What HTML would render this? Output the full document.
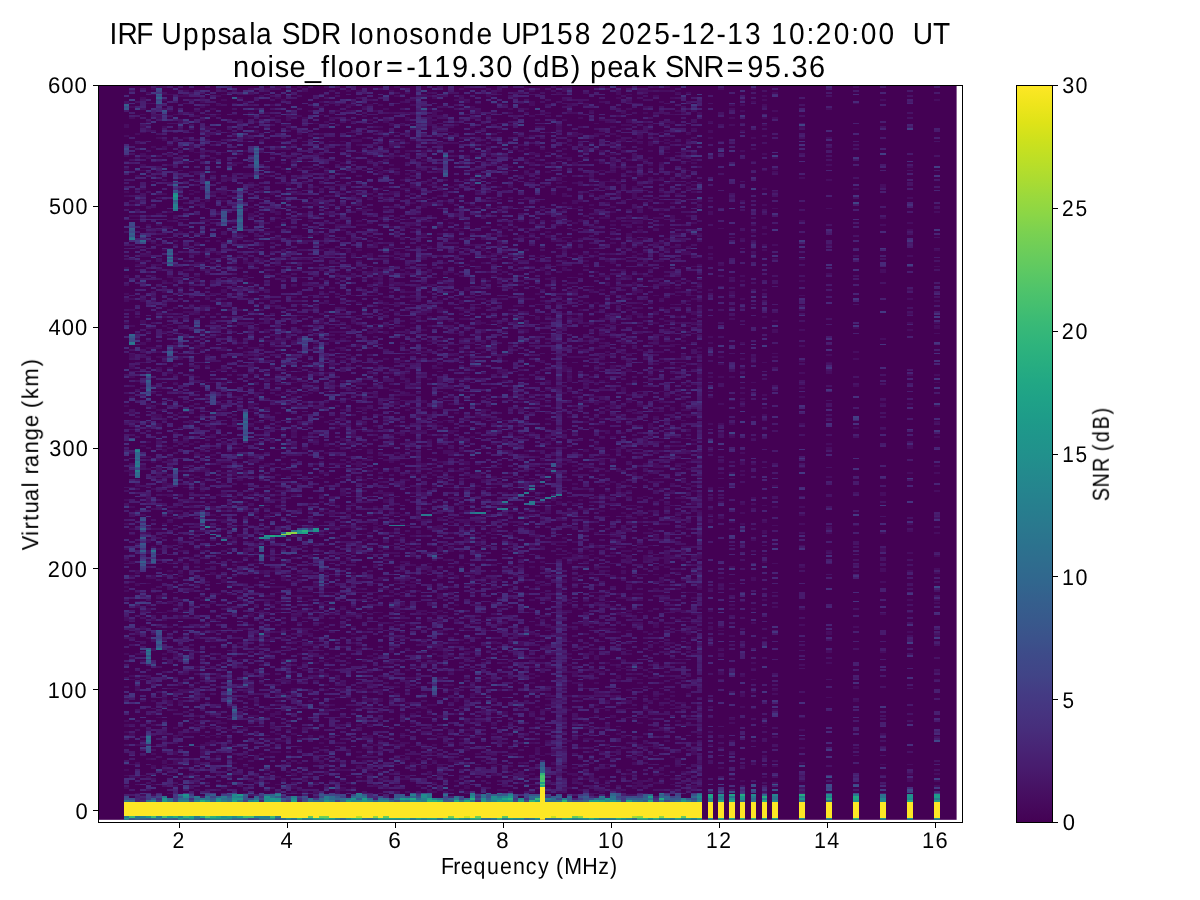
<!DOCTYPE html>
<html><head><meta charset="utf-8"><style>
html,body{margin:0;padding:0;background:#fff;width:1200px;height:900px;overflow:hidden}
svg{display:block}
text{font-family:"Liberation Sans",sans-serif;fill:#000}
</style></head><body>
<svg width="1200" height="900" viewBox="0 0 1200 900" text-rendering="geometricPrecision">
<defs>
<clipPath id="dc"><rect x="98.25" y="85.5" width="858.35" height="734.30"/></clipPath>
<linearGradient id="vg" x1="0" y1="1" x2="0" y2="0">
<stop offset="0.000" stop-color="#440154"/><stop offset="0.025" stop-color="#460a5d"/><stop offset="0.050" stop-color="#471365"/><stop offset="0.075" stop-color="#481c6e"/><stop offset="0.100" stop-color="#482475"/><stop offset="0.125" stop-color="#472d7b"/><stop offset="0.150" stop-color="#463480"/><stop offset="0.175" stop-color="#443b84"/><stop offset="0.200" stop-color="#414487"/><stop offset="0.225" stop-color="#3e4a89"/><stop offset="0.250" stop-color="#3b528b"/><stop offset="0.275" stop-color="#38598c"/><stop offset="0.300" stop-color="#355f8d"/><stop offset="0.325" stop-color="#31668e"/><stop offset="0.350" stop-color="#2f6c8e"/><stop offset="0.375" stop-color="#2c728e"/><stop offset="0.400" stop-color="#2a788e"/><stop offset="0.425" stop-color="#277e8e"/><stop offset="0.450" stop-color="#25848e"/><stop offset="0.475" stop-color="#238a8d"/><stop offset="0.500" stop-color="#21918c"/><stop offset="0.525" stop-color="#1f968b"/><stop offset="0.550" stop-color="#1e9c89"/><stop offset="0.575" stop-color="#1fa287"/><stop offset="0.600" stop-color="#22a884"/><stop offset="0.625" stop-color="#28ae80"/><stop offset="0.650" stop-color="#2fb47c"/><stop offset="0.675" stop-color="#38b977"/><stop offset="0.700" stop-color="#44bf70"/><stop offset="0.725" stop-color="#50c46a"/><stop offset="0.750" stop-color="#5ec962"/><stop offset="0.775" stop-color="#6ccd5a"/><stop offset="0.800" stop-color="#7ad151"/><stop offset="0.825" stop-color="#8bd646"/><stop offset="0.850" stop-color="#9bd93c"/><stop offset="0.875" stop-color="#addc30"/><stop offset="0.900" stop-color="#bddf26"/><stop offset="0.925" stop-color="#cde11d"/><stop offset="0.950" stop-color="#dfe318"/><stop offset="0.975" stop-color="#efe51c"/><stop offset="1.000" stop-color="#fde725"/>
</linearGradient>
</defs>
<rect x="98.25" y="85.5" width="858.35" height="734.30" fill="#440154"/>
<g clip-path="url(#dc)"><g transform="translate(124.0,84.534) scale(5.403,1.811)" fill="none" stroke-width="1" shape-rendering="crispEdges">
<path stroke="#470d60" d="M0.5 0v1m0 21v2m0 4v1m0 10v1m0 2v1m0 3v1m0 12v1m0 1v1m0 39v1m0 3v1m0 9v1m0 2v2m0 11v1m0 45v1m0 35v1m0 15v1m0 12v1m0 13v1m0 5v1m0 14v1m0 1v1m0 14v2m0 18v1m0 9v1m0 14v1m0 11v1m0 1v2m0 2v1m0 17v1m0 2v1m0 2v1m0 6v1M1.5 12v1m0 5v1m0 53v1m0 1v1m0 43v1m0 5v1m0 8v1m0 15v2m0 5v1m0 4v1m0 10v1m0 8v1m0 31v2m0 7v1m0 10v1m0 11v1m0 2v1m0 10v1m0 3v1m0 7v1m0 44v1m0 9v1m0 1v1m0 29v2M2.5 27v1m0 12v1m0 9v1m0 7v1m0 5v2m0 6v1m0 1v1m0 8v1m0 6v1m0 6v1m0 1v1m0 7v1m0 20v1m0 8v1m0 47v1m0 34v2m0 13v1m0 32v2m0 5v2m0 3v1m0 4v1m0 2v1m0 14v1m0 10v1m0 12v1m0 4v2m0 30v1m0 9v1m0 7v1m0 8v1M3.5 0v1m0 6v1m0 8v1m0 6v1m0 2v1m0 4v1m0 6v1m0 5v1m0 2v1m0 9v1m0 8v1m0 12v1m0 14v1m0 2v1m0 1v2m0 15v1m0 2v1m0 10v2m0 10v2m0 21v1m0 33v1m0 10v2m0 25v1m0 61v1m0 14v1m0 3v1m0 21v1m0 21v1m0 29v1M4.5 0v1m0 3v1m0 5v1m0 9v1m0 1v1m0 1v1m0 14v2m0 36v1m0 1v1m0 1v1m0 4v1m0 6v2m0 46v1m0 3v1m0 30v2m0 8v1m0 2v1m0 7v1m0 7v1m0 6v1m0 8v1m0 7v2m0 13v1m0 2v1m0 4v1m0 9v1m0 9v1m0 2v1m0 11v1m0 1v2m0 14v1m0 21v1m0 44v1m0 9v1M5.5 2v1m0 2v1m0 28v1m0 15v1m0 30v1m0 2v1m0 2v1m0 17v1m0 28v1m0 10v1m0 24v1m0 7v1m0 1v1m0 1v1m0 25v1m0 14v1m0 10v1m0 10v1m0 9v1m0 15v2m0 5v1m0 1v1m0 14v1m0 34v1m0 9v1m0 6v1m0 5v1m0 15v1m0 6v1m0 9v1m0 5v1M6.5 1v1m0 15v2m0 10v1m0 12v1m0 5v1m0 22v1m0 5v1m0 10v1m0 10v1m0 2v1m0 22v1m0 1v1m0 1v1m0 15v1m0 1v1m0 2v1m0 5v1m0 10v1m0 1v1m0 6v1m0 2v1m0 2v2m0 3v2m0 7v1m0 3v1m0 6v1m0 5v1m0 31v1m0 10v1m0 7v1m0 2v1m0 14v1m0 16v1m0 46v1m0 2v1M7.5 1v1m0 3v1m0 2v1m0 14v1m0 6v1m0 3v1m0 25v1m0 2v1m0 18v1m0 8v1m0 16v1m0 5v1m0 11v1m0 1v1m0 4v1m0 2v1m0 13v1m0 34v1m0 15v2m0 17v2m0 4v1m0 15v1m0 6v1m0 21v1m0 19v1m0 3v1m0 18v1m0 23v2m0 11v1m0 10v1m0 3v1m0 6v2m0 1v1m0 1v1M8.5 5v1m0 8v1m0 18v1m0 4v1m0 5v1m0 25v1m0 4v1m0 2v1m0 21v1m0 4v2m0 2v1m0 6v1m0 17v1m0 3v1m0 17v1m0 1v2m0 9v1m0 3v1m0 26v1m0 4v1m0 2v1m0 11v1m0 5v2m0 8v1m0 1v1m0 2v1m0 12v1m0 13v1m0 1v1m0 15v1m0 3v1m0 8v1m0 4v1m0 6v1m0 28v2m0 33v1m0 2v1m0 12v1M9.5 16v1m0 24v1m0 10v1m0 19v1m0 20v1m0 1v2m0 10v2m0 2v1m0 16v1m0 13v1m0 11v1m0 5v1m0 3v1m0 4v1m0 22v1m0 40v1m0 1v1m0 3v1m0 23v1m0 8v1m0 11v1m0 2v1m0 13v1m0 12v2m0 17v1m0 1v1m0 9v1m0 9v1m0 4v1m0 7v2m0 3v3m0 11v1M10.5 6v1m0 13v1m0 18v1m0 1v1m0 8v1m0 9v1m0 6v1m0 13v1m0 25v1m0 7v1m0 22v1m0 12v1m0 29v1m0 7v1m0 7v1m0 29v1m0 2v1m0 4v1m0 1v1m0 15v1m0 3v1m0 3v1m0 1v1m0 5v1m0 1v1m0 16v2m0 1v1m0 1v2m0 4v1m0 5v1m0 10v1m0 14v1m0 3v1m0 4v2m0 16v2m0 10v1m0 2v1m0 9v1M11.5 3v1m0 1v2m0 22v1m0 12v2m0 19v1m0 15v1m0 9v1m0 12v1m0 6v1m0 15v1m0 71v1m0 12v1m0 11v1m0 42v1m0 10v1m0 13v1m0 34v1m0 3v1m0 4v1m0 30v1m0 15v1M12.5 15v1m0 18v1m0 1v1m0 11v1m0 11v1m0 32v1m0 7v1m0 10v1m0 8v1m0 3v1m0 16v1m0 3v1m0 13v1m0 8v1m0 16v2m0 10v1m0 16v1m0 2v2m0 9v1m0 2v1m0 2v1m0 25v1m0 17v1m0 31v1m0 5v1m0 16v1m0 4v1m0 12v1m0 1v1m0 2v1m0 22v1M13.5 14v1m0 2v1m0 19v1m0 14v1m0 6v1m0 27v1m0 5v1m0 4v1m0 6v1m0 20v1m0 17v2m0 15v1m0 21v1m0 13v1m0 5v1m0 12v1m0 5v1m0 4v1m0 7v1m0 7v1m0 2v1m0 9v1m0 2v1m0 4v1m0 11v1m0 6v1m0 20v2m0 15v1m0 18v1m0 7v1m0 2v1m0 1v1m0 3v1m0 15v2m0 4v1m0 2v1m0 2v1m0 3v1M14.5 7v1m0 1v1m0 2v1m0 6v1m0 18v1m0 26v1m0 26v1m0 5v1m0 23v1m0 13v2m0 8v1m0 16v1m0 38v1m0 1v1m0 8v1m0 3v1m0 1v1m0 4v1m0 8v1m0 10v1m0 6v1m0 5v1m0 21v1m0 4v1m0 13v1m0 3v1m0 13v1m0 10v1m0 9v1m0 15v1m0 10v1m0 2v1m0 1v2M15.5 0v1m0 22v2m0 1v2m0 24v1m0 10v2m0 9v2m0 1v1m0 19v1m0 6v1m0 12v1m0 4v1m0 3v1m0 10v1m0 11v1m0 5v1m0 16v1m0 4v1m0 34v1m0 15v1m0 2v1m0 42v1m0 45v1m0 9v1m0 16v1m0 12v1m0 2v2M16.5 13v1m0 3v1m0 19v1m0 2v1m0 1v1m0 9v1m0 7v1m0 31v1m0 9v1m0 12v1m0 7v1m0 6v1m0 8v1m0 24v1m0 17v1m0 5v2m0 3v1m0 7v1m0 2v1m0 1v1m0 26v1m0 3v1m0 5v1m0 25v2m0 15v1m0 14v1m0 4v1m0 21v1m0 19v1m0 2v1m0 3v1m0 3v1m0 2v2m0 9v1M17.5 6v1m0 4v1m0 4v1m0 9v1m0 5v1m0 25v2m0 10v1m0 8v1m0 6v1m0 6v1m0 25v1m0 18v1m0 7v1m0 10v1m0 10v1m0 3v1m0 3v1m0 31v2m0 16v1m0 11v1m0 1v1m0 2v1m0 26v1m0 10v1m0 12v1m0 30v3m0 18v1m0 4v2m0 7v1m0 9v2m0 1v1m0 6v1M18.5 5v1m0 2v1m0 28v1m0 13v1m0 7v2m0 1v1m0 1v1m0 25v1m0 3v1m0 18v2m0 1v1m0 15v1m0 12v1m0 11v1m0 6v1m0 9v1m0 4v1m0 18v1m0 9v1m0 5v1m0 1v1m0 3v1m0 1v1m0 2v1m0 14v1m0 25v1m0 4v1m0 1v2m0 5v1m0 4v1m0 16v1m0 4v1m0 8v1m0 10v1m0 10v1m0 13v1m0 6v1m0 28v1M19.5 26v1m0 20v1m0 3v2m0 23v1m0 8v1m0 4v1m0 6v1m0 30v1m0 24v1m0 34v1m0 19v1m0 5v1m0 7v1m0 11v1m0 6v1m0 1v1m0 12v1m0 19v1m0 4v1m0 3v1m0 2v1m0 11v1m0 42v1m0 4v1m0 7v1m0 4v1m0 3v1m0 19v1m0 1v1M20.5 10v1m0 5v1m0 11v1m0 14v1m0 17v1m0 14v1m0 10v1m0 27v1m0 24v1m0 2v1m0 13v1m0 6v1m0 9v1m0 11v1m0 25v4m0 12v1m0 6v1m0 8v1m0 5v2m0 1v1m0 11v1m0 1v1m0 21v1m0 25v1m0 6v1m0 5v1m0 5v1m0 3v1m0 1v1m0 12v1m0 10v1m0 9v1M21.5 7v1m0 11v1m0 23v1m0 38v1m0 2v1m0 8v1m0 6v1m0 22v1m0 17v1m0 29v1m0 3v1m0 21v1m0 1v1m0 4v1m0 3v1m0 1v1m0 6v1m0 24v1m0 19v1m0 4v1m0 1v1m0 11v1m0 1v1m0 15v1m0 7v1m0 8v1m0 2v1m0 51v1M22.5 9v1m0 18v2m0 1v1m0 4v1m0 12v1m0 8v1m0 10v1m0 25v1m0 1v2m0 6v1m0 1v1m0 7v1m0 16v2m0 10v1m0 2v1m0 1v2m0 48v1m0 4v1m0 8v1m0 6v1m0 9v1m0 4v1m0 21v1m0 17v1m0 1v1m0 1v1m0 6v1m0 13v1m0 25v1m0 8v1m0 19v1m0 2v1m0 6v1m0 10v1M23.5 2v1m0 2v1m0 9v1m0 1v1m0 5v1m0 2v1m0 22v1m0 4v1m0 3v1m0 5v1m0 2v1m0 3v2m0 36v1m0 8v1m0 6v1m0 9v1m0 1v1m0 7v1m0 2v1m0 10v1m0 2v1m0 4v1m0 8v2m0 2v1m0 7v1m0 16v1m0 2v1m0 2v1m0 12v1m0 9v1m0 8v1m0 8v1m0 2v1m0 4v1m0 3v1m0 27v2m0 7v1m0 37v1m0 8v1m0 35v1M24.5 20v1m0 4v2m0 30v1m0 10v1m0 7v1m0 14v1m0 6v1m0 14v1m0 20v2m0 9v1m0 2v1m0 1v1m0 1v2m0 18v1m0 6v1m0 2v1m0 3v1m0 8v1m0 10v1m0 9v1m0 11v1m0 7v1m0 21v1m0 3v1m0 1v1m0 15v1m0 22v1m0 1v1m0 5v1m0 29v1m0 3v1m0 2v1m0 33v1m0 1v1M25.5 6v1m0 10v1m0 12v1m0 20v1m0 4v1m0 1v1m0 22v1m0 5v1m0 8v2m0 20v1m0 12v1m0 12v1m0 4v1m0 18v1m0 38v1m0 4v1m0 20v1m0 34v2m0 20v1m0 5v1m0 11v1m0 18v1m0 2v1m0 22v1m0 15v1M26.5 2v1m0 12v1m0 30v1m0 3v1m0 30v1m0 22v1m0 13v1m0 2v1m0 6v1m0 6v1m0 5v1m0 20v1m0 15v1m0 5v1m0 9v1m0 14v1m0 15v2m0 10v1m0 1v1m0 5v1m0 8v1m0 5v1m0 9v1m0 3v1m0 7v1m0 2v1m0 6v1m0 6v1m0 3v1m0 2v2m0 1v1m0 4v1m0 28v1m0 1v1m0 3v1m0 11v1M27.5 11v1m0 6v1m0 22v1m0 18v1m0 7v1m0 6v1m0 5v1m0 8v1m0 9v1m0 5v1m0 15v1m0 18v1m0 2v1m0 10v2m0 5v1m0 33v1m0 14v1m0 11v1m0 3v1m0 19v1m0 12v1m0 7v1m0 4v1m0 3v1m0 4v1m0 1v1m0 2v1m0 17v1m0 28v1m0 12v2m0 5v1m0 6v1m0 4v1m0 1v1M28.5 1v1m0 5v1m0 2v1m0 6v1m0 13v1m0 3v1m0 27v1m0 6v2m0 1v1m0 4v1m0 5v2m0 13v1m0 4v1m0 29v1m0 3v2m0 1v2m0 17v1m0 4v1m0 5v1m0 4v1m0 4v1m0 6v1m0 12v1m0 13v1m0 10v1m0 2v1m0 31v1m0 15v1m0 2v1m0 5v1m0 2v1m0 12v1m0 9v1m0 16v1m0 1v1m0 4v1m0 9v2m0 10v1m0 3v1m0 5v1m0 13v1m0 3v1M29.5 8v1m0 13v1m0 8v1m0 3v1m0 7v1m0 2v1m0 7v1m0 37v1m0 2v1m0 9v1m0 1v1m0 43v1m0 18v1m0 20v1m0 17v1m0 12v1m0 8v1m0 1v1m0 1v1m0 9v1m0 10v1m0 6v1m0 8v2m0 3v1m0 18v1m0 3v1m0 4v1m0 11v2m0 9v1m0 33v1m0 20v2M30.5 15v1m0 2v2m0 2v1m0 17v1m0 7v1m0 6v1m0 11v1m0 10v1m0 1v1m0 4v1m0 10v1m0 8v2m0 33v1m0 17v1m0 14v1m0 1v1m0 9v1m0 15v1m0 38v1m0 60v1m0 9v1m0 7v1m0 1v1m0 8v1m0 4v1m0 34v1m0 1v1m0 2v1m0 3v1M31.5 2v1m0 14v1m0 6v1m0 8v1m0 3v1m0 13v1m0 8v1m0 12v1m0 5v1m0 20v1m0 10v1m0 5v1m0 10v1m0 12v1m0 10v1m0 8v1m0 2v1m0 2v1m0 4v1m0 4v1m0 11v2m0 1v2m0 5v1m0 15v1m0 4v1m0 5v1m0 21v1m0 21v1m0 1v1m0 9v1m0 10v1m0 13v1m0 25v2m0 23v1m0 21v1m0 6v2m0 1v1M32.5 1v1m0 15v1m0 9v1m0 18v1m0 3v1m0 8v1m0 8v1m0 3v1m0 10v3m0 20v1m0 14v1m0 15v1m0 1v1m0 16v1m0 20v1m0 9v1m0 2v1m0 43v1m0 5v1m0 2v1m0 10v1m0 4v1m0 9v1m0 1v1m0 2v1m0 7v1m0 1v1m0 5v1m0 2v1m0 16v1m0 3v1m0 6v1m0 27v1m0 11v1m0 12v1m0 16v1M33.5 3v1m0 14v1m0 23v1m0 2v1m0 3v1m0 4v1m0 10v1m0 5v2m0 23v1m0 1v1m0 10v1m0 17v1m0 8v1m0 12v1m0 11v1m0 3v1m0 5v1m0 10v1m0 5v1m0 5v1m0 5v2m0 16v1m0 30v1m0 29v1m0 2v1m0 8v1m0 2v1m0 5v1m0 1v2m0 7v2m0 6v1m0 3v1m0 3v1m0 1v1m0 14v1m0 38v1m0 6v1M34.5 14v1m0 12v1m0 29v1m0 17v1m0 22v1m0 55v1m0 4v1m0 7v1m0 2v1m0 16v1m0 5v1m0 41v1m0 17v1m0 5v2m0 4v1m0 3v1m0 9v1m0 2v1m0 1v1m0 8v1m0 6v1m0 2v1m0 5v1m0 3v1m0 2v1m0 18v1m0 4v1m0 9v1m0 9v1m0 18v1m0 2v1M35.5 21v1m0 16v1m0 7v1m0 9v1m0 8v2m0 15v1m0 27v1m0 11v1m0 6v1m0 8v1m0 5v1m0 1v1m0 9v1m0 3v1m0 5v1m0 2v1m0 26v1m0 1v1m0 3v1m0 41v1m0 19v1m0 10v2m0 13v1m0 16v1m0 1v1m0 1v1m0 7v1m0 4v1m0 2v1m0 28v1m0 28v1m0 5v1M36.5 9v1m0 2v1m0 3v1m0 10v1m0 12v1m0 9v1m0 7v1m0 29v1m0 2v1m0 3v1m0 21v1m0 12v2m0 46v1m0 4v1m0 30v1m0 2v1m0 8v1m0 20v1m0 1v1m0 9v1m0 32v1m0 4v1m0 2v1m0 14v1m0 9v1m0 18v1m0 14v1m0 3v1m0 7v1m0 2v1M37.5 1v1m0 18v1m0 25v1m0 1v2m0 1v1m0 14v2m0 2v2m0 4v1m0 6v2m0 5v1m0 9v1m0 14v1m0 4v1m0 11v1m0 17v1m0 8v1m0 26v1m0 11v2m0 3v1m0 7v1m0 2v1m0 21v1m0 9v1m0 7v1m0 14v1m0 2v1m0 3v2m0 2v1m0 6v1m0 13v1m0 15v1m0 1v1m0 5v1m0 5v1m0 2v1m0 8v1m0 2v1m0 14v1m0 6v1m0 11v1M38.5 18v1m0 12v1m0 29v1m0 28v1m0 3v1m0 17v1m0 14v1m0 6v1m0 1v1m0 1v1m0 1v2m0 6v1m0 2v1m0 3v1m0 9v1m0 2v1m0 5v1m0 15v1m0 15v1m0 20v1m0 3v1m0 4v2m0 6v2m0 31v1m0 10v1m0 3v1m0 23v1m0 6v1m0 18v1m0 16v1m0 24v1m0 1v1M39.5 14v1m0 27v1m0 26v1m0 5v1m0 1v1m0 14v1m0 3v1m0 7v1m0 28v1m0 2v1m0 8v1m0 4v1m0 15v1m0 20v1m0 1v1m0 9v1m0 9v1m0 34v1m0 35v1m0 10v1m0 35v1m0 5v1m0 10v2m0 7v1m0 9v1m0 9v1m0 4v1m0 11v1M40.5 31v1m0 3v1m0 7v1m0 33v1m0 2v1m0 4v1m0 8v1m0 1v1m0 22v1m0 3v1m0 12v1m0 1v1m0 1v1m0 5v1m0 16v1m0 15v1m0 2v2m0 4v1m0 6v2m0 4v1m0 7v1m0 1v1m0 13v2m0 17v1m0 9v1m0 5v1m0 24v1m0 2v1m0 4v1m0 4v1m0 23v1m0 7v1m0 2v2m0 14v1m0 15v1m0 12v1m0 5v1m0 1v1m0 1v2M41.5 3v1m0 7v1m0 2v1m0 40v1m0 35v2m0 8v1m0 1v1m0 1v1m0 27v2m0 9v1m0 10v1m0 17v1m0 13v1m0 10v1m0 6v1m0 11v1m0 15v1m0 1v1m0 7v2m0 4v1m0 12v1m0 30v1m0 25v1m0 18v1m0 29v1m0 9v1m0 2v1m0 11v1M42.5 11v1m0 18v2m0 15v1m0 10v2m0 1v1m0 4v1m0 26v1m0 11v1m0 10v1m0 12v1m0 1v1m0 36v1m0 2v1m0 18v1m0 2v1m0 8v1m0 4v1m0 1v1m0 3v1m0 10v1m0 2v1m0 3v1m0 4v1m0 8v1m0 1v1m0 8v3m0 10v1m0 9v1m0 8v1m0 4v1m0 5v1m0 3v1m0 1v1m0 2v1m0 30v1m0 5v1m0 40v1m0 1v1M43.5 3v1m0 26v2m0 1v1m0 3v1m0 21v1m0 2v1m0 6v1m0 5v1m0 1v1m0 13v1m0 5v1m0 4v1m0 17v1m0 6v1m0 15v2m0 19v2m0 12v1m0 9v1m0 19v3m0 6v1m0 26v1m0 8v1m0 24v1m0 13v1m0 8v1m0 7v1m0 1v1m0 20v1m0 1v1m0 18v1m0 14v1m0 2v1m0 4v1M44.5 10v1m0 1v1m0 4v1m0 3v1m0 4v1m0 2v1m0 8v1m0 30v1m0 7v1m0 1v1m0 15v1m0 4v1m0 27v1m0 49v2m0 7v1m0 9v1m0 9v1m0 10v1m0 1v1m0 27v1m0 2v1m0 20v1m0 37v1m0 9v1m0 2v1m0 6v1m0 2v2m0 4v1m0 26v1m0 6v1m0 3v1m0 3v1M45.5 11v1m0 7v1m0 21v1m0 20v1m0 16v1m0 13v3m0 7v1m0 2v1m0 14v1m0 14v2m0 63v2m0 2v1m0 24v1m0 6v1m0 9v1m0 2v1m0 4v1m0 3v1m0 29v1m0 5v1m0 19v1m0 1v1m0 6v1m0 5v1m0 2v1m0 1v1m0 4v1m0 2v1m0 1v1m0 7v1m0 5v2m0 6v1m0 1v1m0 8v1m0 1v1M46.5 14v1m0 18v1m0 11v1m0 12v2m0 1v1m0 19v1m0 5v2m0 17v2m0 1v1m0 6v1m0 17v3m0 6v1m0 8v1m0 1v1m0 1v1m0 3v1m0 6v1m0 3v1m0 16v1m0 2v1m0 26v1m0 14v1m0 7v2m0 1v2m0 19v1m0 7v1m0 26v1m0 11v1m0 3v1m0 17v1m0 29v1m0 8v1m0 13v1M47.5 11v1m0 11v1m0 1v1m0 17v1m0 1v2m0 1v2m0 7v1m0 3v1m0 11v2m0 26v1m0 2v1m0 1v1m0 1v1m0 1v2m0 7v1m0 38v1m0 6v1m0 16v1m0 21v1m0 11v1m0 2v1m0 5v1m0 17v1m0 29v1m0 8v2m0 7v1m0 5v1m0 1v1m0 21v1m0 12v2m0 3v2m0 5v1m0 15v1m0 1v1m0 2v1m0 11v1m0 4v1M48.5 13v1m0 6v1m0 5v1m0 8v1m0 6v1m0 5v1m0 7v1m0 5v1m0 6v1m0 2v1m0 16v1m0 11v1m0 9v1m0 5v1m0 2v2m0 1v1m0 1v1m0 7v1m0 2v2m0 13v1m0 15v1m0 18v1m0 20v1m0 9v1m0 3v1m0 3v1m0 1v1m0 1v2m0 27v1m0 13v1m0 5v1m0 40v1m0 7v1m0 55v1M49.5 3v1m0 11v1m0 6v1m0 4v1m0 6v1m0 5v1m0 3v1m0 14v2m0 6v1m0 10v1m0 10v1m0 1v1m0 2v1m0 8v2m0 3v2m0 1v1m0 18v1m0 25v1m0 1v2m0 8v1m0 16v1m0 7v1m0 2v1m0 2v1m0 8v1m0 3v1m0 12v1m0 9v1m0 1v1m0 9v1m0 6v1m0 3v1m0 3v1m0 16v1m0 2v1m0 14v1m0 12v1m0 1v2m0 24v2m0 35v1M50.5 1v1m0 4v1m0 32v1m0 6v1m0 2v1m0 23v1m0 10v1m0 7v1m0 3v1m0 13v1m0 10v1m0 3v1m0 1v1m0 24v1m0 15v1m0 4v1m0 1v2m0 26v1m0 3v1m0 28v1m0 9v1m0 2v1m0 1v1m0 6v1m0 14v1m0 16v1m0 7v1m0 6v1m0 12v1m0 13v1m0 3v1m0 25v1m0 1v1m0 5v1m0 1v1m0 6v1M51.5 5v1m0 3v1m0 12v1m0 7v1m0 21v1m0 4v1m0 26v1m0 8v2m0 7v1m0 2v1m0 3v2m0 2v1m0 2v1m0 16v1m0 10v1m0 5v1m0 1v1m0 7v2m0 2v1m0 4v1m0 1v1m0 21v1m0 21v1m0 5v2m0 14v1m0 4v1m0 20v1m0 4v1m0 5v1m0 7v1m0 3v2m0 3v1m0 1v1m0 2v1m0 2v1m0 5v1m0 11v1m0 25v1m0 3v1m0 10v1m0 1v1m0 2v1m0 1v1m0 6v1m0 10v1M52.5 4v1m0 10v1m0 2v2m0 12v1m0 3v1m0 2v1m0 9v1m0 1v1m0 7v1m0 14v1m0 3v1m0 24v2m0 9v1m0 2v1m0 18v2m0 16v1m0 2v1m0 1v1m0 2v1m0 1v2m0 4v2m0 2v1m0 2v1m0 1v1m0 8v1m0 8v1m0 2v1m0 3v1m0 13v1m0 18v1m0 17v1m0 7v1m0 9v1m0 2v1m0 2v1m0 8v1m0 34v1m0 3v1m0 3v1m0 3v1m0 5v1m0 21v1m0 7v1m0 4v1m0 4v1m0 1v1M53.5 8v1m0 2v1m0 4v1m0 13v1m0 17v1m0 6v2m0 8v1m0 11v1m0 33v1m0 2v1m0 2v1m0 1v1m0 1v1m0 7v1m0 1v1m0 2v1m0 13v1m0 17v1m0 4v1m0 19v2m0 4v1m0 15v1m0 1v1m0 9v1m0 23v1m0 2v1m0 12v1m0 8v1m0 1v2m0 20v1m0 13v1m0 8v1m0 5v1m0 5v1m0 13v1m0 1v1m0 2v1m0 12v1m0 8v1m0 2v1M54.5 32v1m0 9v1m0 3v1m0 6v1m0 3v1m0 11v1m0 1v1m0 7v1m0 3v1m0 21v1m0 5v1m0 14v1m0 2v1m0 17v1m0 3v1m0 1v1m0 12v1m0 11v1m0 3v1m0 8v1m0 16v1m0 5v1m0 12v1m0 4v1m0 4v1m0 2v1m0 5v2m0 7v1m0 18v1m0 4v1m0 10v1m0 4v1m0 11v1m0 9v1m0 3v1m0 4v1m0 5v1m0 13v1m0 25v1m0 14v1M55.5 6v1m0 5v1m0 23v2m0 3v1m0 1v1m0 3v1m0 6v1m0 7v1m0 2v3m0 7v1m0 6v2m0 4v1m0 7v1m0 4v1m0 7v1m0 13v1m0 1v2m0 8v1m0 11v1m0 26v2m0 2v1m0 3v1m0 1v1m0 3v1m0 2v1m0 17v1m0 5v1m0 7v1m0 16v1m0 2v1m0 25v1m0 20v1m0 1v1m0 15v2m0 5v2m0 19v1m0 1v1m0 4v2m0 19v1m0 6v1M56.5 0v1m0 3v1m0 1v1m0 6v1m0 3v1m0 1v4m0 30v1m0 1v1m0 2v1m0 6v2m0 22v1m0 13v1m0 6v1m0 14v1m0 2v1m0 4v1m0 7v1m0 5v1m0 14v1m0 24v1m0 5v1m0 2v1m0 38v1m0 2v1m0 6v1m0 8v1m0 9v1m0 2v2m0 26v2m0 14v1m0 7v1m0 22v1m0 2v1m0 1v1m0 6v1m0 11v1m0 2v1m0 5v1m0 4v1m0 9v1M57.5 7v1m0 6v4m0 10v1m0 2v1m0 4v1m0 18v1m0 45v1m0 16v1m0 2v1m0 34v1m0 23v1m0 6v1m0 18v1m0 6v1m0 1v1m0 5v1m0 7v1m0 14v1m0 39v1m0 7v1m0 8v1m0 10v1m0 6v1m0 22v1m0 11v1m0 9v1m0 3v1m0 4v1m0 9v1m0 1v1m0 4v1M58.5 6v1m0 7v1m0 2v1m0 5v1m0 8v2m0 13v2m0 7v1m0 1v1m0 2v1m0 3v1m0 12v1m0 3v1m0 17v1m0 7v1m0 10v1m0 3v2m0 5v1m0 1v1m0 11v1m0 9v1m0 1v1m0 21v1m0 7v1m0 1v1m0 1v1m0 7v1m0 9v1m0 30v1m0 3v3m0 21v1m0 2v1m0 1v1m0 8v2m0 7v1m0 4v1m0 6v1m0 5v1m0 1v3m0 2v1m0 11v1m0 10v1m0 9v2m0 8v1m0 1v1m0 10v1m0 4v1m0 4v1M59.5 12v1m0 10v1m0 35v1m0 4v1m0 22v1m0 10v1m0 5v1m0 19v1m0 1v1m0 13v1m0 3v1m0 25v1m0 14v1m0 4v1m0 3v1m0 1v1m0 5v2m0 18v1m0 30v1m0 8v1m0 8v1m0 6v1m0 22v1m0 1v1m0 9v2m0 23v1m0 24v1m0 19v1M60.5 23v1m0 2v1m0 5v1m0 23v1m0 8v1m0 7v1m0 2v1m0 8v1m0 17v1m0 5v2m0 19v1m0 3v1m0 13v1m0 2v1m0 1v1m0 18v1m0 3v1m0 9v1m0 4v2m0 9v2m0 12v1m0 19v1m0 4v1m0 14v2m0 50v1m0 2v1m0 3v1m0 8v1m0 6v1m0 2v1m0 37v2m0 15v1M61.5 8v1m0 13v1m0 9v1m0 6v1m0 15v1m0 6v1m0 5v1m0 11v1m0 10v1m0 12v1m0 32v1m0 11v1m0 7v1m0 4v1m0 18v1m0 9v1m0 3v1m0 10v1m0 6v1m0 9v1m0 4v1m0 3v1m0 5v1m0 9v1m0 4v1m0 17v1m0 11v1m0 3v1m0 8v1m0 11v1m0 14v1m0 10v1m0 4v2m0 6v1m0 25v1m0 10v1M62.5 2v1m0 3v1m0 1v1m0 10v1m0 59v1m0 1v1m0 23v1m0 13v2m0 3v1m0 1v1m0 2v1m0 10v1m0 5v1m0 5v1m0 9v1m0 13v1m0 24v2m0 5v1m0 4v1m0 4v1m0 9v1m0 2v1m0 4v1m0 1v1m0 2v1m0 15v1m0 8v1m0 33v1m0 5v1m0 5v1m0 30v1m0 17v1m0 2v1m0 8v1m0 7v2m0 6v1M63.5 9v1m0 3v1m0 26v1m0 3v1m0 3v1m0 19v1m0 8v1m0 6v2m0 13v1m0 12v2m0 10v1m0 4v1m0 3v1m0 13v1m0 1v1m0 9v1m0 1v1m0 1v1m0 20v1m0 12v1m0 10v2m0 2v1m0 2v1m0 1v1m0 5v1m0 8v1m0 2v1m0 4v2m0 8v1m0 13v1m0 11v1m0 17v1m0 13v1m0 4v1m0 8v1m0 16v1m0 12v1m0 3v1m0 1v1m0 7v2m0 7v1m0 5v1m0 5v2m0 1v1M64.5 12v2m0 9v1m0 7v1m0 5v1m0 3v1m0 11v2m0 11v1m0 21v1m0 8v1m0 14v1m0 4v1m0 4v1m0 19v1m0 8v1m0 1v1m0 40v1m0 8v1m0 11v1m0 6v1m0 20v2m0 19v1m0 2v1m0 3v2m0 3v1m0 2v1m0 5v1m0 15v1m0 8v1m0 2v1m0 22v2m0 12v1m0 5v1m0 21v1M65.5 10v1m0 3v2m0 2v1m0 12v1m0 5v1m0 1v1m0 19v1m0 7v1m0 33v1m0 16v1m0 4v1m0 6v3m0 5v1m0 43v2m0 5v1m0 24v2m0 1v1m0 3v1m0 31v1m0 3v1m0 47v1m0 30v1m0 3v1m0 10v1m0 8v1m0 8v1m0 21v1M66.5 27v1m0 5v1m0 3v1m0 4v1m0 3v1m0 38v1m0 5v1m0 6v1m0 32v1m0 4v1m0 5v1m0 2v1m0 1v1m0 5v1m0 1v1m0 25v1m0 1v2m0 31v1m0 1v1m0 3v1m0 4v1m0 1v1m0 10v1m0 2v1m0 7v1m0 12v1m0 7v1m0 1v1m0 15v1m0 5v1m0 29v1m0 1v1m0 16v1m0 1v1m0 3v1M67.5 2v1m0 2v2m0 10v1m0 10v1m0 5v1m0 1v3m0 4v1m0 12v1m0 1v1m0 19v1m0 15v1m0 27v1m0 9v1m0 38v1m0 7v1m0 43v1m0 31v1m0 16v1m0 21v1m0 14v1m0 2v1m0 14v1m0 4v1m0 15v1M68.5 4v1m0 5v1m0 4v1m0 3v1m0 42v1m0 1v1m0 17v1m0 10v1m0 3v1m0 7v1m0 24v1m0 15v1m0 20v1m0 12v1m0 3v2m0 12v1m0 2v1m0 14v1m0 28v2m0 26v1m0 1v1m0 1v2m0 16v1m0 11v2m0 31v1m0 5v1m0 6v1m0 4v1m0 11v1m0 5v1m0 3v2M69.5 3v1m0 20v1m0 9v1m0 8v1m0 12v1m0 10v1m0 2v1m0 9v1m0 6v2m0 7v1m0 5v1m0 1v1m0 1v1m0 1v1m0 9v1m0 14v1m0 16v1m0 6v1m0 1v1m0 29v2m0 38v1m0 3v1m0 39v1m0 9v1m0 14v1m0 35v1m0 54v1M70.5 32v1m0 36v1m0 8v2m0 3v1m0 8v1m0 59v1m0 5v1m0 4v1m0 33v1m0 27v1m0 1v1m0 23v1m0 15v1m0 28v1m0 22v1m0 1v1m0 4v1m0 5v1m0 13v2m0 10v2m0 21v1m0 7v1M71.5 13v1m0 1v1m0 6v1m0 17v1m0 4v1m0 1v1m0 5v1m0 2v1m0 5v1m0 5v1m0 7v1m0 17v1m0 1v1m0 14v1m0 12v1m0 9v1m0 9v1m0 13v1m0 7v1m0 1v1m0 3v2m0 28v1m0 30v1m0 3v1m0 3v1m0 5v2m0 3v1m0 12v1m0 4v1m0 7v1m0 4v1m0 22v1m0 1v1m0 4v1m0 3v1m0 4v1m0 26v1m0 19v2m0 5v1m0 6v1M72.5 7v1m0 19v1m0 7v1m0 59v1m0 1v1m0 1v1m0 22v1m0 3v1m0 3v1m0 12v1m0 42v1m0 1v1m0 2v1m0 2v1m0 38v1m0 23v1m0 13v1m0 22v1m0 14v1m0 5v1m0 13v1m0 51v1M73.5 10v1m0 22v1m0 2v1m0 13v1m0 17v1m0 6v1m0 7v2m0 17v1m0 7v1m0 5v2m0 4v1m0 14v1m0 13v1m0 20v1m0 2v1m0 2v1m0 11v1m0 7v1m0 22v1m0 20v1m0 1v1m0 20v2m0 7v1m0 25v2m0 6v2m0 64v1M74.5 0v1m0 1v1m0 10v1m0 21v1m0 5v2m0 4v1m0 1v1m0 13v1m0 15v1m0 4v1m0 33v1m0 6v1m0 9v2m0 25v1m0 10v1m0 28v1m0 1v1m0 30v1m0 1v1m0 7v1m0 25v1m0 9v1m0 22v1m0 2v1m0 7v1m0 43v1m0 22v1M75.5 3v1m0 5v3m0 5v1m0 10v1m0 9v1m0 1v1m0 2v1m0 2v1m0 15v1m0 11v2m0 6v1m0 1v1m0 15v1m0 17v1m0 21v1m0 30v1m0 3v1m0 16v1m0 1v1m0 25v1m0 1v1m0 6v1m0 4v1m0 14v1m0 4v2m0 10v1m0 17v1m0 6v1m0 11v1m0 2v1m0 14v1m0 3v1m0 1v1m0 2v1m0 15v1m0 16v1m0 7v1m0 6v1m0 1v1M76.5 23v1m0 9v1m0 4v1m0 2v1m0 22v1m0 3v1m0 11v1m0 4v1m0 9v1m0 1v1m0 17v1m0 12v2m0 43v1m0 5v1m0 22v1m0 2v1m0 4v1m0 10v1m0 4v1m0 8v1m0 12v1m0 1v1m0 20v1m0 2v1m0 2v1m0 20v1m0 5v1m0 11v1m0 9v1m0 8v1m0 7v1m0 10v1m0 11v3m0 13v1M77.5 15v1m0 7v1m0 11v1m0 8v1m0 32v1m0 16v1m0 6v2m0 16v1m0 1v1m0 9v1m0 20v1m0 24v1m0 18v1m0 10v1m0 9v1m0 10v1m0 3v1m0 7v1m0 14v1m0 7v1m0 3v1m0 8v1m0 3v1m0 25v1m0 3v1m0 11v1m0 6v1m0 15v1m0 7v1m0 2v1m0 8v1m0 4v1M78.5 15v1m0 1v1m0 8v1m0 10v1m0 5v1m0 4v1m0 6v1m0 15v1m0 9v1m0 1v2m0 11v1m0 6v1m0 3v1m0 3v1m0 8v1m0 5v1m0 1v1m0 2v1m0 5v1m0 19v1m0 5v1m0 1v1m0 2v1m0 6v1m0 5v1m0 2v1m0 5v1m0 2v1m0 1v1m0 1v1m0 2v1m0 12v1m0 16v1m0 4v2m0 35v1m0 3v1m0 5v1m0 1v1m0 8v1m0 5v1m0 9v1m0 11v1m0 14v2m0 1v1m0 2v1m0 2v1m0 16v1m0 6v1m0 11v1m0 4v1m0 1v1m0 1v1M79.5 0v1m0 43v1m0 14v2m0 14v1m0 10v1m0 20v1m0 5v1m0 16v1m0 36v1m0 10v1m0 6v1m0 14v1m0 21v1m0 1v1m0 4v1m0 2v1m0 15v1m0 3v1m0 47v1m0 2v1m0 10v1m0 6v1m0 10v1m0 23v1m0 11v1m0 5v2m0 1v1M80.5 4v1m0 18v2m0 1v1m0 13v1m0 10v2m0 1v1m0 13v1m0 3v3m0 2v1m0 7v1m0 13v1m0 17v1m0 2v1m0 14v1m0 6v1m0 23v1m0 12v1m0 8v1m0 9v1m0 29v1m0 1v2m0 8v1m0 11v1m0 1v1m0 15v1m0 7v1m0 111v1M81.5 1v1m0 1v1m0 4v1m0 10v1m0 15v1m0 2v1m0 1v1m0 9v1m0 2v1m0 6v2m0 3v1m0 3v1m0 2v2m0 12v1m0 1v1m0 2v1m0 5v1m0 3v2m0 16v1m0 3v1m0 2v1m0 6v1m0 14v1m0 6v4m0 11v1m0 20v1m0 3v1m0 4v1m0 5v1m0 2v1m0 4v1m0 3v1m0 18v1m0 12v1m0 3v1m0 6v1m0 8v1m0 2v1m0 3v1m0 2v1m0 6v1m0 2v1m0 1v1m0 11v1m0 6v1m0 7v1m0 12v1m0 1v1m0 8v1m0 5v1m0 1v1m0 1v1m0 8v1m0 3v1M82.5 1v1m0 8v2m0 3v1m0 12v1m0 4v1m0 6v1m0 26v1m0 22v1m0 30v1m0 6v1m0 21v1m0 5v1m0 2v2m0 1v2m0 4v1m0 14v1m0 24v1m0 21v1m0 4v1m0 22v1m0 2v1m0 1v2m0 19v1m0 1v1m0 3v1m0 8v1m0 7v1m0 6v1m0 1v1m0 3v1m0 3v1m0 4v1m0 7v1m0 7v1m0 16v1m0 17v1m0 7v1M83.5 0v1m0 14v1m0 11v2m0 14v1m0 10v1m0 9v2m0 2v1m0 7v1m0 3v1m0 5v1m0 6v1m0 12v1m0 6v2m0 1v1m0 13v1m0 19v1m0 21v1m0 28v1m0 8v1m0 9v1m0 10v1m0 3v1m0 5v1m0 10v1m0 3v1m0 2v2m0 1v1m0 10v1m0 1v1m0 24v1m0 23v2m0 4v1m0 7v1m0 10v1m0 2v1m0 3v1m0 1v1m0 18v1m0 2v2m0 1v2M84.5 9v1m0 6v1m0 1v1m0 8v1m0 6v1m0 2v1m0 15v1m0 6v1m0 3v1m0 2v1m0 6v2m0 9v1m0 18v1m0 19v1m0 3v2m0 16v1m0 3v1m0 19v1m0 4v1m0 29v1m0 5v1m0 17v1m0 4v1m0 16v1m0 6v1m0 16v1m0 13v1m0 7v1m0 12v1m0 19v1m0 1v1m0 5v1m0 5v1m0 4v1m0 16v1m0 19v1m0 2v1M85.5 10v2m0 25v1m0 12v1m0 42v1m0 3v1m0 1v1m0 20v1m0 10v1m0 9v1m0 1v1m0 6v1m0 11v1m0 1v1m0 1v1m0 8v1m0 10v1m0 14v2m0 6v1m0 13v1m0 10v1m0 5v1m0 15v1m0 3v2m0 1v1m0 6v1m0 14v1m0 6v1m0 58v1m0 3v1m0 5v1m0 14v1m0 6v1M86.5 14v1m0 17v1m0 18v1m0 8v1m0 5v1m0 1v1m0 9v1m0 16v1m0 17v2m0 12v1m0 4v1m0 7v1m0 17v1m0 4v1m0 8v1m0 12v1m0 3v1m0 20v1m0 2v1m0 10v1m0 32v1m0 1v1m0 9v1m0 41v1m0 1v2m0 10v1m0 2v1m0 26v1m0 2v1m0 2v1m0 6v1m0 1v1M87.5 21v1m0 5v1m0 7v1m0 5v1m0 10v1m0 18v1m0 7v1m0 12v1m0 1v1m0 8v1m0 2v1m0 13v1m0 4v1m0 8v1m0 10v1m0 9v1m0 1v1m0 6v1m0 7v1m0 2v2m0 21v1m0 7v1m0 4v1m0 16v1m0 18v1m0 7v1m0 5v1m0 5v1m0 8v1m0 6v1m0 11v1m0 15v1m0 3v3m0 5v2m0 5v1m0 3v1m0 1v1m0 5v1m0 5v1m0 34v2M88.5 1v1m0 7v1m0 9v1m0 7v1m0 8v1m0 6v1m0 3v1m0 5v1m0 19v1m0 5v1m0 25v1m0 7v1m0 7v1m0 7v1m0 4v1m0 1v1m0 1v1m0 1v1m0 1v1m0 2v1m0 3v1m0 1v1m0 1v1m0 2v1m0 6v1m0 3v1m0 7v1m0 8v1m0 2v1m0 7v1m0 8v1m0 2v2m0 12v1m0 7v1m0 1v1m0 3v1m0 2v1m0 30v1m0 16v1m0 1v1m0 11v1m0 3v1m0 19v1m0 11v1m0 31v1m0 17v1m0 3v1M89.5 20v1m0 18v1m0 13v1m0 11v1m0 2v1m0 2v1m0 1v1m0 19v1m0 3v1m0 7v1m0 3v2m0 6v1m0 1v1m0 6v1m0 11v1m0 4v1m0 3v1m0 1v1m0 3v1m0 7v1m0 2v1m0 9v1m0 2v1m0 1v1m0 11v2m0 11v1m0 8v1m0 6v1m0 3v1m0 2v2m0 9v1m0 17v1m0 11v1m0 2v1m0 7v1m0 1v1m0 3v1m0 14v1m0 18v1m0 16v1m0 3v1m0 4v1m0 7v2m0 11v1m0 8v1m0 1v1m0 6v1M90.5 23v1m0 3v1m0 5v1m0 4v1m0 3v1m0 3v1m0 1v1m0 3v1m0 14v1m0 2v1m0 4v1m0 1v1m0 9v1m0 10v1m0 13v1m0 2v1m0 11v1m0 3v1m0 5v1m0 1v1m0 15v2m0 10v1m0 9v1m0 16v1m0 6v1m0 4v1m0 1v1m0 2v1m0 7v1m0 14v1m0 8v1m0 3v1m0 1v1m0 3v1m0 1v1m0 2v1m0 1v1m0 10v1m0 16v1m0 11v1m0 16v1m0 2v1m0 16v2m0 9v2m0 39v1M91.5 3v3m0 1v1m0 20v1m0 1v1m0 1v1m0 12v1m0 7v2m0 3v1m0 1v2m0 12v1m0 9v1m0 15v1m0 1v1m0 5v1m0 20v1m0 2v1m0 49v1m0 2v1m0 14v1m0 2v1m0 9v1m0 7v1m0 1v2m0 26v1m0 20v1m0 8v1m0 1v1m0 7v2m0 3v1m0 5v1m0 7v1m0 10v1m0 1v1m0 2v2m0 1v1m0 12v1m0 13v1m0 1v1m0 8v1m0 21v2M92.5 15v1m0 6v1m0 1v1m0 5v2m0 2v1m0 2v1m0 8v1m0 41v2m0 12v1m0 2v1m0 5v1m0 4v2m0 23v2m0 4v1m0 7v1m0 11v3m0 7v1m0 5v1m0 8v1m0 12v1m0 13v1m0 5v1m0 10v1m0 1v1m0 6v2m0 4v1m0 3v1m0 1v1m0 2v1m0 7v2m0 13v1m0 4v1m0 3v2m0 23v1m0 4v1m0 17v1m0 18v2m0 4v1m0 16v1M93.5 5v1m0 3v1m0 3v1m0 5v2m0 1v1m0 18v1m0 3v1m0 1v1m0 2v1m0 21v2m0 1v1m0 1v1m0 4v2m0 21v2m0 4v1m0 10v1m0 1v1m0 2v2m0 11v1m0 7v1m0 4v1m0 3v2m0 12v1m0 2v2m0 3v1m0 18v1m0 2v1m0 22v1m0 2v1m0 4v1m0 4v1m0 1v1m0 2v1m0 3v1m0 10v1m0 3v2m0 1v1m0 11v2m0 5v1m0 6v1m0 1v1m0 8v1m0 12v1m0 19v1m0 5v2m0 2v1m0 21v1m0 4v1m0 6v1m0 1v1M94.5 21v1m0 8v2m0 13v1m0 2v1m0 3v1m0 3v1m0 3v3m0 5v1m0 6v1m0 9v2m0 5v1m0 1v1m0 14v2m0 3v2m0 10v1m0 13v1m0 22v1m0 17v1m0 8v1m0 4v1m0 16v1m0 1v2m0 16v1m0 1v1m0 4v1m0 2v2m0 12v1m0 18v1m0 5v1m0 12v1m0 2v1m0 24v1m0 2v1m0 1v2m0 15v1m0 5v1m0 16v1m0 3v1m0 2v2m0 4v1m0 4v1m0 1v2M95.5 3v1m0 1v1m0 4v1m0 17v2m0 2v1m0 2v1m0 5v1m0 8v1m0 4v1m0 6v1m0 5v1m0 6v2m0 1v1m0 1v2m0 4v1m0 1v1m0 4v1m0 1v1m0 2v1m0 1v1m0 3v1m0 8v2m0 5v1m0 2v1m0 2v2m0 5v1m0 3v1m0 8v1m0 30v1m0 10v1m0 39v1m0 8v1m0 3v1m0 11v1m0 1v1m0 14v1m0 10v1m0 2v1m0 4v1m0 7v1m0 23v1m0 6v1m0 1v1m0 21v1m0 7v1m0 3v2m0 3v1m0 14v4M96.5 0v1m0 2v1m0 8v1m0 2v1m0 25v1m0 7v1m0 22v1m0 11v2m0 6v1m0 5v1m0 1v1m0 4v1m0 22v1m0 21v1m0 44v1m0 1v1m0 5v1m0 5v1m0 5v1m0 11v1m0 19v1m0 2v1m0 9v3m0 12v1m0 26v1m0 34v1m0 4v1m0 2v1m0 2v1m0 14v1m0 2v1m0 5v1m0 18v1M97.5 3v1m0 18v1m0 1v1m0 1v1m0 1v1m0 2v3m0 2v1m0 3v1m0 3v1m0 2v1m0 3v1m0 11v2m0 2v2m0 21v1m0 4v1m0 4v1m0 4v1m0 5v1m0 45v1m0 2v1m0 2v1m0 23v3m0 4v1m0 19v1m0 20v1m0 2v1m0 6v1m0 1v1m0 6v1m0 2v1m0 3v1m0 28v1m0 21v1m0 11v1m0 2v1m0 12v1m0 4v1m0 4v1m0 5v1m0 8v1m0 18v1M98.5 1v1m0 4v1m0 9v1m0 12v2m0 21v1m0 9v1m0 10v1m0 5v1m0 7v1m0 19v1m0 8v1m0 8v1m0 5v1m0 9v1m0 1v1m0 3v1m0 6v1m0 2v1m0 22v1m0 2v1m0 6v1m0 11v1m0 6v3m0 5v1m0 1v1m0 12v1m0 16v2m0 15v1m0 3v1m0 7v1m0 19v2m0 2v1m0 5v1m0 10v1m0 6v2m0 9v1m0 1v1m0 26v1m0 11v1m0 1v2m0 3v1M99.5 0v1m0 2v1m0 5v1m0 16v1m0 4v1m0 11v1m0 7v1m0 7v1m0 5v1m0 3v1m0 1v1m0 1v1m0 3v1m0 9v1m0 9v1m0 2v1m0 9v1m0 7v1m0 4v1m0 14v1m0 8v1m0 5v1m0 15v1m0 4v2m0 3v1m0 17v1m0 12v2m0 5v1m0 5v1m0 5v1m0 12v1m0 18v1m0 3v1m0 7v2m0 35v1m0 10v1m0 8v1m0 5v1m0 5v1m0 1v1m0 11v1m0 21v1m0 1v1m0 2v1M100.5 1v1m0 1v1m0 12v1m0 5v1m0 7v1m0 1v1m0 2v1m0 1v1m0 2v1m0 13v1m0 5v1m0 7v1m0 16v1m0 4v2m0 13v1m0 4v1m0 1v1m0 17v1m0 4v1m0 16v1m0 19v1m0 16v1m0 10v1m0 3v1m0 6v1m0 5v1m0 13v1m0 1v2m0 7v1m0 16v6m0 1v1m0 3v2m0 4v1m0 2v1m0 2v1m0 1v1m0 24v1m0 3v1m0 12v1m0 12v1m0 17v1m0 4v1m0 4v1M101.5 7v1m0 8v1m0 3v2m0 4v1m0 4v1m0 16v1m0 3v1m0 12v1m0 6v2m0 8v1m0 6v1m0 31v1m0 8v1m0 10v1m0 1v2m0 2v1m0 11v1m0 18v2m0 11v1m0 2v1m0 4v1m0 7v1m0 9v1m0 2v1m0 3v1m0 14v1m0 20v1m0 12v1m0 16v1m0 17v1m0 7v1m0 5v1m0 5v1m0 6v1m0 1v1m0 4v1m0 28v1m0 11v1m0 2v1m0 2v1M102.5 4v1m0 9v1m0 11v1m0 33v1m0 7v1m0 5v1m0 7v1m0 6v1m0 18v1m0 3v1m0 1v1m0 1v1m0 11v1m0 2v1m0 2v2m0 7v1m0 12v1m0 14v1m0 18v1m0 8v1m0 6v1m0 2v1m0 18v1m0 7v1m0 2v1m0 21v1m0 5v1m0 1v1m0 5v1m0 2v1m0 11v1m0 36v1m0 15v2m0 6v1m0 9v1m0 6v1m0 3v1m0 3v1m0 5v1m0 7v1M103.5 15v1m0 17v1m0 3v1m0 2v1m0 5v1m0 2v2m0 29v1m0 11v2m0 6v1m0 26v1m0 7v1m0 2v2m0 1v1m0 7v1m0 15v1m0 4v1m0 2v1m0 3v1m0 1v1m0 5v1m0 9v1m0 13v1m0 1v1m0 6v1m0 9v1m0 1v1m0 5v1m0 5v1m0 12v1m0 1v1m0 4v1m0 10v1m0 3v1m0 5v1m0 6v1m0 3v1m0 7v1m0 14v1m0 23v1m0 11v1m0 25v1m0 2v1m0 2v1M104.5 0v1m0 3v1m0 22v1m0 2v1m0 2v1m0 8v1m0 4v1m0 3v1m0 2v1m0 1v2m0 14v1m0 8v1m0 7v1m0 2v2m0 14v1m0 6v1m0 3v1m0 13v1m0 9v1m0 20v1m0 3v1m0 10v1m0 2v2m0 7v1m0 11v1m0 4v1m0 3v1m0 7v1m0 24v1m0 9v1m0 24v1m0 15v1m0 4v1m0 1v1m0 4v1m0 24v1m0 2v1m0 7v1m0 3v1m0 31v1m0 8v1M105.5 14v1m0 9v1m0 13v1m0 2v1m0 1v1m0 11v1m0 3v1m0 16v1m0 23v1m0 10v1m0 4v1m0 1v1m0 6v2m0 2v1m0 1v1m0 18v1m0 45v1m0 1v1m0 8v1m0 13v1m0 2v1m0 5v2m0 2v1m0 26v1m0 7v1m0 3v1m0 1v1m0 4v1m0 2v1m0 8v1m0 4v1m0 2v1m0 4v1m0 8v1m0 48v1m0 1v1m0 2v2m0 14v1m0 2v2M106.5 15v2m0 37v1m0 9v1m0 2v1m0 14v1m0 12v1m0 3v1m0 1v1m0 7v1m0 2v1m0 6v1m0 3v1m0 10v1m0 10v1m0 1v1m0 6v2m0 4v2m0 1v1m0 16v1m0 3v1m0 11v1m0 6v2m0 2v1m0 1v1m0 2v1m0 3v1m0 1v1m0 1v1m0 4v1m0 9v1m0 7v1m0 6v1m0 3v1m0 5v2m0 6v1m0 7v1m0 1v1m0 10v1m0 2v1m0 4v1m0 2v1m0 41v1m0 3v1m0 5v1m0 4v2m0 6v1m0 9v1M108.5 20v1m0 4v2m0 2v1m0 40v2m0 17v2m0 2v1m0 2v1m0 16v1m0 25v1m0 2v1m0 18v1m0 10v1m0 14v1m0 7v1m0 6v1m0 19v1m0 6v1m0 4v1m0 2v1m0 2v2m0 36v1m0 11v1m0 3v1m0 4v2m0 6v1m0 31v1m0 3v1m0 20v1M110.5 2v1m0 28v1m0 47v1m0 19v1m0 50v1m0 3v1m0 6v1m0 14v1m0 10v1m0 4v1m0 15v1m0 5v1m0 7v1m0 7v1m0 7v2m0 32v1m0 2v1m0 1v1m0 21v1m0 1v1m0 9v1m0 2v2m0 8v2m0 34v1m0 5v1m0 10v1M112.5 0v1m0 10v1m0 1v1m0 4v1m0 3v1m0 84v1m0 6v2m0 13v1m0 31v1m0 12v1m0 12v1m0 6v1m0 19v1m0 2v1m0 23v1m0 3v1m0 20v1m0 20v1m0 1v1m0 14v1m0 45v1m0 1v1m0 9v1m0 18v1M114.5 8v1m0 2v1m0 2v1m0 10v1m0 10v1m0 27v1m0 20v1m0 19v1m0 2v1m0 2v1m0 6v1m0 4v1m0 18v1m0 8v1m0 4v1m0 1v1m0 11v1m0 2v1m0 1v1m0 1v1m0 25v1m0 4v2m0 3v1m0 1v1m0 15v1m0 4v1m0 5v1m0 42v1m0 40v1m0 9v2m0 5v1m0 32v1m0 7v1M116.5 2v1m0 6v1m0 19v1m0 5v1m0 6v1m0 34v1m0 3v1m0 8v1m0 2v1m0 56v1m0 2v1m0 10v1m0 18v1m0 11v1m0 13v1m0 18v1m0 2v1m0 19v1m0 20v2m0 15v1m0 7v1m0 21v1m0 2v1m0 5v1m0 6v1m0 8v1m0 29v1M118.5 6v1m0 1v1m0 2v1m0 6v1m0 3v1m0 15v1m0 8v1m0 9v1m0 8v1m0 11v2m0 2v1m0 5v1m0 2v1m0 21v1m0 2v1m0 11v1m0 24v1m0 17v1m0 6v1m0 3v1m0 49v1m0 8v1m0 4v2m0 11v1m0 3v1m0 20v1m0 67v1m0 1v1m0 15v2m0 4v1m0 5v1M120.5 4v1m0 9v1m0 3v1m0 21v1m0 5v1m0 1v1m0 10v1m0 8v1m0 19v1m0 7v1m0 33v1m0 4v2m0 11v1m0 1v1m0 70v1m0 11v1m0 9v1m0 20v1m0 23v1m0 45v1m0 1v1m0 8v1m0 14v1m0 15v1M125.5 23v1m0 27v1m0 23v1m0 20v1m0 11v1m0 7v1m0 7v1m0 10v1m0 8v1m0 7v1m0 6v1m0 7v1m0 4v1m0 14v1m0 23v1m0 21v1m0 3v1m0 4v1m0 11v1m0 11v1m0 22v1m0 8v1m0 21v1m0 28v1m0 6v1m0 9v1m0 7v1m0 9v1M130.5 13v1m0 15v1m0 14v1m0 7v1m0 15v1m0 19v1m0 15v1m0 44v1m0 3v1m0 4v2m0 38v1m0 1v2m0 14v1m0 27v1m0 2v1m0 9v1m0 44v2m0 8v2m0 5v1m0 18v1M135.5 1v1m0 8v1m0 46v1m0 76v1m0 12v1m0 3v1m0 14v1m0 22v1m0 53v1m0 24v1m0 30v1m0 32v2m0 6v1m0 25v1M140.5 8v1m0 46v2m0 16v1m0 3v1m0 24v2m0 36v1m0 33v1m0 1v1m0 13v1m0 34v2m0 20v1m0 8v2m0 9v2m0 5v1m0 17v1m0 20v1m0 44v1m0 16v1m0 10v1M145.5 45v1m0 16v1m0 13v1m0 3v1m0 13v1m0 18v1m0 4v1m0 7v1m0 4v1m0 3v1m0 24v1m0 15v1m0 22v2m0 13v1m0 27v1m0 3v1m0 11v1m0 9v1m0 15v1m0 6v1m0 10v1m0 1v1m0 70v1m0 4v1m0 2v2M150.5 8v1m0 61v1m0 20v1m0 8v1m0 18v1m0 11v1m0 1v2m0 2v1m0 22v1m0 3v1m0 12v1m0 8v1m0 7v1m0 15v1m0 3v1m0 9v1m0 22v1m0 12v1m0 6v1m0 1v1m0 14v1m0 1v1m0 17v1m0 19v1m0 55v1m0 3v1m0 2v1"/>
<path stroke="#471365" d="M0.5 9v2m0 70v1m0 14v1m0 9v1m0 3v1m0 13v1m0 35v1m0 9v1m0 16v1m0 13v1m0 20v1m0 1v1m0 6v2m0 31v1m0 10v1m0 8v1m0 20v1m0 21v1m0 4v1m0 26v1m0 4v1M1.5 0v1m0 2v1m0 34v1m0 2v1m0 19v1m0 2v1m0 1v1m0 21v1m0 57v1m0 1v1m0 2v1m0 3v1m0 2v1m0 7v1m0 12v2m0 5v1m0 1v1m0 1v1m0 2v1m0 9v1m0 5v1m0 27v2m0 25v1m0 9v1m0 20v1m0 4v1m0 4v1m0 3v1m0 43v1m0 21v1m0 6v1M2.5 9v1m0 22v1m0 36v1m0 32v1m0 22v1m0 14v1m0 12v1m0 9v1m0 4v1m0 5v1m0 8v1m0 2v1m0 2v1m0 4v1m0 23v1m0 4v1m0 29v1m0 47v2m0 31v1m0 10v1m0 5v1m0 4v1m0 29v1M3.5 2v1m0 5v1m0 4v1m0 8v1m0 16v1m0 20v2m0 1v1m0 9v1m0 19v1m0 17v1m0 6v1m0 27v2m0 1v2m0 2v1m0 13v1m0 37v1m0 6v1m0 8v1m0 25v1m0 32v1m0 9v1m0 3v1m0 5v1m0 6v2m0 45v1m0 9v1m0 5v1m0 10v1M4.5 25v1m0 10v1m0 22v1m0 7v2m0 3v1m0 61v1m0 1v1m0 13v1m0 1v1m0 6v1m0 40v1m0 6v1m0 19v2m0 22v1m0 5v2m0 25v1m0 38v1m0 2v1m0 29v1m0 28v1m0 3v1M5.5 10v1m0 5v2m0 7v1m0 27v1m0 13v1m0 11v1m0 19v1m0 14v1m0 1v2m0 1v1m0 1v1m0 9v1m0 34v1m0 10v1m0 5v1m0 56v1m0 52v1m0 9v1m0 2v2m0 3v2m0 31v1m0 14v1m0 7v1m0 4v1m0 4v1m0 5v1M6.5 27v1m0 11v1m0 5v1m0 14v1m0 1v1m0 17v1m0 1v1m0 13v2m0 9v1m0 3v1m0 45v2m0 31v1m0 6v2m0 7v1m0 4v2m0 2v2m0 1v1m0 5v1m0 1v1m0 2v1m0 3v2m0 15v1m0 8v1m0 13v1m0 3v1m0 5v1m0 2v1m0 4v1m0 29v1m0 13v1m0 6v1m0 28v1M7.5 4v1m0 8v1m0 12v1m0 8v1m0 16v1m0 25v1m0 5v1m0 24v1m0 2v1m0 7v1m0 1v1m0 29v1m0 31v1m0 14v1m0 8v1m0 5v1m0 1v1m0 2v1m0 11v1m0 6v1m0 43v1m0 15v1m0 2v1m0 4v1m0 9v1m0 7v1m0 3v1m0 14v1m0 13v2m0 6v1m0 2v1m0 18v1M8.5 17v1m0 3v1m0 17v1m0 14v1m0 24v1m0 22v1m0 16v1m0 4v1m0 1v1m0 5v1m0 74v1m0 2v1m0 5v1m0 16v1m0 6v1m0 14v1m0 8v1m0 12v2m0 6v1m0 27v1m0 3v3m0 13v1m0 11v1m0 35v1M9.5 5v1m0 15v1m0 4v1m0 3v2m0 41v1m0 1v1m0 10v1m0 1v1m0 17v1m0 16v1m0 5v1m0 6v1m0 8v1m0 9v1m0 9v1m0 16v1m0 14v1m0 1v1m0 3v1m0 41v1m0 5v1m0 33v1m0 25v1m0 5v1m0 9v1m0 19v1m0 11v1m0 3v1m0 21v1M10.5 15v2m0 2v1m0 4v1m0 11v1m0 10v1m0 9v1m0 16v1m0 25v1m0 11v1m0 13v1m0 1v1m0 4v2m0 10v1m0 4v1m0 19v1m0 27v1m0 14v1m0 6v1m0 5v1m0 4v1m0 20v1m0 2v1m0 12v1m0 15v1m0 24v1m0 15v1m0 4v1m0 3v1m0 3v1m0 3v1m0 4v1m0 9v1m0 14v1m0 2v1M11.5 10v1m0 42v1m0 11v1m0 2v1m0 23v1m0 4v1m0 30v1m0 5v1m0 40v1m0 10v1m0 7v1m0 1v1m0 2v1m0 16v1m0 12v1m0 18v1m0 8v1m0 6v1m0 14v1m0 14v1m0 9v1m0 19v1m0 10v1m0 10v1m0 30v1M12.5 4v1m0 3v1m0 13v1m0 1v1m0 1v1m0 6v1m0 1v1m0 22v1m0 43v1m0 5v1m0 1v1m0 6v1m0 5v1m0 2v1m0 8v1m0 19v1m0 21v1m0 2v1m0 4v1m0 39v1m0 4v1m0 2v1m0 10v1m0 33v1m0 9v1m0 5v1m0 3v1m0 10v1m0 3v1m0 9v1m0 4v1m0 3v1m0 17v1m0 36v2M13.5 30v1m0 10v1m0 6v2m0 5v1m0 7v1m0 2v1m0 40v2m0 16v1m0 3v1m0 4v1m0 4v1m0 15v2m0 6v1m0 5v1m0 6v1m0 27v1m0 8v1m0 16v1m0 11v1m0 1v1m0 3v1m0 13v2m0 2v1m0 32v1m0 13v1m0 9v1m0 1v1m0 4v1m0 6v1m0 27v1m0 17v1M14.5 25v1m0 10v2m0 4v1m0 5v1m0 8v1m0 5v1m0 2v1m0 8v1m0 8v1m0 17v1m0 6v1m0 13v2m0 18v2m0 21v1m0 12v1m0 2v1m0 17v1m0 9v1m0 1v1m0 8v2m0 3v1m0 19v1m0 7v1m0 6v1m0 6v1m0 13v1m0 35v1m0 3v1m0 3v1m0 2v1m0 6v1m0 1v1m0 6v1m0 9v1m0 12v1m0 5v1m0 11v1M15.5 1v1m0 9v1m0 4v1m0 11v1m0 1v1m0 5v1m0 49v1m0 4v1m0 2v2m0 6v1m0 13v1m0 1v1m0 33v1m0 11v1m0 31v1m0 1v1m0 1v1m0 12v1m0 3v1m0 37v1m0 11v1m0 19v2m0 8v1m0 1v1m0 1v1m0 4v1m0 34v1m0 25v1m0 17v1m0 3v1M16.5 24v1m0 2v1m0 5v1m0 2v1m0 11v1m0 1v1m0 8v1m0 16v1m0 2v1m0 16v1m0 1v1m0 9v2m0 1v1m0 7v1m0 15v1m0 16v1m0 9v1m0 6v1m0 16v1m0 3v1m0 3v1m0 35v1m0 3v1m0 16v1m0 12v1m0 1v2m0 23v1m0 3v1m0 6v1m0 4v1m0 2v1m0 10v1m0 5v1m0 8v1m0 35v1M17.5 2v1m0 7v1m0 14v1m0 5v1m0 6v1m0 23v1m0 21v1m0 7v1m0 22v1m0 10v1m0 7v2m0 16v1m0 32v1m0 14v1m0 33v1m0 26v1m0 43v1m0 1v1m0 6v1m0 2v1m0 4v1m0 9v1m0 9v1m0 5v1m0 6v1m0 12v1m0 17v1m0 2v1M18.5 3v1m0 7v1m0 18v1m0 21v2m0 4v1m0 8v1m0 13v2m0 4v1m0 21v1m0 1v1m0 6v1m0 1v2m0 15v1m0 8v1m0 9v1m0 8v1m0 5v1m0 4v1m0 16v1m0 3v1m0 12v1m0 15v1m0 8v1m0 5v1m0 3v1m0 8v1m0 2v1m0 1v1m0 29v1m0 25v1m0 21v1m0 27v1M19.5 24v1m0 6v1m0 12v1m0 16v1m0 4v1m0 28v1m0 28v1m0 10v1m0 24v1m0 2v1m0 19v1m0 32v1m0 13v1m0 7v1m0 11v1m0 1v1m0 9v1m0 29v1m0 19v1m0 15v1m0 21v1m0 12v1m0 8v1m0 4v1m0 4v1M20.5 3v1m0 9v1m0 30v1m0 4v1m0 18v1m0 5v1m0 10v2m0 8v1m0 4v1m0 3v1m0 2v1m0 2v1m0 1v1m0 23v1m0 35v1m0 9v1m0 1v1m0 2v2m0 7v1m0 3v1m0 19v1m0 6v1m0 43v1m0 3v1m0 26v1m0 2v1m0 5v1m0 1v1m0 43v1m0 11v1m0 9v2M21.5 5v1m0 14v2m0 16v1m0 44v1m0 28v1m0 18v2m0 27v1m0 17v1m0 27v1m0 10v1m0 7v1m0 5v1m0 17v1m0 25v1m0 29v1m0 15v1m0 9v1m0 12v1m0 2v1m0 8v1m0 13v1m0 9v1m0 6v1M22.5 50v2m0 16v1m0 9v1m0 4v1m0 9v1m0 37v1m0 9v1m0 24v1m0 44v1m0 3v1m0 22v2m0 2v1m0 6v1m0 6v1m0 4v1m0 23v1m0 8v1m0 15v1m0 11v1m0 11v1m0 2v2m0 6v1m0 13v1m0 9v1m0 1v1m0 17v1m0 1v1M23.5 4v1m0 6v1m0 17v1m0 20v1m0 5v1m0 29v1m0 11v2m0 12v1m0 18v1m0 17v1m0 4v2m0 22v1m0 5v1m0 2v1m0 8v1m0 10v1m0 18v1m0 4v2m0 24v1m0 11v1m0 28v1m0 14v1m0 3v1m0 11v1m0 1v2m0 17v1m0 3v1m0 18v1m0 3v1m0 3v1m0 5v1M24.5 13v1m0 41v1m0 14v1m0 11v2m0 1v1m0 6v1m0 2v2m0 14v1m0 52v2m0 4v2m0 4v1m0 19v1m0 10v2m0 16v1m0 13v1m0 6v1m0 4v1m0 1v1m0 1v1m0 16v1m0 3v1m0 10v1m0 18v1m0 3v1m0 13v1m0 11v1m0 2v2m0 10v1m0 6v1m0 3v1m0 7v3M25.5 0v1m0 30v1m0 4v2m0 21v1m0 28v1m0 35v1m0 45v1m0 15v1m0 17v1m0 5v1m0 7v1m0 3v1m0 29v1m0 10v1m0 13v1m0 13v1m0 28v1m0 15v1M26.5 3v1m0 13v1m0 5v1m0 38v1m0 13v1m0 23v1m0 8v1m0 3v2m0 14v3m0 4v1m0 15v1m0 6v1m0 3v1m0 9v1m0 5v1m0 2v1m0 8v1m0 3v1m0 7v1m0 6v1m0 10v2m0 7v1m0 1v1m0 1v1m0 33v2m0 14v1m0 1v1m0 29v1m0 8v1m0 33v1m0 5v1m0 5v1m0 6v1m0 3v1m0 2v1M27.5 2v1m0 3v1m0 1v1m0 4v1m0 8v1m0 2v1m0 43v2m0 14v1m0 1v1m0 4v1m0 9v1m0 16v2m0 5v1m0 11v1m0 10v1m0 18v1m0 1v1m0 4v1m0 8v1m0 5v1m0 6v1m0 19v1m0 11v1m0 6v1m0 14v1m0 2v1m0 1v1m0 9v1m0 35v1m0 3v1m0 6v1m0 39v1m0 1v1m0 1v1m0 21v1m0 8v1m0 2v1M28.5 2v1m0 16v2m0 24v1m0 8v1m0 3v1m0 36v1m0 1v1m0 9v1m0 14v2m0 8v1m0 16v1m0 18v1m0 5v1m0 11v1m0 3v1m0 28v1m0 1v1m0 2v1m0 7v2m0 13v1m0 19v1m0 17v1m0 5v1m0 6v1m0 26v1m0 14v1m0 1v1m0 12v1m0 34v1M29.5 1v1m0 27v1m0 8v1m0 11v1m0 11v1m0 11v1m0 1v1m0 14v1m0 43v1m0 4v2m0 23v1m0 39v1m0 18v1m0 4v1m0 34v1m0 19v1m0 16v1m0 25v1m0 1v1m0 6v1m0 5v1m0 2v1m0 29v1M30.5 2v1m0 14v1m0 5v1m0 1v1m0 8v2m0 18v1m0 4v1m0 4v1m0 72v2m0 11v1m0 46v1m0 2v1m0 3v1m0 7v1m0 3v1m0 6v1m0 4v1m0 21v1m0 18v1m0 8v1m0 5v1m0 19v1m0 5v1m0 14v1m0 3v1m0 9v1m0 16v1m0 3v1m0 7v1m0 5v1M31.5 39v1m0 1v1m0 1v1m0 1v1m0 37v1m0 20v1m0 5v1m0 8v1m0 9v1m0 6v1m0 5v1m0 3v1m0 3v1m0 11v1m0 7v1m0 20v1m0 2v1m0 3v1m0 5v1m0 8v1m0 41v1m0 5v1m0 2v1m0 1v1m0 7v1m0 17v1m0 10v1m0 4v1m0 11v1m0 3v1m0 3v1m0 8v1m0 5v1m0 11v1m0 17v1m0 7v1m0 3v1M32.5 6v1m0 22v1m0 30v1m0 30v1m0 4v1m0 2v1m0 19v1m0 7v1m0 7v1m0 7v1m0 14v1m0 4v1m0 20v1m0 1v1m0 17v1m0 8v1m0 6v1m0 14v1m0 13v1m0 28v2m0 11v2m0 4v1m0 5v1m0 3v1m0 22v1m0 34v1m0 1v1m0 21v1M33.5 2v1m0 22v1m0 5v1m0 52v1m0 1v2m0 3v1m0 18v1m0 11v1m0 10v1m0 19v1m0 13v1m0 7v1m0 1v1m0 17v1m0 20v1m0 23v1m0 3v1m0 10v1m0 12v2m0 15v1m0 4v1m0 10v1m0 6v2m0 33v1m0 11v2m0 23v1m0 3v1M34.5 1v1m0 26v1m0 11v1m0 4v1m0 1v1m0 1v1m0 12v1m0 2v1m0 2v1m0 14v1m0 2v1m0 9v1m0 13v1m0 5v1m0 7v1m0 10v2m0 39v1m0 20v1m0 23v1m0 9v1m0 7v2m0 3v1m0 23v1m0 18v1m0 16v1m0 9v1m0 11v1m0 7v1m0 24v1M35.5 12v1m0 51v1m0 7v1m0 6v1m0 1v1m0 19v1m0 3v1m0 5v1m0 11v1m0 9v1m0 8v1m0 16v1m0 8v1m0 6v1m0 1v2m0 13v1m0 4v1m0 11v1m0 6v1m0 23v1m0 6v1m0 5v1m0 2v1m0 20v1m0 20v1m0 2v1m0 3v1m0 8v2m0 10v1m0 2v1m0 36v1m0 3v1m0 2v1m0 16v1m0 2v1M36.5 31v1m0 6v1m0 15v1m0 2v1m0 4v2m0 22v1m0 9v1m0 5v1m0 4v1m0 2v1m0 3v1m0 5v1m0 5v1m0 9v1m0 40v1m0 14v1m0 12v1m0 2v1m0 18v1m0 2v1m0 4v1m0 18v1m0 2v1m0 23v1m0 4v2m0 5v2m0 17v1m0 5v1m0 5v1m0 2v1m0 5v1m0 8v1m0 3v1m0 20v1m0 5v1M37.5 5v1m0 1v1m0 3v1m0 11v1m0 9v1m0 1v1m0 16v1m0 8v1m0 3v1m0 16v1m0 4v1m0 6v1m0 24v1m0 22v2m0 25v1m0 5v1m0 2v1m0 42v1m0 12v1m0 6v1m0 6v1m0 13v1m0 4v1m0 31v1m0 14v1m0 30v1m0 19v1m0 10v1m0 2v1m0 7v1M38.5 3v1m0 5v2m0 4v1m0 3v1m0 21v1m0 14v1m0 14v1m0 13v1m0 5v1m0 5v2m0 2v1m0 44v1m0 6v2m0 9v1m0 20v1m0 15v1m0 20v1m0 5v1m0 12v1m0 38v1m0 4v1m0 8v1m0 7v1m0 25v1m0 10v1M39.5 1v1m0 4v1m0 3v2m0 6v1m0 3v1m0 21v1m0 2v1m0 7v1m0 22v2m0 9v1m0 8v1m0 6v1m0 1v1m0 7v1m0 1v1m0 5v1m0 2v1m0 1v1m0 1v1m0 10v1m0 32v1m0 2v1m0 26v1m0 12v1m0 9v1m0 4v2m0 2v1m0 13v1m0 7v2m0 2v1m0 8v1m0 4v1m0 38v1m0 1v2m0 7v1m0 1v1m0 2v1m0 6v1m0 15v1m0 22v1m0 11v1m0 1v1M40.5 10v1m0 9v1m0 12v1m0 11v1m0 3v1m0 5v1m0 2v1m0 1v1m0 5v1m0 7v1m0 9v1m0 21v1m0 19v1m0 4v1m0 13v1m0 6v1m0 4v2m0 8v1m0 7v1m0 8v2m0 14v1m0 6v1m0 8v1m0 6v2m0 27v1m0 5v1m0 4v1m0 6v1m0 18v1m0 4v1m0 15v1m0 18v1m0 1v1m0 5v1m0 10v1m0 4v1m0 7v1m0 1v1m0 10v1M41.5 12v1m0 6v1m0 6v1m0 8v1m0 2v1m0 2v1m0 32v1m0 2v1m0 4v1m0 31v1m0 24v1m0 1v1m0 7v1m0 1v1m0 12v1m0 3v1m0 19v1m0 4v1m0 3v1m0 10v1m0 7v1m0 20v1m0 1v1m0 12v1m0 12v1m0 11v1m0 12v1m0 1v1m0 23v1m0 25v1m0 9v1m0 14v1m0 17v1M42.5 9v1m0 4v1m0 5v1m0 4v2m0 1v1m0 11v1m0 1v1m0 3v1m0 23v1m0 14v2m0 7v1m0 9v1m0 1v1m0 12v1m0 8v1m0 1v1m0 19v1m0 23v1m0 7v1m0 9v1m0 1v1m0 2v2m0 47v1m0 1v1m0 3v1m0 10v1m0 1v1m0 5v1m0 4v1m0 35v1m0 10v1m0 18v1M43.5 7v1m0 18v1m0 23v1m0 14v2m0 18v1m0 14v1m0 11v1m0 19v1m0 36v1m0 15v1m0 30v1m0 11v1m0 25v3m0 23v1m0 3v1m0 9v1m0 17v1m0 31v1m0 10v2m0 20v1M44.5 13v1m0 1v1m0 21v1m0 9v1m0 19v1m0 2v1m0 33v1m0 2v1m0 6v1m0 10v1m0 6v2m0 28v1m0 2v1m0 7v1m0 7v1m0 4v1m0 4v1m0 32v1m0 5v1m0 7v1m0 4v1m0 1v1m0 12v1m0 19v1m0 1v1m0 21v1m0 15v1m0 18v1m0 2v1m0 2v1m0 16v1m0 10v1m0 12v1m0 5v1M45.5 8v1m0 34v1m0 16v1m0 2v1m0 5v1m0 2v1m0 3v1m0 6v1m0 2v1m0 2v1m0 14v1m0 5v1m0 5v1m0 17v1m0 10v1m0 3v1m0 9v1m0 7v1m0 2v1m0 6v2m0 11v1m0 12v1m0 3v1m0 5v1m0 20v1m0 6v1m0 26v1m0 1v1m0 9v1m0 4v1m0 6v1m0 7v1m0 30v1m0 7v1m0 23v1m0 2v1m0 4v1m0 9v1m0 5v1M46.5 23v1m0 3v1m0 7v1m0 3v1m0 7v1m0 41v1m0 11v3m0 8v1m0 1v1m0 7v1m0 9v1m0 6v1m0 22v1m0 3v1m0 3v1m0 1v1m0 6v1m0 13v1m0 2v1m0 15v1m0 12v1m0 25v1m0 14v1m0 8v1m0 4v1m0 6v1m0 3v1m0 22v1m0 2v1m0 9v1m0 1v1m0 2v1m0 7v1m0 8v1m0 18v1m0 2v1m0 14v1M47.5 2v1m0 23v1m0 5v1m0 4v1m0 13v1m0 44v1m0 6v1m0 1v1m0 1v1m0 16v1m0 7v1m0 1v1m0 20v1m0 19v2m0 17v2m0 7v1m0 10v1m0 9v1m0 9v1m0 4v1m0 5v1m0 11v1m0 14v1m0 21v1m0 5v1m0 9v1m0 4v1m0 10v1m0 9v1m0 12v2m0 1v1m0 7v1m0 4v1m0 4v1m0 4v1m0 11v1m0 3v1M48.5 15v1m0 3v1m0 8v1m0 12v1m0 18v1m0 3v1m0 22v1m0 8v1m0 31v1m0 3v1m0 13v1m0 15v2m0 9v1m0 10v1m0 13v1m0 20v1m0 6v1m0 24v2m0 1v1m0 1v1m0 5v1m0 30v1m0 3v1m0 6v1m0 25v1m0 12v1m0 44v1M49.5 0v1m0 20v1m0 11v1m0 5v1m0 6v1m0 40v1m0 19v1m0 6v1m0 47v2m0 1v1m0 6v1m0 3v1m0 18v1m0 11v1m0 7v1m0 12v1m0 3v1m0 47v1m0 21v1m0 1v1m0 13v2m0 12v1m0 2v1m0 9v1m0 4v1m0 8v1m0 20v1M50.5 4v1m0 10v1m0 10v1m0 5v2m0 2v2m0 10v1m0 10v1m0 3v1m0 3v1m0 7v1m0 6v1m0 10v1m0 6v1m0 8v1m0 10v1m0 1v1m0 10v1m0 2v1m0 16v1m0 4v1m0 12v1m0 16v1m0 3v1m0 2v1m0 16v2m0 5v1m0 11v1m0 9v1m0 14v1m0 3v1m0 5v1m0 8v1m0 5v1m0 6v2m0 20v1m0 13v1m0 5v1m0 44v1m0 11v1m0 2v2M51.5 13v1m0 1v1m0 5v1m0 9v1m0 2v1m0 20v1m0 16v1m0 5v2m0 5v1m0 18v1m0 9v1m0 6v1m0 8v1m0 5v1m0 5v1m0 11v1m0 7v1m0 7v1m0 3v1m0 9v1m0 7v1m0 11v2m0 3v1m0 8v1m0 1v1m0 29v1m0 14v1m0 7v1m0 20v1m0 7v1m0 26v1m0 20v1m0 3v1m0 9v1m0 5v1m0 2v1m0 7v1M52.5 8v2m0 17v1m0 10v1m0 4v1m0 13v1m0 5v1m0 2v1m0 9v2m0 13v1m0 7v1m0 1v1m0 22v1m0 10v1m0 7v1m0 2v1m0 1v1m0 7v1m0 6v1m0 2v1m0 8v1m0 22v1m0 15v1m0 14v1m0 13v1m0 2v1m0 18v1m0 6v1m0 21v1m0 2v1m0 7v1m0 5v1m0 17v2m0 1v1m0 16v1m0 17v1m0 1v1m0 2v1m0 9v1m0 7v1M53.5 15v1m0 5v1m0 2v1m0 11v1m0 13v1m0 9v1m0 15v1m0 2v1m0 1v1m0 16v1m0 5v1m0 11v1m0 30v1m0 6v1m0 19v1m0 3v1m0 8v1m0 14v1m0 18v1m0 34v1m0 2v2m0 83v1m0 23v2m0 5v1m0 8v1M54.5 6v1m0 24v1m0 16v1m0 7v1m0 5v1m0 10v1m0 2v1m0 12v1m0 11v1m0 8v1m0 8v1m0 4v1m0 3v1m0 12v1m0 16v1m0 1v1m0 1v2m0 1v1m0 4v1m0 12v1m0 3v1m0 4v1m0 3v1m0 6v2m0 1v1m0 2v1m0 1v2m0 8v4m0 3v1m0 6v1m0 30v1m0 3v1m0 14v1m0 5v2m0 16v1m0 33v1m0 25v1m0 20v1M55.5 5v1m0 25v1m0 14v1m0 47v2m0 8v1m0 25v1m0 14v1m0 3v1m0 10v1m0 31v1m0 6v1m0 10v1m0 1v1m0 12v2m0 7v1m0 14v1m0 16v2m0 38v1m0 12v1m0 20v1m0 8v1m0 5v1m0 1v1m0 8v1m0 9v2M56.5 18v1m0 13v1m0 2v1m0 9v1m0 6v1m0 19v1m0 2v1m0 8v1m0 9v1m0 7v1m0 11v1m0 9v1m0 18v1m0 38v2m0 13v2m0 15v1m0 2v1m0 22v1m0 25v1m0 19v2m0 3v1m0 17v1m0 6v1m0 32v1m0 5v1m0 1v1m0 10v1m0 10v1m0 9v1M57.5 4v1m0 14v1m0 2v1m0 1v1m0 20v1m0 2v1m0 13v1m0 27v1m0 15v1m0 3v1m0 12v1m0 17v1m0 9v1m0 3v1m0 25v1m0 8v1m0 18v1m0 1v1m0 11v1m0 21v1m0 16v1m0 32v1m0 13v2m0 3v1m0 3v1m0 40v1m0 14v1M58.5 1v1m0 10v1m0 5v1m0 2v1m0 3v1m0 9v1m0 41v1m0 12v1m0 3v1m0 30v1m0 20v1m0 6v1m0 4v1m0 3v3m0 1v1m0 2v1m0 3v1m0 2v2m0 15v1m0 6v1m0 10v1m0 1v1m0 4v1m0 13v1m0 3v1m0 3v1m0 14v3m0 17v1m0 1v1m0 5v1m0 9v1m0 3v1m0 3v1m0 7v1m0 12v1m0 5v1m0 41v1m0 4v1m0 4v1m0 7v2M59.5 6v1m0 11v1m0 6v1m0 6v1m0 19v1m0 7v1m0 13v1m0 5v1m0 22v1m0 5v1m0 23v1m0 33v1m0 40v2m0 4v1m0 1v1m0 14v1m0 16v1m0 9v1m0 34v1m0 21v2m0 3v1m0 10v1m0 1v1m0 21v1m0 4v1m0 14v1m0 14v1M60.5 0v1m0 3v1m0 32v1m0 1v1m0 44v1m0 2v1m0 26v1m0 6v1m0 11v1m0 3v1m0 5v1m0 2v1m0 2v1m0 16v2m0 31v2m0 3v1m0 7v1m0 7v1m0 1v1m0 5v1m0 10v1m0 7v1m0 7v1m0 6v1m0 3v1m0 2v1m0 7v1m0 2v1m0 24v1m0 16v1m0 2v1m0 11v2m0 2v1m0 2v1m0 11v2m0 5v1M61.5 4v1m0 6v1m0 1v1m0 6v1m0 6v1m0 43v2m0 6v1m0 7v1m0 1v1m0 4v1m0 1v1m0 21v1m0 12v1m0 3v1m0 7v1m0 4v1m0 19v1m0 27v1m0 6v1m0 36v1m0 23v1m0 7v1m0 22v1m0 39v1m0 23v1m0 11v1m0 2v1M62.5 7v1m0 21v1m0 32v1m0 30v1m0 22v1m0 20v2m0 3v1m0 2v1m0 9v1m0 13v1m0 15v1m0 9v2m0 36v2m0 5v1m0 3v1m0 2v1m0 11v1m0 36v1m0 18v1m0 3v1m0 3v1m0 10v1m0 9v1m0 1v1m0 7v1m0 8v1m0 6v1m0 7v1m0 7v1M63.5 1v1m0 6v1m0 7v1m0 12v1m0 9v1m0 2v1m0 9v1m0 12v1m0 22v1m0 2v1m0 43v1m0 6v1m0 13v1m0 16v1m0 8v1m0 5v1m0 6v1m0 15v1m0 30v1m0 3v1m0 4v1m0 17v1m0 31v1m0 9v1m0 2v1m0 1v1m0 1v1m0 8v1m0 4v1m0 8v1m0 1v1m0 7v1m0 7v1m0 25v1m0 5v1M64.5 18v1m0 17v1m0 14v1m0 3v1m0 12v1m0 13v1m0 23v1m0 17v1m0 15v1m0 14v1m0 1v1m0 58v1m0 6v1m0 1v1m0 6v1m0 7v1m0 8v1m0 1v1m0 3v1m0 13v1m0 3v1m0 7v1m0 5v1m0 6v1m0 2v1m0 18v1m0 6v1m0 6v1m0 1v1m0 22v1M65.5 13v1m0 11v1m0 3v1m0 16v1m0 2v1m0 10v1m0 10v1m0 16v1m0 1v1m0 20v2m0 24v1m0 7v1m0 16v1m0 29v1m0 16v1m0 6v1m0 10v1m0 6v1m0 3v1m0 1v2m0 5v1m0 4v1m0 1v1m0 3v1m0 11v1m0 16v1m0 5v1m0 21v1m0 6v1m0 15v1m0 13v1m0 22v1M66.5 21v1m0 2v1m0 5v1m0 32v1m0 8v2m0 4v1m0 11v1m0 16v1m0 1v2m0 7v1m0 16v1m0 5v1m0 2v1m0 14v1m0 19v2m0 7v1m0 11v1m0 18v1m0 17v1m0 6v1m0 4v1m0 5v1m0 2v1m0 3v1m0 37v1m0 8v1m0 9v1m0 18v1m0 7v1m0 7v1m0 18v1m0 7v1m0 2v1M67.5 19v1m0 12v1m0 7v1m0 18v1m0 4v1m0 2v2m0 2v1m0 20v1m0 2v1m0 7v1m0 4v1m0 3v1m0 6v1m0 7v1m0 45v1m0 2v2m0 5v1m0 9v1m0 43v1m0 9v1m0 53v1m0 5v1m0 10v1m0 3v1m0 7v1m0 37v2m0 15v1m0 2v1M68.5 3v1m0 18v1m0 4v1m0 1v1m0 9v1m0 2v1m0 1v1m0 6v1m0 1v1m0 14v1m0 30v1m0 2v1m0 21v1m0 3v1m0 15v1m0 15v1m0 13v1m0 12v1m0 23v1m0 5v1m0 2v1m0 1v1m0 3v1m0 21v1m0 1v1m0 14v1m0 2v1m0 3v1m0 13v1m0 5v1m0 12v1m0 22v2m0 9v1m0 12v1m0 8v1m0 7v1m0 3v2M69.5 1v2m0 2v1m0 4v1m0 10v1m0 4v1m0 4v1m0 5v1m0 1v1m0 23v1m0 10v1m0 2v1m0 4v1m0 6v1m0 3v1m0 15v1m0 21v1m0 10v1m0 6v1m0 8v1m0 2v1m0 2v1m0 7v1m0 8v1m0 2v1m0 7v1m0 16v1m0 1v1m0 7v2m0 19v1m0 48v1m0 11v1m0 3v1m0 2v1m0 1v1m0 8v1m0 4v1m0 3v1m0 32v3m0 4v1m0 6v1m0 5v1m0 2v1M70.5 11v1m0 27v1m0 5v1m0 3v1m0 8v1m0 16v1m0 18v1m0 8v1m0 3v1m0 4v1m0 5v1m0 11v1m0 5v1m0 11v2m0 7v1m0 1v1m0 14v1m0 10v1m0 1v1m0 8v1m0 5v1m0 13v1m0 3v1m0 1v1m0 13v2m0 5v1m0 25v1m0 23v1m0 3v1m0 56v1m0 8v1m0 14v1m0 7v2M71.5 6v1m0 13v1m0 8v1m0 25v1m0 11v1m0 41v1m0 2v1m0 4v1m0 8v1m0 18v1m0 1v1m0 30v1m0 1v1m0 11v1m0 10v1m0 10v1m0 1v1m0 6v1m0 7v1m0 3v1m0 2v1m0 14v1m0 1v1m0 1v1m0 9v1m0 8v1m0 11v1m0 29v1m0 7v2m0 6v1m0 17v1m0 1v1m0 4v1m0 6v1m0 12v1M72.5 4v1m0 12v2m0 59v1m0 34v1m0 14v1m0 2v1m0 14v1m0 52v1m0 17v1m0 7v1m0 1v1m0 13v1m0 4v1m0 3v1m0 49v1m0 2v3m0 6v1m0 28v1m0 9v1m0 11v1m0 5v1m0 8v1m0 1v1M73.5 4v1m0 8v1m0 12v1m0 1v1m0 42v1m0 22v1m0 2v1m0 10v1m0 16v1m0 3v1m0 5v1m0 6v1m0 14v1m0 2v1m0 1v1m0 16v2m0 6v1m0 4v1m0 1v1m0 9v1m0 1v1m0 9v1m0 1v1m0 1v1m0 20v1m0 18v1m0 1v1m0 22v1m0 18v1m0 2v1m0 22v1m0 2v1m0 9v1m0 1v1m0 13v1m0 3v1m0 3v1m0 11v4m0 2v1M74.5 8v1m0 6v1m0 13v1m0 1v1m0 16v1m0 13v1m0 28v1m0 5v1m0 2v1m0 30v1m0 16v1m0 20v1m0 16v1m0 6v1m0 15v1m0 3v1m0 1v1m0 22v1m0 31v1m0 2v1m0 49v1m0 16v2m0 10v1m0 5v1m0 15v1m0 15v1M75.5 5v1m0 26v1m0 4v1m0 6v1m0 4v1m0 2v1m0 1v1m0 8v1m0 15v1m0 8v1m0 14v1m0 40v1m0 4v1m0 10v1m0 13v1m0 6v1m0 23v1m0 4v1m0 1v1m0 4v1m0 6v1m0 7v1m0 4v1m0 8v2m0 15v1m0 14v1m0 10v1m0 6v1m0 5v1m0 6v1m0 3v1m0 2v1m0 1v1m0 15v2m0 11v2m0 21v1m0 6v1m0 8v1m0 3v1M76.5 2v1m0 13v1m0 2v1m0 31v1m0 25v1m0 34v1m0 8v1m0 18v1m0 1v1m0 1v1m0 4v1m0 9v1m0 4v1m0 10v1m0 14v1m0 22v1m0 4v2m0 29v1m0 4v1m0 20v1m0 7v1m0 10v1m0 8v1m0 5v1m0 9v1m0 29v2m0 1v1m0 8v1m0 1v1m0 5v1m0 2v1m0 3v1m0 9v1m0 1v1M77.5 4v1m0 4v1m0 19v1m0 26v1m0 12v1m0 5v1m0 13v1m0 1v1m0 21v1m0 23v1m0 10v1m0 4v1m0 3v1m0 3v1m0 9v1m0 1v1m0 21v1m0 6v2m0 5v1m0 5v1m0 9v1m0 10v1m0 1v1m0 17v1m0 9v1m0 7v1m0 18v1m0 1v2m0 18v2m0 2v1m0 3v2m0 21v2m0 1v1m0 4v1M78.5 2v1m0 5v1m0 2v1m0 87v1m0 4v1m0 28v1m0 6v1m0 1v1m0 21v1m0 22v1m0 6v1m0 3v1m0 19v1m0 14v2m0 9v1m0 5v1m0 18v1m0 9v1m0 1v1m0 16v1m0 2v1m0 8v2m0 2v1m0 5v1m0 11v1m0 1v1m0 21v1m0 6v1m0 21v1M79.5 1v1m0 1v1m0 64v1m0 10v1m0 4v1m0 21v1m0 22v1m0 26v1m0 15v1m0 23v1m0 6v2m0 7v1m0 1v1m0 31v1m0 6v1m0 3v1m0 12v2m0 2v1m0 6v1m0 13v1m0 3v1m0 13v1m0 2v1m0 20v1m0 1v2m0 1v1m0 21v1m0 2v1m0 1v1m0 15v1M80.5 5v1m0 3v1m0 12v1m0 23v1m0 9v1m0 13v1m0 15v1m0 3v1m0 4v1m0 7v1m0 11v1m0 5v1m0 15v1m0 11v1m0 2v1m0 10v1m0 3v1m0 13v1m0 11v1m0 7v1m0 3v1m0 3v1m0 1v1m0 27v1m0 16v1m0 2v1m0 2v1m0 16v1m0 4v1m0 4v1m0 13v2m0 22v1m0 11v1m0 18v1m0 8v1m0 12v2M81.5 2v1m0 2v1m0 1v1m0 2v1m0 1v1m0 19v1m0 11v1m0 11v1m0 18v1m0 8v1m0 5v1m0 1v1m0 6v1m0 10v1m0 4v1m0 18v2m0 17v1m0 12v1m0 13v1m0 12v2m0 12v1m0 14v1m0 17v1m0 2v1m0 8v1m0 4v1m0 1v1m0 14v1m0 20v1m0 3v1m0 5v1m0 8v1m0 2v1m0 4v1m0 1v1m0 5v1m0 6v1m0 2v1m0 3v1m0 2v1m0 2v1m0 6v1m0 9v1m0 6v1m0 2v1m0 1v1m0 8v1m0 1v1M82.5 7v1m0 4v1m0 1v1m0 15v2m0 9v1m0 16v1m0 2v1m0 13v1m0 8v1m0 14v1m0 2v1m0 3v1m0 2v1m0 4v1m0 1v1m0 12v1m0 15v1m0 11v1m0 3v1m0 7v1m0 5v1m0 31v1m0 10v1m0 17v1m0 1v1m0 5v1m0 46v1M83.5 8v1m0 1v2m0 14v1m0 17v1m0 5v1m0 58v1m0 8v1m0 7v1m0 2v1m0 15v1m0 7v1m0 23v1m0 1v1m0 5v1m0 6v1m0 10v1m0 9v1m0 1v1m0 6v2m0 3v1m0 16v2m0 15v1m0 5v1m0 2v1m0 1v1m0 4v1m0 10v1m0 8v1m0 1v1m0 4v1m0 7v1m0 13v1m0 20v2m0 11v2m0 7v1m0 15v1M84.5 8v1m0 14v1m0 8v1m0 14v1m0 6v2m0 32v2m0 4v1m0 24v1m0 7v1m0 2v2m0 12v1m0 3v1m0 10v1m0 13v1m0 5v1m0 10v1m0 5v1m0 18v1m0 7v1m0 14v1m0 22v1m0 9v1m0 65v1m0 2v1m0 18v1m0 12v1m0 2v1m0 6v1m0 2v1M85.5 4v1m0 3v1m0 25v3m0 3v1m0 18v1m0 12v1m0 7v1m0 3v1m0 17v1m0 30v1m0 4v1m0 7v1m0 16v1m0 1v1m0 1v1m0 42v2m0 3v1m0 22v1m0 3v1m0 1v2m0 20v1m0 17v1m0 2v1m0 3v1m0 3v4m0 4v1m0 4v1m0 5v2m0 11v1m0 5v1m0 3v1m0 41v1m0 1v1M86.5 15v1m0 13v1m0 19v2m0 4v1m0 15v1m0 11v1m0 3v1m0 2v1m0 20v1m0 11v1m0 7v1m0 4v1m0 2v1m0 2v1m0 8v1m0 9v1m0 43v1m0 11v1m0 12v1m0 14v1m0 7v1m0 16v1m0 9v1m0 16v1m0 1v1m0 19v1m0 2v2m0 13v1m0 1v1m0 26v1m0 5v1m0 1v1m0 6v3m0 3v2m0 2v2M87.5 24v1m0 3v1m0 19v1m0 9v1m0 11v1m0 5v1m0 1v1m0 6v1m0 28v1m0 26v1m0 10v1m0 12v1m0 17v1m0 16v1m0 11v1m0 14v1m0 6v1m0 6v1m0 12v1m0 11v1m0 5v1m0 7v1m0 5v2m0 39v1m0 7v1m0 1v1m0 1v1m0 4v1m0 33v1m0 10v1m0 1v1M88.5 0v1m0 24v1m0 16v1m0 11v3m0 4v2m0 6v1m0 19v1m0 10v1m0 23v1m0 7v1m0 4v1m0 6v1m0 5v1m0 17v1m0 3v2m0 6v2m0 9v1m0 2v1m0 6v1m0 10v1m0 2v1m0 10v1m0 24v1m0 3v1m0 3v1m0 6v1m0 1v1m0 5v1m0 5v1m0 1v2m0 13v2m0 4v1m0 3v1m0 29v1m0 6v1m0 10v1m0 16v1m0 3v2m0 4v1m0 6v1M89.5 2v1m0 6v2m0 8v1m0 28v1m0 7v2m0 3v1m0 1v1m0 32v1m0 9v1m0 15v1m0 5v2m0 2v2m0 8v1m0 1v1m0 23v1m0 37v1m0 24v1m0 13v1m0 2v1m0 5v1m0 11v1m0 20v2m0 25v1m0 26v1m0 13v1m0 3v1m0 4v1m0 22v1m0 5v1M90.5 19v2m0 20v1m0 1v1m0 1v1m0 1v1m0 5v1m0 27v1m0 3v1m0 7v1m0 3v1m0 6v1m0 28v1m0 1v1m0 13v1m0 8v1m0 17v1m0 1v1m0 3v1m0 45v2m0 1v1m0 32v1m0 12v1m0 28v1m0 5v1m0 21v2m0 32v1m0 3v1m0 2v1M91.5 13v1m0 3v1m0 16v2m0 37v1m0 6v1m0 23v1m0 2v1m0 2v1m0 9v1m0 1v2m0 2v2m0 18v1m0 54v2m0 9v1m0 7v1m0 19v1m0 7v2m0 5v1m0 8v1m0 24v1m0 7v1m0 19v1m0 2v1m0 14v1m0 1v1m0 7v1m0 8v1m0 13v2m0 8v1m0 8v1M92.5 0v1m0 5v1m0 7v1m0 14v1m0 6v1m0 12v1m0 5v3m0 6v1m0 10v1m0 1v1m0 12v1m0 2v1m0 2v1m0 9v1m0 3v1m0 2v1m0 4v1m0 18v1m0 10v1m0 2v1m0 6v1m0 1v1m0 1v1m0 37v1m0 12v1m0 13v1m0 5v1m0 9v2m0 14v1m0 2v2m0 2v1m0 6v1m0 24v1m0 12v1m0 1v2m0 3v1m0 26v1m0 20v1m0 22v1M93.5 2v1m0 5v1m0 20v1m0 7v1m0 20v1m0 10v1m0 8v1m0 6v1m0 4v1m0 6v1m0 9v1m0 10v1m0 1v1m0 8v1m0 12v1m0 6v1m0 2v1m0 12v1m0 14v1m0 3v1m0 2v1m0 14v1m0 5v2m0 11v1m0 6v1m0 31v1m0 2v1m0 14v1m0 5v1m0 23v1m0 3v1m0 8v1m0 1v1m0 1v1m0 1v1m0 21v1m0 13v1m0 28v1M94.5 10v1m0 4v1m0 22v3m0 16v1m0 1v1m0 6v2m0 8v1m0 12v1m0 7v1m0 5v1m0 16v1m0 2v1m0 20v2m0 15v1m0 2v1m0 14v1m0 4v1m0 8v1m0 2v1m0 70v1m0 3v1m0 21v1m0 1v1m0 3v1m0 33v1m0 5v1m0 2v1m0 18v1m0 1v1m0 8v1m0 9v1m0 9v1M95.5 2v1m0 4v1m0 14v1m0 2v1m0 1v1m0 3v1m0 13v1m0 7v1m0 3v1m0 1v1m0 9v2m0 37v1m0 19v1m0 2v1m0 4v1m0 32v1m0 1v1m0 4v1m0 3v2m0 10v1m0 10v1m0 2v1m0 3v1m0 22v1m0 2v1m0 28v1m0 12v1m0 12v1m0 6v1m0 23v1m0 2v1m0 7v1m0 15v1M96.5 2v1m0 1v1m0 1v1m0 1v1m0 11v1m0 2v3m0 17v1m0 14v1m0 14v2m0 22v1m0 20v1m0 11v1m0 16v1m0 3v1m0 14v1m0 3v2m0 24v1m0 1v2m0 12v2m0 4v1m0 20v1m0 15v1m0 7v1m0 3v1m0 2v1m0 34v1m0 2v1m0 14v1m0 2v1m0 5v1m0 7v1m0 8v1m0 8v1m0 3v1m0 2v1m0 8v1m0 9v1m0 2v2M97.5 1v1m0 6v1m0 3v1m0 5v1m0 27v1m0 5v1m0 1v1m0 47v1m0 17v1m0 6v1m0 3v1m0 4v1m0 5v1m0 23v1m0 12v1m0 27v1m0 11v1m0 8v1m0 12v1m0 16v1m0 3v2m0 39v1m0 5v2m0 9v1m0 1v1m0 10v1m0 7v1m0 5v1m0 21v1m0 5v1m0 7v1m0 3v1M98.5 3v1m0 11v1m0 52v1m0 11v1m0 7v1m0 8v1m0 10v1m0 1v1m0 15v1m0 11v1m0 1v1m0 1v1m0 6v1m0 24v1m0 3v1m0 5v1m0 12v1m0 5v1m0 9v2m0 9v2m0 4v1m0 4v2m0 9v1m0 12v1m0 1v2m0 4v1m0 6v1m0 4v1m0 2v1m0 6v1m0 7v1m0 37v2m0 10v1m0 6v1m0 1v1m0 7v2m0 23v1M99.5 12v1m0 1v2m0 28v2m0 1v1m0 4v1m0 4v1m0 10v1m0 24v2m0 12v1m0 1v1m0 9v1m0 9v1m0 14v1m0 6v1m0 5v1m0 22v1m0 14v1m0 6v1m0 5v1m0 4v1m0 5v1m0 31v1m0 20v1m0 3v1m0 2v1m0 2v1m0 1v1m0 11v1m0 16v1m0 19v1m0 7v1m0 5v1m0 7v1m0 4v1m0 16v1m0 7v1m0 3v1M100.5 10v1m0 4v1m0 4v1m0 4v1m0 2v1m0 5v1m0 39v1m0 28v1m0 5v1m0 7v1m0 6v1m0 7v1m0 6v1m0 1v1m0 2v1m0 25v2m0 3v1m0 1v1m0 4v1m0 3v1m0 20v1m0 17v1m0 4v1m0 5v1m0 3v1m0 8v2m0 4v1m0 1v2m0 28v1m0 1v1m0 1v1m0 5v1m0 1v1m0 2v1m0 3v1m0 1v1m0 11v1m0 3v1m0 4v1m0 11v1m0 4v2m0 28v1m0 4v1M101.5 3v1m0 29v1m0 17v1m0 1v1m0 3v1m0 10v1m0 5v1m0 4v1m0 23v1m0 11v1m0 7v1m0 13v1m0 16v1m0 7v1m0 19v2m0 1v1m0 4v1m0 12v1m0 7v1m0 9v1m0 3v1m0 6v1m0 14v1m0 3v1m0 4v1m0 4v1m0 5v1m0 16v1m0 2v1m0 3v1m0 5v1m0 2v1m0 1v1m0 23v1m0 13v1m0 3v1m0 34v1M102.5 2v1m0 2v1m0 1v1m0 8v1m0 13v2m0 5v1m0 1v1m0 13v1m0 10v1m0 20v1m0 2v1m0 7v1m0 8v1m0 15v1m0 1v1m0 27v1m0 1v1m0 4v1m0 3v1m0 21v1m0 9v1m0 2v1m0 5v1m0 1v1m0 4v1m0 1v1m0 24v1m0 2v1m0 5v1m0 5v2m0 5v1m0 35v1m0 5v1m0 15v1m0 1v1m0 6v1m0 3v1m0 10v1m0 31v3M103.5 12v1m0 23v1m0 1v1m0 4v1m0 11v1m0 14v1m0 6v1m0 7v2m0 27v1m0 5v1m0 10v1m0 18v2m0 1v1m0 1v1m0 4v1m0 15v1m0 5v1m0 4v1m0 11v1m0 2v2m0 15v1m0 24v1m0 3v1m0 4v1m0 4v1m0 2v1m0 13v2m0 14v1m0 13v1m0 13v1m0 7v1m0 1v1m0 13v1m0 1v1m0 20v1M104.5 9v1m0 16v1m0 4v1m0 8v1m0 22v1m0 6v1m0 43v1m0 1v1m0 8v1m0 5v1m0 4v1m0 17v1m0 3v1m0 7v1m0 8v1m0 14v1m0 2v1m0 8v1m0 19v2m0 1v2m0 13v2m0 7v1m0 41v1m0 2v1m0 4v1m0 2v1m0 8v1m0 1v1m0 11v2m0 5v1m0 10v1m0 6v1m0 1v2m0 13v1m0 19v1M105.5 19v2m0 4v1m0 3v1m0 7v1m0 50v1m0 5v1m0 18v1m0 18v1m0 4v1m0 8v3m0 8v1m0 7v1m0 12v1m0 3v1m0 29v1m0 22v1m0 2v1m0 16v1m0 4v1m0 4v1m0 33v1m0 12v1m0 15v1m0 21v1m0 2v1m0 3v1m0 9v1m0 7v2m0 1v1m0 2v1M106.5 45v1m0 20v1m0 8v1m0 7v1m0 2v1m0 17v1m0 5v1m0 3v1m0 3v1m0 5v1m0 1v1m0 1v1m0 2v1m0 1v1m0 4v1m0 10v1m0 1v1m0 4v1m0 9v1m0 7v1m0 14v2m0 35v1m0 1v1m0 1v1m0 5v2m0 3v1m0 7v1m0 9v1m0 5v1m0 9v1m0 1v1m0 4v1m0 2v1m0 7v1m0 1v1m0 13v1m0 2v1m0 1v1m0 15v1m0 2v1m0 4v1m0 15v1m0 7v1m0 7v1m0 2v2m0 4v1m0 3v1m0 3v1M108.5 10v1m0 10v1m0 40v1m0 1v1m0 12v1m0 17v1m0 19v1m0 32v1m0 3v1m0 6v1m0 9v1m0 30v1m0 3v1m0 18v1m0 2v1m0 1v1m0 50v1m0 17v1m0 7v1m0 3v1m0 15v1m0 23v1m0 7v1m0 15v2M110.5 15v2m0 5v1m0 26v1m0 48v1m0 6v1m0 5v1m0 12v1m0 6v1m0 7v1m0 25v2m0 26v2m0 10v1m0 1v1m0 3v1m0 5v1m0 8v1m0 1v1m0 47v1m0 1v1m0 24v1m0 8v1m0 15v1m0 25v1m0 4v1m0 3v1m0 18v1M112.5 31v1m0 28v1m0 1v1m0 21v1m0 21v1m0 1v1m0 3v1m0 4v1m0 5v1m0 2v2m0 20v1m0 8v2m0 34v1m0 14v1m0 66v1m0 2v1m0 3v1m0 10v1m0 15v1m0 25v1m0 13v1m0 18v1m0 20v1M114.5 21v1m0 31v1m0 15v1m0 9v2m0 5v1m0 43v1m0 28v1m0 7v1m0 51v1m0 10v1m0 22v1m0 8v1m0 4v1m0 26v1m0 5v1m0 7v1m0 1v1m0 14v1m0 51v1m0 9v1M116.5 73v1m0 12v1m0 5v1m0 16v1m0 3v1m0 35v1m0 1v1m0 44v1m0 37v1m0 10v1m0 11v1m0 65v1m0 26v1m0 11v1m0 12v1M118.5 3v1m0 8v1m0 11v1m0 3v1m0 3v1m0 36v1m0 1v1m0 43v1m0 3v1m0 42v1m0 22v1m0 4v1m0 4v1m0 12v1m0 2v1m0 28v1m0 13v1m0 45v1m0 4v1m0 1v1m0 8v1m0 40v1m0 3v2m0 22v1m0 4v1M120.5 49v1m0 11v1m0 43v1m0 2v2m0 15v1m0 30v1m0 9v1m0 1v1m0 22v1m0 17v1m0 17v2m0 51v1m0 1v1m0 3v1m0 38v1m0 5v1m0 1v1m0 21v1m0 8v2m0 7v1m0 8v1m0 2v1M125.5 11v1m0 5v1m0 3v1m0 2v1m0 4v1m0 8v1m0 30v1m0 29v1m0 5v1m0 16v1m0 3v1m0 3v1m0 23v1m0 8v1m0 1v1m0 27v1m0 15v1m0 17v1m0 19v1m0 17v1m0 2v1m0 25v1m0 14v1m0 2v1m0 9v1m0 12v1m0 25v1m0 19v1m0 6v1m0 1v1M130.5 6v1m0 27v1m0 4v1m0 1v1m0 35v1m0 51v1m0 24v1m0 2v1m0 8v1m0 7v1m0 1v2m0 4v1m0 1v1m0 8v1m0 17v1m0 14v2m0 5v1m0 11v1m0 12v1m0 11v1m0 35v1m0 9v1m0 11v1m0 47v1M135.5 33v1m0 1v1m0 15v1m0 10v1m0 20v1m0 10v1m0 10v1m0 15v1m0 39v1m0 3v1m0 28v1m0 30v1m0 26v2m0 1v1m0 6v1m0 2v1m0 23v1m0 21v1m0 27v1m0 30v1M140.5 23v1m0 72v1m0 12v1m0 50v1m0 4v1m0 7v1m0 3v1m0 3v1m0 1v1m0 5v1m0 40v1m0 7v1m0 22v2m0 1v2m0 66v1m0 15v1m0 1v1m0 11v1m0 2v1m0 4v1m0 10v1M145.5 6v1m0 8v1m0 2v1m0 28v1m0 6v2m0 26v1m0 40v1m0 1v1m0 71v1m0 41v1m0 5v1m0 16v1m0 2v1m0 9v2m0 1v1m0 8v1m0 9v1m0 16v1m0 18v1m0 13v1m0 3v1m0 16v1M150.5 31v1m0 7v1m0 27v2m0 15v1m0 5v1m0 6v1m0 4v1m0 14v1m0 69v1m0 51v1m0 4v1m0 29v1m0 4v1m0 2v1m0 20v1m0 5v1m0 6v1m0 6v1m0 4v1m0 31v1m0 12v1m0 4v1"/>
<path stroke="#481a6c" d="M0.5 14v1m0 37v1m0 1v1m0 1v1m0 12v1m0 4v1m0 13v1m0 1v1m0 3v1m0 14v1m0 56v1m0 14v1m0 4v1m0 6v1m0 46v1m0 20v1m0 31v1m0 6v1m0 19v1m0 19v1m0 20v1m0 6v1m0 4v1m0 13v1M1.5 43v1m0 8v1m0 43v1m0 19v1m0 37v1m0 30v1m0 20v1m0 3v1m0 4v1m0 13v1m0 17v1m0 20v1m0 3v1m0 10v1m0 6v1m0 5v1m0 4v1m0 1v1m0 2v1m0 32v1m0 14v1m0 13v2m0 2v1m0 8v1m0 7v1m0 2v1M2.5 17v1m0 13v1m0 3v1m0 11v1m0 11v1m0 1v1m0 1v1m0 6v1m0 10v1m0 7v1m0 10v1m0 5v1m0 19v1m0 16v1m0 5v3m0 2v1m0 3v1m0 66v1m0 19v1m0 5v1m0 27v1m0 7v1m0 5v1m0 13v1m0 15v1m0 51v1M3.5 18v1m0 5v1m0 16v1m0 3v1m0 8v2m0 33v1m0 17v1m0 1v1m0 7v1m0 17v1m0 21v1m0 13v1m0 20v1m0 14v1m0 1v1m0 15v1m0 1v1m0 31v1m0 15v1m0 6v1m0 2v1m0 5v1m0 12v1m0 5v1m0 15v1m0 1v1m0 24v1m0 6v1m0 6v1m0 1v1m0 24v1M4.5 19v1m0 28v1m0 1v1m0 39v1m0 1v1m0 4v1m0 3v1m0 1v1m0 1v1m0 1v1m0 13v1m0 10v1m0 15v1m0 42v1m0 33v2m0 21v1m0 17v1m0 28v1m0 24v1m0 25v2m0 4v1m0 2v1m0 19v1m0 4v1M5.5 1v1m0 13v1m0 26v1m0 20v1m0 16v1m0 5v1m0 3v1m0 9v1m0 6v1m0 7v1m0 31v1m0 4v1m0 31v1m0 31v2m0 12v1m0 18v2m0 43v1m0 33v2m0 1v1m0 6v1m0 12v1m0 6v1m0 6v1m0 14v1m0 3v1M6.5 16v1m0 2v1m0 15v1m0 10v2m0 1v1m0 51v1m0 8v1m0 15v1m0 8v4m0 2v1m0 2v1m0 17v1m0 2v1m0 5v1m0 12v1m0 7v1m0 21v1m0 7v2m0 7v1m0 15v2m0 13v1m0 78v1m0 3v1m0 10v3m0 2v1m0 2v1M7.5 24v1m0 4v1m0 8v1m0 5v1m0 9v1m0 47v1m0 10v1m0 23v1m0 13v1m0 7v2m0 6v1m0 11v1m0 6v1m0 30v1m0 5v1m0 23v1m0 3v1m0 3v2m0 6v1m0 11v2m0 28v1m0 21v1m0 8v2m0 2v1m0 15v1m0 4v1m0 15v1M8.5 1v1m0 88v1m0 45v1m0 33v1m0 6v1m0 37v1m0 5v2m0 12v1m0 10v1m0 12v1m0 34v1m0 17v1m0 29v1m0 15v1m0 4v1m0 4v1m0 10v1m0 6v1M9.5 9v1m0 9v1m0 24v2m0 2v1m0 33v1m0 17v1m0 18v1m0 6v1m0 17v1m0 16v1m0 16v1m0 29v1m0 22v2m0 47v1m0 9v1m0 2v2m0 21v1m0 19v1m0 35v1m0 5v2M10.5 1v1m0 19v1m0 1v1m0 6v1m0 3v1m0 2v1m0 2v1m0 17v1m0 4v1m0 12v1m0 5v1m0 9v1m0 10v1m0 2v1m0 7v1m0 3v1m0 29v1m0 17v2m0 1v1m0 2v1m0 4v1m0 5v1m0 18v1m0 3v1m0 11v1m0 10v1m0 2v1m0 6v1m0 7v1m0 59v1m0 7v1m0 1v2m0 35v1M11.5 15v1m0 9v1m0 43v1m0 4v1m0 2v1m0 9v2m0 15v2m0 23v1m0 3v1m0 4v1m0 9v1m0 11v1m0 12v1m0 6v1m0 14v1m0 17v1m0 6v1m0 15v2m0 4v1m0 9v1m0 25v1m0 27v1m0 3v2m0 16v1m0 11v1m0 15v2m0 2v1m0 28v1M12.5 17v1m0 12v1m0 33v1m0 24v1m0 4v2m0 3v1m0 16v1m0 5v1m0 35v1m0 4v1m0 17v1m0 28v1m0 1v1m0 4v1m0 3v1m0 1v1m0 2v1m0 15v1m0 4v1m0 4v1m0 9v1m0 52v1m0 29v1m0 1v1m0 12v1m0 11v1m0 8v1m0 2v1M13.5 3v1m0 9v1m0 48v1m0 1v1m0 6v1m0 10v1m0 5v1m0 10v1m0 4v1m0 5v1m0 8v1m0 28v1m0 4v1m0 10v1m0 6v1m0 6v1m0 10v2m0 17v1m0 17v1m0 6v1m0 5v1m0 9v1m0 1v1m0 8v1m0 18v1m0 13v2m0 3v1m0 4v1m0 29v1m0 1v1m0 2v2m0 44v1m0 2v1M14.5 4v1m0 3v1m0 9v1m0 2v1m0 18v1m0 2v1m0 12v1m0 10v1m0 14v1m0 57v1m0 12v1m0 33v1m0 5v1m0 29v1m0 48v1m0 2v1m0 11v1m0 17v1m0 5v1m0 3v1m0 32v1m0 10v1m0 17v1M15.5 9v1m0 29v1m0 28v1m0 21v1m0 12v1m0 10v1m0 18v1m0 16v1m0 22v1m0 6v1m0 6v2m0 5v1m0 7v1m0 11v1m0 61v1m0 28v1m0 28v1m0 19v1m0 2v1m0 16v1m0 15v1M16.5 6v1m0 2v1m0 16v1m0 34v1m0 10v1m0 27v1m0 15v1m0 11v1m0 2v1m0 1v1m0 17v1m0 47v1m0 9v1m0 17v2m0 13v1m0 38v1m0 32v1m0 2v1m0 4v1m0 10v1m0 8v2m0 45v1M17.5 3v1m0 14v1m0 35v1m0 16v1m0 24v1m0 2v1m0 7v1m0 22v1m0 10v1m0 28v1m0 4v1m0 3v1m0 1v2m0 7v1m0 5v1m0 6v1m0 9v1m0 32v1m0 28v1m0 22v1m0 2v1m0 1v1m0 59v1m0 13v1m0 1v1m0 1v1m0 2v1M18.5 56v1m0 38v1m0 5v1m0 20v1m0 17v1m0 1v1m0 6v2m0 4v1m0 13v1m0 15v1m0 1v1m0 19v1m0 3v1m0 12v1m0 25v1m0 12v2m0 4v1m0 17v1m0 4v1m0 26v1m0 3v1m0 9v1m0 21v1m0 8v1m0 3v1m0 10v1M19.5 4v1m0 11v1m0 2v2m0 2v1m0 17v1m0 28v1m0 29v1m0 6v1m0 4v1m0 4v1m0 4v1m0 26v1m0 20v1m0 5v1m0 21v1m0 3v1m0 28v1m0 1v1m0 10v1m0 125v1m0 4v1m0 5v1M20.5 25v1m0 8v1m0 15v2m0 14v1m0 17v1m0 6v1m0 6v1m0 2v1m0 6v1m0 19v1m0 4v1m0 7v1m0 7v1m0 35v1m0 11v1m0 6v1m0 3v1m0 67v1m0 11v1m0 3v1m0 16v1m0 2v1m0 29v1m0 24v1m0 21v1M21.5 23v2m0 4v2m0 18v1m0 1v1m0 40v1m0 14v1m0 5v2m0 2v2m0 10v1m0 15v1m0 27v1m0 5v1m0 15v1m0 7v1m0 12v1m0 31v1m0 10v1m0 19v1m0 8v1m0 21v1m0 16v1m0 6v1m0 2v1m0 2v1m0 5v1m0 18v1m0 3v1m0 8v2m0 6v1M22.5 5v1m0 39v1m0 40v1m0 9v1m0 21v1m0 21v1m0 14v1m0 15v1m0 42v1m0 12v1m0 20v1m0 3v1m0 5v2m0 16v1m0 13v1m0 16v1m0 1v1m0 11v1m0 2v2m0 24v1m0 5v1m0 11v1m0 13v1m0 5v1M23.5 0v1m0 18v1m0 8v1m0 8v1m0 17v1m0 17v1m0 7v1m0 12v1m0 11v1m0 6v1m0 24v1m0 8v1m0 3v1m0 4v1m0 16v1m0 42v1m0 4v1m0 34v1m0 20v1m0 27v1m0 2v1m0 16v1m0 7v2m0 1v1m0 7v1m0 7v1m0 9v1m0 20v1m0 8v1M24.5 7v2m0 2v1m0 6v1m0 53v1m0 28v1m0 12v1m0 6v1m0 27v1m0 10v1m0 32v1m0 4v1m0 5v2m0 16v1m0 12v1m0 2v1m0 5v1m0 2v1m0 6v1m0 11v1m0 21v1m0 2v1m0 3v1m0 5v2m0 20v1m0 33v1m0 22v2m0 3v1M25.5 2v2m0 15v1m0 1v1m0 5v1m0 16v1m0 9v1m0 8v1m0 1v1m0 5v1m0 11v1m0 6v1m0 22v1m0 6v1m0 22v1m0 2v1m0 46v1m0 21v1m0 10v1m0 15v1m0 4v1m0 26v1m0 9v1m0 12v1m0 15v2m0 68v2M26.5 5v1m0 14v1m0 13v1m0 18v1m0 13v2m0 25v1m0 7v1m0 5v1m0 41v1m0 32v1m0 4v1m0 3v1m0 98v1m0 10v1m0 1v1m0 31v1m0 1v1m0 41v1m0 2v1m0 5v1M27.5 15v1m0 22v1m0 1v1m0 7v1m0 1v1m0 8v1m0 7v1m0 49v1m0 17v1m0 6v1m0 4v1m0 4v1m0 23v1m0 6v1m0 1v1m0 3v1m0 1v1m0 17v1m0 3v1m0 2v1m0 13v1m0 27v1m0 2v1m0 34v1m0 19v1m0 27v1m0 7v1M28.5 0v1m0 5v1m0 20v1m0 6v1m0 14v1m0 33v1m0 4v1m0 9v1m0 18v1m0 1v1m0 13v1m0 6v1m0 3v1m0 1v1m0 10v1m0 4v1m0 73v1m0 7v2m0 8v1m0 4v1m0 8v1m0 1v1m0 42v1m0 8v1m0 12v1m0 1v1m0 11v1m0 6v1m0 7v2M29.5 37v1m0 25v1m0 59v1m0 5v1m0 13v2m0 9v1m0 2v1m0 36v1m0 17v1m0 6v1m0 6v1m0 1v1m0 10v1m0 31v1m0 10v1m0 11v1m0 2v1m0 4v1m0 3v1m0 7v1m0 6v1m0 8v1m0 7v1m0 13v1M30.5 9v1m0 29v1m0 33v1m0 19v2m0 3v1m0 2v1m0 22v1m0 28v2m0 13v1m0 2v1m0 4v1m0 86v1m0 9v1m0 38v1m0 10v1m0 20v1m0 6v1m0 9v1m0 3v1m0 25v1M31.5 4v2m0 1v1m0 7v1m0 2v1m0 11v1m0 19v1m0 2v1m0 3v1m0 1v1m0 7v1m0 2v1m0 4v1m0 8v1m0 1v1m0 2v1m0 2v1m0 9v1m0 27v2m0 2v2m0 7v1m0 30v1m0 9v1m0 12v1m0 9v1m0 1v1m0 26v1m0 5v1m0 45v1m0 1v1m0 3v1m0 5v1m0 35v1m0 2v3m0 5v2M32.5 13v1m0 12v1m0 9v1m0 1v1m0 2v1m0 5v1m0 39v1m0 7v1m0 2v1m0 3v1m0 11v1m0 10v1m0 10v1m0 13v1m0 1v1m0 55v1m0 6v1m0 10v1m0 46v1m0 13v1m0 12v1m0 3v1m0 28v1m0 8v1m0 1v1m0 34v1m0 8v1M33.5 0v1m0 19v1m0 1v1m0 10v1m0 2v1m0 3v1m0 9v1m0 2v1m0 4v1m0 1v1m0 34v1m0 7v1m0 2v1m0 22v1m0 18v1m0 8v1m0 5v1m0 16v1m0 22v1m0 13v1m0 4v1m0 9v1m0 24v1m0 5v1m0 1v1m0 1v1m0 28v1m0 20v1m0 2v2m0 8v1m0 22v1m0 15v1m0 7v1m0 11v1M34.5 11v1m0 18v2m0 4v1m0 19v1m0 16v1m0 19v1m0 1v1m0 7v1m0 5v1m0 2v1m0 15v1m0 21v1m0 7v1m0 5v1m0 27v1m0 11v1m0 5v1m0 17v1m0 7v1m0 6v1m0 17v1m0 15v1m0 11v1m0 1v1m0 20v1m0 10v1m0 31v1m0 6v1m0 24v1m0 1v1m0 1v1M35.5 6v2m0 19v1m0 7v1m0 3v1m0 23v1m0 14v1m0 9v1m0 27v2m0 16v1m0 20v1m0 38v1m0 25v1m0 48v1m0 2v1m0 1v1m0 22v1m0 14v1m0 9v1m0 27v1m0 17v1m0 3v1m0 3v1m0 12v1M36.5 5v1m0 17v1m0 21v1m0 3v1m0 9v1m0 4v1m0 11v1m0 17v1m0 4v1m0 1v1m0 9v1m0 3v1m0 13v1m0 10v1m0 15v1m0 3v1m0 15v1m0 25v1m0 25v1m0 14v1m0 35v1m0 9v1m0 64v1m0 5v1M37.5 17v1m0 4v1m0 4v2m0 5v1m0 2v1m0 3v3m0 12v1m0 7v1m0 10v1m0 3v1m0 5v1m0 17v1m0 4v1m0 16v1m0 23v1m0 16v1m0 48v1m0 3v1m0 65v1m0 23v1m0 16v1m0 15v1m0 6v1m0 6v1m0 10v1m0 4v1m0 2v1M38.5 28v1m0 5v1m0 22v1m0 5v1m0 2v1m0 3v1m0 5v1m0 16v1m0 20v1m0 44v1m0 6v2m0 14v1m0 26v1m0 20v1m0 4v1m0 6v1m0 14v2m0 3v1m0 1v1m0 5v1m0 27v1m0 12v1m0 33v1m0 3v2m0 3v1m0 5v1M39.5 4v1m0 40v1m0 13v2m0 10v1m0 2v1m0 9v1m0 1v1m0 15v1m0 6v1m0 44v1m0 6v1m0 22v1m0 9v1m0 2v1m0 5v1m0 16v2m0 18v1m0 4v1m0 19v1m0 1v1m0 1v1m0 5v1m0 8v1m0 5v1m0 1v1m0 30v1m0 10v1m0 14v1m0 9v1m0 7v1m0 4v1M40.5 2v1m0 10v1m0 4v1m0 8v1m0 23v1m0 4v1m0 8v1m0 7v1m0 27v1m0 3v1m0 5v1m0 4v1m0 3v1m0 3v1m0 3v1m0 12v1m0 6v1m0 1v1m0 5v1m0 14v1m0 2v1m0 28v1m0 37v1m0 14v1m0 18v2m0 3v1m0 16v1m0 7v1m0 12v1m0 4v2m0 30v1m0 1v1M41.5 5v1m0 28v1m0 11v1m0 26v1m0 4v1m0 2v1m0 8v1m0 63v1m0 12v1m0 10v1m0 1v1m0 4v1m0 5v1m0 40v1m0 5v1m0 8v2m0 4v1m0 1v1m0 5v1m0 11v1m0 6v1m0 14v1m0 11v1m0 4v1m0 10v1m0 9v1m0 3v1m0 21v1m0 1v1m0 27v1M42.5 1v1m0 6v1m0 12v1m0 22v1m0 3v1m0 13v2m0 18v1m0 1v1m0 40v1m0 9v1m0 16v1m0 11v1m0 26v1m0 20v1m0 19v1m0 10v2m0 4v1m0 10v1m0 26v1m0 4v1m0 21v1m0 6v2m0 8v1m0 28v1M43.5 46v1m0 16v1m0 35v1m0 31v1m0 20v1m0 2v1m0 7v1m0 22v1m0 3v1m0 10v1m0 18v1m0 9v1m0 3v1m0 5v1m0 33v1m0 18v1m0 11v1m0 2v1m0 4v1m0 7v1m0 8v1m0 11v1m0 6v2m0 31v1m0 1v1M44.5 4v1m0 19v1m0 8v1m0 1v1m0 20v1m0 3v1m0 10v1m0 9v1m0 17v1m0 3v1m0 9v1m0 2v1m0 22v2m0 31v1m0 1v1m0 8v1m0 50v1m0 6v1m0 28v1m0 13v1m0 12v1m0 6v1m0 39v1m0 16v1m0 12v1m0 16v1M45.5 16v1m0 4v1m0 7v1m0 3v1m0 2v1m0 5v1m0 23v1m0 14v1m0 29v1m0 29v1m0 9v3m0 4v1m0 3v1m0 9v1m0 11v1m0 6v1m0 1v1m0 33v1m0 43v2m0 2v2m0 6v1m0 3v1m0 14v1m0 8v1m0 20v1m0 21v1m0 6v1m0 3v1m0 10v2m0 5v1M46.5 8v1m0 1v1m0 5v1m0 1v1m0 1v1m0 22v2m0 26v1m0 12v1m0 11v1m0 30v1m0 41v1m0 12v1m0 38v1m0 14v1m0 23v1m0 23v1m0 18v1m0 16v1m0 7v1m0 2v1m0 9v1m0 8v1m0 6v1m0 20v1M47.5 7v1m0 6v2m0 13v1m0 1v1m0 6v1m0 46v1m0 1v1m0 6v1m0 14v1m0 5v1m0 4v1m0 5v1m0 1v1m0 14v1m0 8v1m0 13v1m0 6v2m0 14v1m0 16v1m0 14v2m0 12v1m0 12v1m0 6v1m0 3v1m0 18v1m0 8v1m0 24v1m0 10v1m0 5v1m0 14v1m0 3v1m0 8v1m0 10v1m0 3v1m0 3v1m0 4v1m0 1v1M48.5 18v1m0 18v1m0 37v1m0 22v1m0 3v1m0 1v1m0 22v1m0 3v1m0 15v1m0 11v1m0 17v1m0 2v1m0 9v2m0 21v1m0 34v1m0 15v1m0 36v1m0 30v1m0 42v1m0 6v1M49.5 5v1m0 13v1m0 4v2m0 4v1m0 1v1m0 5v1m0 23v1m0 6v2m0 1v1m0 37v1m0 10v1m0 12v1m0 12v1m0 25v1m0 30v2m0 23v3m0 4v1m0 3v1m0 45v1m0 12v1m0 26v1m0 13v1m0 1v1m0 3v1m0 8v1m0 8v1m0 2v2m0 15v1M50.5 10v1m0 17v1m0 1v1m0 29v1m0 5v1m0 28v1m0 22v1m0 7v1m0 28v1m0 1v1m0 2v1m0 8v1m0 8v1m0 26v1m0 5v1m0 8v1m0 6v1m0 17v1m0 7v1m0 1v1m0 48v1m0 2v1m0 17v1m0 16v1m0 23v1m0 13v1m0 4v1M51.5 27v1m0 40v1m0 7v1m0 10v1m0 2v1m0 64v1m0 2v2m0 23v1m0 7v1m0 6v1m0 15v1m0 4v1m0 12v1m0 15v1m0 3v1m0 13v1m0 8v1m0 1v1m0 2v1m0 8v1m0 14v1m0 13v1m0 6v1m0 13v2m0 7v1m0 2v1m0 7v1m0 28v1M52.5 2v1m0 23v1m0 1v1m0 11v1m0 3v1m0 16v1m0 32v1m0 2v2m0 11v1m0 56v1m0 38v1m0 46v1m0 10v1m0 47v1m0 23v1m0 22v1M53.5 7v1m0 33v1m0 10v1m0 17v2m0 13v1m0 1v1m0 12v1m0 7v1m0 1v1m0 29v1m0 9v1m0 4v2m0 8v1m0 1v1m0 7v1m0 23v1m0 30v1m0 13v1m0 13v1m0 13v1m0 7v1m0 1v1m0 3v2m0 4v1m0 7v1m0 14v1m0 15v1m0 9v1m0 6v1m0 11v1m0 17v1M54.5 0v1m0 13v1m0 6v1m0 7v1m0 9v1m0 5v1m0 28v1m0 5v1m0 4v2m0 27v1m0 2v2m0 17v1m0 15v1m0 1v2m0 16v1m0 2v1m0 9v2m0 15v1m0 4v1m0 9v1m0 7v1m0 10v1m0 1v2m0 9v1m0 11v1m0 38v1m0 17v1m0 8v1m0 13v1m0 11v1m0 10v1M55.5 27v2m0 9v1m0 6v1m0 7v1m0 5v1m0 13v1m0 4v1m0 5v1m0 6v1m0 7v1m0 3v1m0 4v1m0 2v1m0 5v1m0 41v1m0 1v1m0 18v1m0 38v2m0 6v1m0 2v1m0 10v2m0 15v1m0 23v1m0 1v1m0 16v2m0 23v1m0 31v1m0 11v1m0 2v1m0 6v1m0 2v2m0 3v1M56.5 15v1m0 32v1m0 10v1m0 46v1m0 13v1m0 25v1m0 5v1m0 23v2m0 21v1m0 6v1m0 5v1m0 11v1m0 6v1m0 17v1m0 8v1m0 17v1m0 23v1m0 17v1m0 7v1m0 3v1m0 22v1m0 28v1M57.5 6v1m0 16v1m0 30v1m0 10v1m0 7v1m0 24v1m0 18v1m0 15v1m0 8v1m0 4v1m0 4v1m0 7v1m0 10v1m0 6v1m0 9v2m0 46v1m0 17v1m0 13v1m0 11v1m0 6v1m0 3v1m0 59v1m0 9v1m0 8v1M58.5 2v1m0 40v1m0 2v1m0 10v1m0 8v1m0 1v1m0 28v1m0 3v1m0 10v1m0 7v1m0 8v1m0 11v1m0 1v1m0 4v1m0 12v1m0 5v1m0 61v1m0 5v1m0 23v1m0 1v1m0 9v1m0 6v1m0 17v1m0 70v1m0 1v1m0 9v1m0 2v1m0 4v1M59.5 16v2m0 2v1m0 8v1m0 41v1m0 18v1m0 23v1m0 3v1m0 10v1m0 13v1m0 16v1m0 4v1m0 8v1m0 20v1m0 2v1m0 41v1m0 9v1m0 1v1m0 31v1m0 6v1m0 19v2m0 10v1m0 11v1m0 8v1m0 4v1m0 11v2m0 2v1m0 4v1m0 7v1M60.5 3v1m0 15v1m0 2v1m0 5v1m0 53v1m0 8v2m0 8v1m0 5v1m0 28v1m0 26v1m0 10v1m0 4v1m0 5v1m0 20v2m0 17v1m0 7v2m0 8v1m0 26v1m0 10v1m0 1v1m0 5v1m0 4v1m0 22v1m0 24v1m0 9v1m0 12v1m0 3v1m0 1v1M61.5 28v1m0 23v1m0 4v1m0 8v1m0 2v1m0 25v1m0 2v1m0 14v1m0 9v1m0 28v1m0 34v1m0 1v1m0 18v1m0 20v1m0 12v1m0 20v1m0 33v1m0 5v1m0 6v1m0 27v1m0 30v1m0 17v1M62.5 0v1m0 32v1m0 19v1m0 2v1m0 11v1m0 1v3m0 50v1m0 17v1m0 24v1m0 21v1m0 5v1m0 5v1m0 6v1m0 4v1m0 6v1m0 2v1m0 22v1m0 7v1m0 7v1m0 48v1m0 5v1m0 15v1m0 42v1m0 7v1M63.5 56v1m0 1v1m0 31v1m0 2v1m0 23v1m0 7v1m0 14v1m0 3v1m0 24v1m0 15v1m0 10v1m0 17v1m0 9v1m0 27v1m0 26v1m0 4v1m0 5v1m0 7v1m0 6v1m0 11v1m0 11v1m0 10v1m0 9v1m0 11v2m0 1v1m0 8v1M64.5 1v1m0 15v1m0 14v1m0 1v1m0 11v2m0 23v1m0 39v1m0 3v1m0 5v1m0 1v1m0 2v1m0 7v1m0 15v1m0 1v1m0 11v1m0 9v1m0 31v1m0 23v1m0 4v1m0 3v1m0 5v1m0 49v1m0 9v2m0 11v1m0 2v1m0 9v1m0 6v1m0 21v1M65.5 19v1m0 10v1m0 21v1m0 5v1m0 21v1m0 19v1m0 15v1m0 4v1m0 13v1m0 5v1m0 13v1m0 20v1m0 9v1m0 52v1m0 10v1m0 15v4m0 3v1m0 5v1m0 17v1m0 30v1m0 17v1m0 1v1m0 1v1m0 20v1m0 7v2m0 1v1M66.5 1v1m0 2v1m0 15v1m0 4v1m0 19v1m0 4v1m0 5v1m0 3v1m0 3v1m0 19v1m0 3v1m0 5v1m0 20v1m0 10v1m0 35v2m0 4v1m0 3v1m0 1v1m0 36v1m0 12v1m0 1v1m0 26v1m0 6v1m0 7v1m0 13v1m0 19v1m0 5v1m0 14v2m0 7v1m0 10v1m0 6v1m0 5v1m0 1v1m0 6v2m0 1v1m0 8v2m0 1v1m0 7v1M67.5 15v1m0 19v1m0 47v2m0 13v1m0 12v1m0 12v1m0 15v1m0 4v1m0 19v1m0 16v1m0 2v1m0 5v1m0 3v1m0 7v1m0 14v2m0 9v1m0 5v1m0 22v1m0 12v1m0 13v1m0 12v1m0 14v1m0 2v1m0 20v1m0 8v1m0 4v1m0 19v2m0 1v1m0 3v1M68.5 5v1m0 52v1m0 13v1m0 21v1m0 23v1m0 4v1m0 2v1m0 14v1m0 3v1m0 1v1m0 1v1m0 11v1m0 21v1m0 8v2m0 37v1m0 11v1m0 11v1m0 15v1m0 22v1m0 3v2m0 26v2m0 14v1m0 6v1m0 10v1m0 7v1M69.5 69v1m0 13v1m0 2v1m0 24v1m0 4v1m0 3v1m0 1v2m0 6v1m0 7v1m0 12v1m0 55v1m0 17v1m0 2v1m0 12v1m0 1v1m0 20v1m0 15v1m0 16v1m0 4v1m0 10v1m0 50v1m0 15v1m0 5v1M70.5 12v1m0 31v1m0 14v1m0 8v1m0 47v1m0 43v1m0 27v1m0 39v1m0 58v1m0 14v3m0 4v1m0 5v1m0 14v1m0 7v1m0 22v1m0 6v1m0 1v1m0 6v1m0 6v2M71.5 0v1m0 3v1m0 12v1m0 13v1m0 4v1m0 22v1m0 15v1m0 4v1m0 9v1m0 7v1m0 5v1m0 2v1m0 23v1m0 14v1m0 1v1m0 15v1m0 14v1m0 1v1m0 8v1m0 2v1m0 5v1m0 4v1m0 5v1m0 28v1m0 39v1m0 2v1m0 10v1m0 1v1m0 7v1m0 1v1m0 1v1m0 22v1m0 22v1m0 4v1m0 15v1m0 6v1m0 8v1M72.5 1v1m0 18v1m0 2v1m0 28v1m0 21v1m0 10v1m0 4v1m0 3v1m0 7v1m0 14v1m0 14v1m0 20v1m0 1v1m0 2v1m0 11v2m0 6v1m0 17v1m0 4v1m0 10v1m0 6v1m0 15v1m0 17v1m0 1v1m0 10v1m0 15v2m0 11v1m0 17v2m0 32v1M73.5 1v1m0 7v1m0 7v1m0 33v1m0 1v1m0 6v1m0 2v1m0 15v1m0 5v1m0 12v1m0 2v1m0 3v1m0 39v1m0 23v1m0 1v1m0 1v1m0 14v1m0 10v1m0 7v1m0 5v1m0 24v1m0 24v1m0 3v1m0 3v1m0 18v1m0 5v1m0 22v2m0 20v1m0 14v1m0 3v1M74.5 33v1m0 9v1m0 10v1m0 26v1m0 16v1m0 8v1m0 1v1m0 2v1m0 17v1m0 1v2m0 33v1m0 12v1m0 1v1m0 13v1m0 8v1m0 14v2m0 69v1m0 7v1m0 2v1m0 13v1m0 5v1m0 3v1m0 11v1m0 42v1m0 4v1M75.5 0v1m0 49v1m0 14v1m0 10v1m0 3v1m0 2v1m0 10v1m0 6v1m0 20v1m0 4v1m0 14v1m0 8v1m0 3v1m0 53v1m0 9v1m0 7v1m0 31v1m0 13v1m0 34v1m0 5v1m0 4v1m0 21v1m0 13v1m0 1v1m0 25v1M76.5 5v2m0 21v1m0 10v1m0 7v1m0 1v1m0 21v1m0 7v1m0 25v1m0 1v1m0 1v1m0 15v1m0 9v1m0 3v1m0 5v1m0 6v1m0 5v1m0 2v1m0 16v1m0 14v1m0 44v1m0 13v1m0 7v1m0 73v1m0 5v1m0 34v1M77.5 14v1m0 1v1m0 4v1m0 19v1m0 21v1m0 3v1m0 66v1m0 4v1m0 4v1m0 24v1m0 36v1m0 14v1m0 17v1m0 21v1m0 7v1m0 13v2m0 13v1m0 35v1M78.5 12v1m0 55v1m0 28v1m0 2v1m0 9v1m0 8v1m0 9v1m0 4v1m0 9v1m0 9v1m0 49v2m0 3v1m0 2v1m0 28v1m0 10v1m0 22v1m0 7v1m0 20v1m0 18v1m0 9v1m0 30v1m0 19v1M79.5 5v1m0 13v1m0 57v1m0 22v1m0 7v2m0 29v3m0 3v2m0 44v3m0 13v1m0 20v1m0 35v1m0 8v1m0 67v1m0 18v1M80.5 0v1m0 16v1m0 7v1m0 1v1m0 1v1m0 6v1m0 45v1m0 11v1m0 2v1m0 20v1m0 6v1m0 3v1m0 4v1m0 1v1m0 4v1m0 6v1m0 1v1m0 3v1m0 2v3m0 1v2m0 5v1m0 1v1m0 4v3m0 4v1m0 6v1m0 1v1m0 8v1m0 5v1m0 1v1m0 1v1m0 2v1m0 3v1m0 1v1m0 15v2m0 7v1m0 18v1m0 4v1m0 6v1m0 4v1m0 1v1m0 2v1m0 1v1m0 2v1m0 1v1m0 2v1m0 3v1m0 23v1m0 1v1m0 6v1m0 2v1m0 5v1m0 3v1m0 1v1m0 3v1m0 19v1m0 4v2m0 1v1M81.5 15v1m0 13v1m0 37v1m0 25v2m0 26v1m0 10v1m0 4v1m0 4v1m0 2v2m0 2v1m0 14v1m0 10v1m0 40v1m0 7v1m0 7v1m0 3v1m0 5v1m0 1v1m0 23v1m0 16v1m0 5v1m0 8v1m0 5v1m0 2v1m0 11v1m0 1v1m0 2v1m0 1v1m0 2v1m0 6v1m0 16v1m0 7v1m0 4v1m0 7v1m0 6v1m0 2v1m0 2v1M82.5 2v1m0 5v1m0 37v2m0 9v1m0 21v1m0 7v1m0 1v1m0 22v1m0 6v1m0 11v1m0 6v1m0 42v1m0 8v1m0 8v1m0 27v1M83.5 24v1m0 9v2m0 62v1m0 16v1m0 4v1m0 43v1m0 28v1m0 2v1m0 11v1m0 28v1m0 31v1m0 51v2m0 17v1m0 9v1m0 2v1m0 11v1m0 26v1M84.5 31v1m0 10v1m0 1v1m0 14v1m0 3v1m0 17v1m0 14v1m0 10v1m0 9v1m0 3v1m0 19v1m0 21v1m0 13v1m0 26v1m0 4v1m0 2v1m0 5v1m0 12v1m0 8v1m0 19v1m0 5v1m0 39v2m0 3v1m0 12v1M85.5 3v1m0 12v1m0 31v1m0 28v1m0 3v1m0 3v1m0 6v1m0 2v1m0 4v1m0 12v1m0 2v2m0 6v1m0 14v1m0 7v1m0 7v1m0 4v1m0 13v1m0 2v1m0 5v1m0 36v2m0 4v2m0 7v1m0 10v1m0 8v1m0 8v1m0 45v1m0 12v1m0 15v1m0 13v1m0 8v1m0 3v1m0 1v1m0 18v1m0 1v1M86.5 12v1m0 5v1m0 9v1m0 18v2m0 24v1m0 3v1m0 7v1m0 8v1m0 40v1m0 5v1m0 4v1m0 17v1m0 6v1m0 3v1m0 8v1m0 11v1m0 7v1m0 18v1m0 2v1m0 1v1m0 3v1m0 8v1m0 48v1m0 10v1m0 7v1m0 16v2m0 15v1m0 5v1m0 6v1m0 23v1M87.5 2v1m0 54v1m0 4v1m0 6v1m0 12v1m0 4v1m0 2v1m0 17v1m0 39v2m0 1v1m0 4v1m0 3v1m0 7v1m0 13v1m0 4v1m0 2v1m0 1v2m0 3v1m0 3v1m0 5v1m0 22v1m0 5v1m0 2v1m0 8v1m0 53v1m0 3v2m0 37v1m0 16v1m0 14v1m0 10v1m0 4v1M88.5 7v1m0 16v1m0 6v2m0 4v1m0 11v1m0 15v2m0 14v1m0 11v1m0 1v2m0 7v1m0 10v1m0 9v1m0 22v1m0 5v1m0 23v1m0 21v1m0 5v1m0 2v1m0 9v1m0 28v1m0 8v1m0 26v1m0 2v1m0 2v2m0 1v2m0 15v1m0 2v1m0 11v1m0 9v1m0 14v1m0 11v1m0 6v1m0 5v1m0 12v1M89.5 25v1m0 2v1m0 4v1m0 38v1m0 11v1m0 3v2m0 45v1m0 22v1m0 14v1m0 86v1m0 2v1m0 6v1m0 30v1m0 21v1m0 13v1m0 14v1m0 16v1m0 15v1M90.5 13v1m0 18v1m0 7v1m0 3v1m0 37v1m0 19v1m0 17v1m0 5v1m0 1v1m0 1v1m0 3v1m0 10v1m0 11v1m0 10v1m0 12v1m0 2v1m0 3v1m0 18v1m0 36v1m0 6v1m0 26v1m0 16v1m0 6v1m0 25v2m0 40v1M91.5 0v1m0 13v1m0 10v1m0 12v1m0 2v1m0 17v1m0 5v1m0 24v1m0 5v1m0 15v2m0 2v1m0 7v1m0 14v1m0 1v1m0 5v1m0 7v1m0 5v1m0 4v1m0 10v1m0 6v1m0 3v1m0 3v1m0 11v1m0 17v1m0 2v2m0 4v1m0 6v1m0 7v2m0 4v2m0 51v1m0 27v1m0 27v2M92.5 9v1m0 30v1m0 2v1m0 1v1m0 4v1m0 1v1m0 12v1m0 7v1m0 18v1m0 10v1m0 3v1m0 13v1m0 22v1m0 1v1m0 9v1m0 2v1m0 10v1m0 5v1m0 5v1m0 43v1m0 77v1m0 24v1m0 20v1m0 29v1M93.5 10v1m0 5v1m0 7v1m0 23v1m0 10v1m0 3v1m0 27v1m0 8v1m0 9v1m0 23v1m0 16v1m0 66v1m0 6v1m0 3v1m0 8v1m0 6v1m0 28v1m0 18v1m0 1v1m0 7v2m0 14v1m0 9v1m0 38v1m0 15v1M94.5 1v1m0 10v1m0 7v1m0 2v1m0 10v1m0 46v1m0 5v1m0 7v1m0 4v1m0 12v1m0 11v1m0 10v1m0 11v1m0 21v1m0 1v1m0 1v1m0 10v1m0 2v1m0 12v1m0 1v1m0 32v1m0 28v1m0 18v1m0 4v1m0 29v1m0 40v1m0 8v1M95.5 4v1m0 21v1m0 19v1m0 2v1m0 4v1m0 8v1m0 20v1m0 11v1m0 20v2m0 22v1m0 17v1m0 23v1m0 11v1m0 2v1m0 2v1m0 3v1m0 10v2m0 17v1m0 16v1m0 4v1m0 14v1m0 22v1m0 4v1m0 34v1m0 11v1m0 20v1m0 1v1m0 4v1M96.5 13v1m0 28v1m0 18v1m0 1v1m0 1v1m0 15v1m0 7v1m0 1v1m0 12v1m0 12v1m0 16v1m0 1v1m0 11v1m0 12v1m0 7v1m0 7v1m0 4v2m0 10v1m0 7v1m0 18v1m0 7v2m0 10v1m0 51v1m0 17v1m0 27v1m0 27v1m0 10v1M97.5 20v1m0 22v1m0 9v1m0 5v1m0 28v1m0 4v1m0 9v1m0 10v1m0 13v1m0 11v1m0 3v1m0 1v1m0 6v2m0 4v1m0 2v1m0 30v1m0 4v1m0 5v1m0 4v1m0 50v1m0 7v1m0 10v1m0 4v1m0 12v1m0 7v1m0 10v1m0 29v1m0 6v1m0 9v1m0 22v1M98.5 7v1m0 13v1m0 5v1m0 4v1m0 16v1m0 25v1m0 13v1m0 9v1m0 1v1m0 9v2m0 26v1m0 12v1m0 36v1m0 8v1m0 8v1m0 12v2m0 19v1m0 6v1m0 2v1m0 42v1m0 10v1m0 8v1m0 35v1m0 9v1m0 9v1m0 4v1M99.5 20v1m0 34v1m0 2v1m0 2v1m0 1v1m0 22v1m0 9v1m0 38v2m0 25v1m0 15v1m0 12v1m0 15v1m0 31v1m0 43v1m0 23v1m0 42v1m0 15v1M100.5 13v1m0 5v1m0 29v1m0 9v1m0 9v1m0 18v1m0 3v1m0 32v1m0 1v1m0 8v1m0 9v1m0 9v1m0 8v1m0 2v1m0 23v1m0 1v1m0 13v1m0 6v1m0 22v1m0 39v1m0 4v1m0 2v1m0 27v1m0 6v1m0 10v1m0 1v1m0 21v1m0 2v1m0 29v1M101.5 0v1m0 12v1m0 14v1m0 11v1m0 17v2m0 7v1m0 15v1m0 20v1m0 22v1m0 6v1m0 1v1m0 38v1m0 12v1m0 8v1m0 4v1m0 2v1m0 34v1m0 53v1m0 15v1m0 1v1m0 6v1m0 1v1m0 1v1m0 8v1m0 15v1m0 6v1M102.5 11v1m0 12v1m0 8v1m0 7v1m0 3v1m0 11v1m0 3v1m0 15v1m0 2v1m0 2v1m0 7v1m0 12v1m0 5v1m0 48v1m0 8v2m0 11v1m0 32v1m0 6v1m0 22v1m0 39v1m0 4v1m0 19v1m0 1v1m0 1v1m0 8v1m0 23v1m0 6v1m0 13v1m0 15v1m0 1v1m0 1v1M103.5 14v1m0 1v1m0 1v1m0 3v1m0 1v1m0 14v1m0 11v1m0 1v1m0 55v1m0 62v1m0 15v1m0 44v1m0 6v1m0 26v1m0 28v1m0 25v1m0 19v1m0 6v1m0 13v1m0 16v1m0 3v1M104.5 10v1m0 2v1m0 2v1m0 15v1m0 3v1m0 40v1m0 7v1m0 4v1m0 11v1m0 18v1m0 1v1m0 14v1m0 48v1m0 7v1m0 37v1m0 2v1m0 1v1m0 26v1m0 7v1m0 26v1m0 9v1m0 6v1m0 13v1m0 5v1m0 21v1m0 5v1m0 11v1m0 1v1m0 3v2M105.5 7v1m0 1v1m0 43v1m0 3v1m0 7v1m0 6v2m0 6v1m0 14v1m0 6v1m0 31v1m0 7v1m0 11v1m0 3v1m0 28v1m0 20v1m0 24v1m0 33v1m0 2v1m0 19v1m0 4v1m0 33v1m0 1v1m0 3v1m0 5v1m0 4v1m0 19v1m0 15v1m0 2v1m0 3v1M106.5 9v1m0 8v1m0 22v1m0 9v1m0 7v1m0 3v1m0 43v1m0 8v1m0 5v1m0 16v1m0 10v1m0 7v1m0 3v1m0 2v1m0 1v1m0 4v2m0 5v1m0 1v2m0 4v1m0 4v1m0 9v1m0 5v1m0 6v1m0 11v1m0 4v1m0 13v1m0 1v1m0 6v1m0 13v1m0 16v1m0 7v1m0 3v1m0 9v1m0 4v1m0 5v1m0 2v1m0 1v2m0 1v1m0 4v1m0 1v2m0 3v1m0 3v1m0 1v1m0 1v1m0 1v3m0 1v1m0 1v1m0 4v1m0 2v1m0 5v1m0 1v2m0 11v1M108.5 6v1m0 26v1m0 5v1m0 11v1m0 3v1m0 61v1m0 6v1m0 20v1m0 3v1m0 83v1m0 18v1m0 15v1m0 7v1m0 60v1m0 10v1m0 10v1m0 23v1M110.5 1v1m0 21v1m0 14v1m0 19v1m0 9v1m0 119v1m0 23v1m0 24v1m0 4v1m0 26v1m0 121v1M112.5 14v1m0 17v1m0 10v1m0 17v1m0 1v1m0 22v1m0 9v1m0 23v2m0 61v1m0 1v2m0 23v1m0 10v1m0 7v1m0 5v1m0 16v1m0 1v1m0 1v1m0 13v1m0 12v1m0 10v1m0 2v1m0 13v1m0 10v1m0 1v1m0 44v1m0 13v1M114.5 6v1m0 33v1m0 49v1m0 19v1m0 21v1m0 10v1m0 32v1m0 68v1m0 9v1m0 51v1m0 27v1m0 25v1m0 12v1M116.5 4v1m0 2v1m0 2v1m0 13v1m0 18v1m0 3v1m0 16v1m0 1v1m0 3v1m0 12v1m0 3v1m0 33v1m0 30v1m0 17v1m0 2v1m0 19v1m0 14v1m0 3v2m0 2v1m0 18v1m0 6v1m0 7v1m0 13v1m0 14v1m0 6v1m0 24v1m0 19v1m0 1v1m0 31v1m0 18v1M118.5 13v1m0 32v1m0 23v1m0 33v1m0 3v1m0 16v1m0 12v1m0 19v1m0 25v1m0 9v1m0 6v1m0 50v1m0 25v1m0 2v1m0 11v1m0 47v1m0 5v1m0 2v1m0 17v1m0 3v1m0 14v1M120.5 2v1m0 24v1m0 1v1m0 28v1m0 1v1m0 11v1m0 3v1m0 34v1m0 9v1m0 2v1m0 17v1m0 44v1m0 14v1m0 11v1m0 31v1m0 54v1m0 1v1m0 13v1M125.5 7v1m0 19v1m0 11v1m0 24v1m0 16v1m0 10v1m0 48v1m0 22v1m0 23v1m0 16v1m0 30v1m0 18v1m0 24v4m0 23v1m0 7v1m0 66v1M130.5 2v1m0 1v1m0 28v1m0 2v2m0 44v1m0 3v2m0 1v1m0 15v1m0 4v1m0 2v1m0 3v1m0 14v1m0 6v1m0 3v1m0 41v1m0 16v1m0 17v1m0 43v1m0 119v1M135.5 3v1m0 27v1m0 9v1m0 24v1m0 9v1m0 20v1m0 9v1m0 70v1m0 38v1m0 1v2m0 5v1m0 8v1m0 23v1m0 4v1m0 1v1m0 60v1m0 23v1m0 12v1m0 3v1m0 20v1M140.5 1v1m0 27v1m0 14v1m0 12v1m0 9v1m0 4v1m0 125v1m0 22v1m0 33v1m0 35v1m0 9v3m0 3v1m0 3v2m0 4v1m0 8v1m0 19v1m0 12v1m0 6v1m0 18v1m0 5v1M145.5 3v1m0 5v1m0 13v1m0 14v1m0 5v1m0 25v1m0 10v1m0 5v1m0 1v1m0 22v1m0 1v1m0 12v1m0 29v1m0 7v1m0 7v1m0 10v1m0 22v1m0 10v1m0 53v1m0 21v1m0 11v2m0 3v1m0 19v1m0 10v1m0 36v1M150.5 1v1m0 2v1m0 20v1m0 21v1m0 4v1m0 3v1m0 38v1m0 13v1m0 4v1m0 7v1m0 2v1m0 44v1m0 21v1m0 44v1m0 20v1m0 41v1m0 6v1m0 17v1m0 3v1m0 9v1m0 11v1"/>
<path stroke="#481f70" d="M0.5 45v1m0 3v1m0 15v1m0 51v1m0 8v1m0 1v1m0 1v1m0 16v1m0 42v2m0 2v3m0 3v1m0 1v1m0 4v1m0 2v1m0 24v1m0 24v1m0 13v1m0 16v2m0 17v1m0 7v1m0 28v1m0 19v1m0 24v1M1.5 15v1m0 1v1m0 11v1m0 4v1m0 13v1m0 41v1m0 69v1m0 2v1m0 18v1m0 4v1m0 14v1m0 15v1m0 11v1m0 5v1m0 3v1m0 11v1m0 35v1m0 68v1M2.5 12v1m0 30v1m0 34v1m0 15v1m0 10v1m0 3v1m0 12v1m0 13v1m0 1v1m0 17v1m0 3v1m0 8v1m0 1v1m0 3v1m0 5v1m0 9v1m0 38v1m0 10v1m0 2v1m0 12v1m0 42v1m0 21v1m0 6v1m0 16v1m0 31v1m0 5v1m0 8v1m0 1v1M3.5 9v3m0 13v1m0 6v1m0 31v1m0 10v1m0 15v1m0 70v1m0 1v1m0 24v1m0 98v1m0 14v1m0 9v1m0 30v1m0 38v1M4.5 5v1m0 25v1m0 46v1m0 1v1m0 39v1m0 6v1m0 12v1m0 10v1m0 1v1m0 2v1m0 23v1m0 1v1m0 32v2m0 3v1m0 1v1m0 8v1m0 3v1m0 9v1m0 17v1m0 7v1m0 28v1m0 28v1m0 13v1m0 20v1m0 18v1M5.5 14v1m0 30v1m0 3v1m0 16v1m0 8v1m0 6v1m0 11v1m0 25v1m0 40v1m0 7v1m0 11v1m0 6v2m0 4v1m0 16v1m0 30v1m0 46v1m0 28v1m0 2v1m0 5v1m0 18v1m0 9v1M6.5 41v1m0 9v1m0 2v1m0 19v1m0 4v1m0 14v1m0 18v1m0 17v1m0 34v1m0 34v1m0 51v1m0 25v1m0 18v1m0 28v2m0 9v1m0 4v1m0 9v1m0 25v1m0 6v1M7.5 0v1m0 10v1m0 4v1m0 10v1m0 22v1m0 6v1m0 12v1m0 1v1m0 1v1m0 4v1m0 7v1m0 10v1m0 17v1m0 2v1m0 1v1m0 32v1m0 7v1m0 1v1m0 10v1m0 56v1m0 4v1m0 16v1m0 2v1m0 28v1m0 6v2m0 4v1m0 9v1m0 1v1m0 5v1m0 15v1m0 7v1m0 13v1m0 8v1M8.5 12v1m0 12v1m0 5v1m0 30v1m0 5v1m0 15v1m0 18v2m0 13v1m0 9v1m0 1v1m0 9v1m0 42v1m0 25v1m0 14v1m0 46v2m0 3v1m0 26v1m0 20v1m0 44v1m0 2v1m0 4v1m0 5v1m0 3v1m0 1v1M9.5 6v1m0 22v1m0 5v1m0 4v1m0 1v1m0 40v1m0 15v1m0 15v1m0 15v1m0 15v1m0 3v1m0 10v1m0 7v1m0 13v1m0 21v1m0 36v1m0 10v1m0 1v1m0 9v1m0 7v1m0 8v1m0 14v1m0 8v1m0 5v1m0 9v1m0 4v1m0 2v1m0 5v1m0 23v1m0 28v1M10.5 3v1m0 7v1m0 1v1m0 35v1m0 1v1m0 20v1m0 4v1m0 6v1m0 23v1m0 22v1m0 5v1m0 21v1m0 78v1m0 5v1m0 41v2m0 18v1m0 1v1m0 2v1m0 24v1m0 16v1m0 13v1M11.5 8v1m0 11v1m0 5v1m0 12v1m0 9v1m0 4v1m0 16v1m0 10v1m0 32v1m0 7v1m0 15v1m0 10v1m0 15v1m0 1v1m0 3v1m0 57v1m0 2v1m0 13v1m0 10v1m0 2v1m0 5v1m0 17v1m0 37v1m0 24v1m0 20v1m0 3v1m0 8v1M12.5 1v1m0 3v2m0 2v2m0 54v1m0 15v1m0 24v1m0 27v1m0 12v1m0 3v1m0 2v1m0 16v1m0 7v1m0 22v1m0 47v1m0 2v1m0 14v3m0 43v1m0 1v1m0 31v1m0 29v1m0 11v1M13.5 6v1m0 12v2m0 24v1m0 7v1m0 16v1m0 19v1m0 33v1m0 16v1m0 49v1m0 2v2m0 36v1m0 39v1m0 4v1m0 56v1m0 1v1m0 18v1m0 22v1M14.5 11v1m0 3v1m0 6v2m0 2v1m0 4v1m0 1v1m0 46v1m0 47v1m0 72v1m0 5v1m0 12v1m0 9v1m0 43v1m0 21v1m0 35v1m0 16v1m0 1v1m0 14v1m0 16v1m0 6v1m0 2v1M15.5 8v1m0 75v1m0 7v1m0 19v1m0 10v1m0 15v1m0 16v1m0 26v1m0 7v1m0 26v1m0 3v2m0 22v1m0 10v1m0 3v1m0 2v1m0 5v1m0 12v1m0 38v1m0 3v1m0 2v1m0 2v1m0 5v1m0 33v1m0 2v1m0 2v1M16.5 16v1m0 34v1m0 3v1m0 18v1m0 15v2m0 46v1m0 6v1m0 12v1m0 59v1m0 44v1m0 52v1m0 8v1m0 5v1m0 15v1m0 31v1m0 2v1M17.5 37v1m0 3v2m0 33v2m0 30v1m0 9v1m0 14v1m0 2v1m0 3v1m0 21v1m0 8v1m0 14v1m0 12v1m0 7v1m0 7v1m0 5v1m0 26v1m0 23v1m0 14v1m0 8v1m0 23v1m0 26v1m0 8v1m0 1v1M18.5 26v1m0 30v1m0 33v1m0 14v1m0 23v1m0 3v1m0 43v1m0 2v2m0 12v1m0 9v1m0 15v1m0 11v1m0 45v1m0 30v1m0 19v1m0 15v1m0 44v1M19.5 30v1m0 3v1m0 5v1m0 63v1m0 4v1m0 1v1m0 4v1m0 4v1m0 9v1m0 43v1m0 5v1m0 24v2m0 13v1m0 2v1m0 10v1m0 3v1m0 6v1m0 2v1m0 54v2m0 10v1m0 8v1m0 11v1m0 40v1m0 10v1M20.5 15v1m0 11v1m0 8v2m0 2v1m0 18v1m0 9v1m0 12v1m0 13v1m0 9v1m0 17v1m0 28v1m0 4v1m0 36v1m0 21v1m0 6v1m0 27v1m0 10v1m0 15v1m0 1v1m0 11v1m0 24v1m0 1v2m0 9v2m0 2v1m0 1v1m0 39v1m0 12v1M21.5 4v1m0 26v1m0 84v1m0 11v1m0 19v2m0 5v1m0 6v1m0 4v1m0 17v1m0 4v1m0 21v1m0 13v1m0 6v1m0 32v2m0 82v1M22.5 11v1m0 9v1m0 33v1m0 9v1m0 14v1m0 7v2m0 22v1m0 3v1m0 10v1m0 14v1m0 18v1m0 41v1m0 12v1m0 7v1m0 9v1m0 8v1m0 2v1m0 19v1m0 2v2m0 7v1m0 18v1m0 10v1m0 5v1m0 14v1m0 11v1m0 1v1m0 31v1M23.5 9v1m0 10v2m0 17v1m0 1v1m0 3v1m0 14v1m0 40v1m0 31v2m0 1v1m0 21v1m0 10v1m0 29v2m0 80v1m0 18v1m0 1v2m0 2v1m0 4v1m0 7v1m0 47v1M24.5 2v1m0 1v1m0 56v1m0 4v1m0 12v2m0 16v1m0 28v1m0 5v1m0 18v1m0 38v1m0 30v1m0 7v1m0 15v1m0 4v1m0 17v1m0 12v1m0 2v1m0 33v1m0 19v1m0 3v1m0 7v1m0 3v1m0 8v1m0 28v1M25.5 49v1m0 23v1m0 2v2m0 20v1m0 17v1m0 12v1m0 10v1m0 16v1m0 16v1m0 22v1m0 47v1m0 46v1m0 16v1m0 1v1m0 13v2m0 2v1m0 4v1m0 11v1m0 4v1M26.5 29v1m0 15v1m0 10v2m0 24v1m0 14v1m0 12v1m0 5v1m0 30v1m0 5v1m0 12v1m0 7v1m0 21v1m0 17v1m0 14v1m0 5v1m0 2v1m0 5v1m0 66v1m0 7v1m0 14v1m0 9v1M27.5 19v1m0 15v1m0 37v2m0 14v1m0 39v1m0 44v1m0 12v1m0 38v1m0 19v1m0 6v1m0 3v1m0 1v1m0 2v1m0 12v1m0 5v1m0 6v1m0 5v1m0 26v1m0 9v1m0 31v1m0 7v1m0 1v1m0 8v1M28.5 5v1m0 7v1m0 1v1m0 43v1m0 8v1m0 23v1m0 3v1m0 53v1m0 12v1m0 89v1m0 12v1m0 38v1m0 22v1m0 9v1m0 15v1m0 6v1m0 27v1M29.5 9v1m0 14v1m0 14v1m0 11v2m0 27v1m0 13v1m0 13v1m0 6v1m0 16v1m0 45v1m0 6v1m0 44v1m0 26v1m0 11v1m0 10v1m0 6v1m0 1v1m0 22v1m0 31v1m0 5v1m0 9v1M30.5 6v2m0 2v1m0 20v1m0 58v1m0 24v1m0 1v1m0 1v1m0 19v1m0 21v1m0 2v1m0 54v1m0 4v1m0 16v1m0 1v1m0 15v1m0 48v1m0 8v1m0 2v1m0 16v2m0 14v1m0 8v1M31.5 14v1m0 16v1m0 6v1m0 3v1m0 31v1m0 1v1m0 1v1m0 14v1m0 1v2m0 24v2m0 15v1m0 10v1m0 4v1m0 18v1m0 7v1m0 45v1m0 7v1m0 13v1m0 6v2m0 18v1m0 28v1m0 5v1m0 3v1m0 49v1m0 17v1m0 7v1M32.5 3v1m0 21v1m0 25v1m0 3v1m0 59v1m0 24v2m0 7v1m0 33v1m0 19v1m0 18v2m0 32v1m0 8v1m0 2v1m0 29v1m0 42v1m0 53v1M33.5 19v1m0 19v1m0 27v1m0 9v1m0 1v1m0 37v1m0 1v1m0 4v2m0 40v1m0 2v1m0 16v1m0 73v1m0 16v1m0 28v1m0 31v1m0 18v1m0 3v1m0 11v1m0 18v1M34.5 25v1m0 9v1m0 3v1m0 10v1m0 1v2m0 1v1m0 4v1m0 9v2m0 19v1m0 12v1m0 8v1m0 32v1m0 21v1m0 13v1m0 3v1m0 2v1m0 4v1m0 24v1m0 13v1m0 30v1m0 6v1m0 6v1m0 15v1m0 13v1m0 8v1m0 9v1m0 52v1M35.5 49v1m0 54v1m0 4v1m0 15v1m0 5v1m0 5v1m0 86v1m0 29v1m0 2v1m0 4v1m0 8v1m0 22v1m0 15v1m0 19v1m0 8v1m0 8v1m0 22v1m0 14v1M36.5 22v1m0 6v1m0 2v1m0 4v1m0 3v1m0 11v1m0 15v1m0 3v1m0 3v1m0 55v1m0 14v1m0 4v1m0 21v1m0 37v1m0 32v1m0 1v1m0 19v1m0 6v1m0 1v1m0 28v2m0 1v1m0 24v1m0 12v1m0 5v1m0 16v1m0 5v2m0 3v1M37.5 9v1m0 26v1m0 10v1m0 38v1m0 5v2m0 7v1m0 8v1m0 17v1m0 2v1m0 16v1m0 2v1m0 9v1m0 3v1m0 8v1m0 18v1m0 79v1m0 18v1m0 12v1m0 30v1m0 10v1m0 40v1M38.5 14v1m0 12v1m0 22v2m0 12v1m0 27v1m0 10v1m0 17v1m0 7v1m0 22v1m0 10v1m0 17v1m0 5v1m0 10v1m0 4v1m0 17v1m0 16v1m0 4v1m0 107v3m0 2v1m0 24v1M39.5 33v1m0 15v1m0 3v1m0 13v1m0 32v1m0 23v1m0 7v1m0 77v2m0 43v1m0 25v1m0 26v1m0 21v1m0 20v1m0 3v1m0 9v1m0 19v1M40.5 37v1m0 34v1m0 5v1m0 11v1m0 6v1m0 10v1m0 61v1m0 65v1m0 2v1m0 9v1m0 14v1m0 3v1m0 27v1m0 2v1m0 14v1m0 5v1m0 14v1m0 11v1m0 18v2m0 5v1M41.5 33v1m0 20v1m0 8v1m0 6v1m0 28v1m0 15v1m0 3v1m0 6v1m0 29v1m0 22v1m0 32v1m0 12v1m0 8v1m0 32v1m0 40v1m0 1v1m0 13v2m0 44v1M42.5 2v1m0 15v1m0 34v1m0 2v1m0 21v1m0 4v1m0 4v1m0 6v1m0 13v1m0 43v1m0 2v1m0 15v1m0 32v1m0 8v1m0 57v4m0 1v1m0 7v1m0 48v1m0 12v1m0 26v1M43.5 0v1m0 26v1m0 17v1m0 14v1m0 20v1m0 16v1m0 6v1m0 23v1m0 9v1m0 6v1m0 20v1m0 3v1m0 3v1m0 4v1m0 13v1m0 19v1m0 6v1m0 3v2m0 14v1m0 15v1m0 48v1m0 28v1m0 5v1m0 32v1M44.5 2v2m0 3v2m0 36v1m0 9v1m0 2v1m0 23v1m0 11v1m0 6v1m0 6v1m0 9v1m0 4v1m0 29v1m0 2v1m0 27v1m0 4v1m0 9v1m0 9v1m0 1v1m0 10v1m0 43v1m0 2v1m0 12v1m0 15v1m0 6v1m0 11v1m0 6v1m0 4v1m0 20v1m0 1v1m0 5v1m0 6v1M45.5 12v1m0 10v1m0 2v1m0 7v1m0 3v1m0 17v1m0 31v1m0 11v1m0 25v1m0 1v1m0 46v1m0 22v1m0 16v1m0 1v1m0 22v1m0 16v1m0 23v1m0 12v1m0 1v1m0 26v1m0 5v1m0 14v1m0 6v1m0 21v1m0 10v2m0 5v1M46.5 25v1m0 6v1m0 3v1m0 35v1m0 9v1m0 30v1m0 4v1m0 66v1m0 34v1m0 13v1m0 24v1m0 36v1m0 22v1m0 15v1m0 8v1m0 1v1m0 47v1M47.5 27v1m0 8v1m0 5v1m0 19v1m0 1v1m0 12v1m0 4v1m0 53v1m0 8v1m0 10v2m0 9v1m0 10v1m0 9v1m0 2v1m0 7v1m0 75v1m0 40v1m0 28v1m0 17v1m0 2v1m0 21v1M48.5 39v1m0 7v1m0 2v1m0 12v1m0 3v1m0 2v1m0 6v1m0 14v1m0 1v1m0 2v1m0 50v1m0 25v1m0 8v1m0 1v1m0 9v1m0 3v1m0 4v1m0 28v2m0 2v1m0 1v1m0 42v1m0 32v1m0 5v1m0 4v1m0 30v1m0 2v1m0 2v1m0 3v1m0 6v1m0 9v1m0 2v1m0 2v1m0 1v1M49.5 11v1m0 35v1m0 16v1m0 36v1m0 10v1m0 4v1m0 6v1m0 32v1m0 13v1m0 5v1m0 16v1m0 2v1m0 8v1m0 27v1m0 6v1m0 28v1m0 17v1m0 2v1m0 2v1m0 16v1m0 12v1m0 3v1m0 45v1m0 13v1M50.5 61v1m0 17v1m0 1v1m0 1v1m0 6v1m0 10v1m0 10v1m0 16v3m0 7v1m0 45v1m0 20v1m0 40v1m0 20v1m0 15v2m0 1v1m0 8v1m0 23v1m0 2v1m0 47v1m0 10v1m0 5v1M51.5 16v1m0 22v1m0 24v1m0 9v1m0 5v1m0 15v1m0 9v1m0 10v1m0 9v1m0 10v1m0 6v2m0 1v1m0 37v1m0 19v1m0 16v1m0 10v1m0 5v1m0 10v1m0 4v1m0 10v1m0 4v1m0 25v1m0 7v1m0 21v1m0 15v1m0 4v1M52.5 22v1m0 24v1m0 16v2m0 5v1m0 21v1m0 27v1m0 1v1m0 15v1m0 18v1m0 32v1m0 11v1m0 18v1m0 45v1m0 2v1m0 43v1m0 1v1m0 16v1m0 21v1m0 20v1M53.5 19v1m0 22v1m0 4v1m0 6v1m0 14v1m0 3v1m0 17v1m0 5v1m0 3v1m0 23v1m0 15v1m0 46v1m0 9v1m0 28v1m0 41v1m0 15v1m0 3v1m0 12v1m0 3v1m0 9v2m0 36v1m0 6v1m0 19v1M54.5 3v1m0 9v1m0 10v1m0 8v1m0 6v1m0 2v2m0 5v1m0 13v1m0 2v2m0 1v1m0 6v1m0 6v1m0 5v1m0 1v1m0 2v1m0 3v1m0 6v1m0 5v1m0 2v2m0 8v1m0 4v1m0 4v1m0 2v1m0 4v1m0 2v1m0 14v1m0 11v1m0 6v1m0 7v1m0 5v2m0 17v1m0 19v1m0 10v1m0 8v1m0 14v1m0 56v1m0 12v1m0 17v1m0 18v1m0 9v1M55.5 9v1m0 1v1m0 2v1m0 3v1m0 2v1m0 1v1m0 10v1m0 4v1m0 67v1m0 13v2m0 1v1m0 13v1m0 1v1m0 10v1m0 33v2m0 29v1m0 48v1m0 10v1m0 22v1m0 7v1m0 5v1m0 39v1m0 14v1M56.5 1v1m0 39v2m0 20v1m0 26v1m0 20v1m0 10v1m0 16v1m0 25v1m0 18v1m0 5v1m0 10v1m0 24v1m0 43v1m0 6v1m0 2v1m0 3v1m0 9v1m0 51v1m0 14v1m0 8v1m0 1v1M57.5 10v1m0 14v1m0 6v1m0 1v1m0 7v1m0 13v1m0 37v1m0 4v1m0 4v1m0 10v1m0 4v1m0 27v1m0 19v1m0 13v2m0 9v1m0 9v1m0 3v1m0 22v1m0 2v1m0 12v1m0 12v1m0 9v1m0 3v1m0 25v1m0 21v1m0 15v1m0 18v1m0 9v1m0 19v1M58.5 24v1m0 2v2m0 5v1m0 6v1m0 22v1m0 22v3m0 8v1m0 14v1m0 2v1m0 11v1m0 10v1m0 25v1m0 29v1m0 20v1m0 30v1m0 4v1m0 13v1m0 9v1m0 56v1m0 19v1m0 23v1M59.5 5v1m0 16v1m0 1v1m0 36v1m0 7v1m0 25v1m0 12v1m0 2v1m0 16v1m0 5v1m0 31v1m0 12v2m0 1v1m0 6v1m0 29v2m0 14v1m0 18v1m0 27v1m0 5v1m0 11v1m0 7v1m0 9v1m0 29v1m0 19v1m0 11v1m0 4v1M60.5 2v1m0 9v1m0 23v1m0 22v1m0 3v2m0 37v1m0 14v1m0 2v1m0 8v1m0 5v1m0 6v1m0 14v1m0 13v1m0 25v1m0 11v1m0 3v1m0 4v1m0 18v1m0 12v1m0 2v1m0 46v1m0 13v1m0 32v1M61.5 6v1m0 42v1m0 3v1m0 67v1m0 29v1m0 7v1m0 13v1m0 2v1m0 2v1m0 13v1m0 27v1m0 3v1m0 5v1m0 5v1m0 14v1m0 24v1m0 6v1m0 5v1m0 1v1m0 13v1m0 46v1m0 13v1M62.5 13v1m0 6v1m0 22v1m0 29v1m0 11v1m0 4v1m0 1v1m0 3v1m0 6v1m0 28v1m0 3v1m0 28v1m0 18v1m0 19v1m0 4v1m0 5v1m0 1v1m0 2v1m0 28v1m0 10v1m0 30v1m0 65v1m0 1v1M63.5 19v1m0 1v1m0 52v1m0 1v1m0 1v1m0 104v1m0 101v1m0 13v1m0 20v1m0 5v1m0 15v1m0 41v1M64.5 6v1m0 8v1m0 11v1m0 52v1m0 11v1m0 14v2m0 20v1m0 8v1m0 23v1m0 8v1m0 5v1m0 5v1m0 14v1m0 21v1m0 37v2m0 2v1m0 15v1m0 14v1m0 13v1m0 44v1m0 26v1M65.5 1v1m0 7v1m0 12v1m0 10v1m0 11v1m0 22v1m0 20v1m0 4v1m0 41v1m0 11v1m0 1v1m0 30v1m0 46v1m0 14v1m0 17v1m0 29v1m0 3v1m0 3v1m0 13v1m0 6v1m0 12v2m0 23v1m0 7v1m0 10v1M66.5 3v1m0 11v1m0 27v1m0 4v1m0 2v1m0 3v1m0 2v1m0 44v1m0 46v1m0 14v1m0 9v1m0 17v1m0 2v1m0 17v1m0 24v1m0 12v1m0 20v1m0 2v1m0 8v1m0 2v1m0 2v1m0 9v1m0 60v1m0 8v1m0 7v1M67.5 18v1m0 22v1m0 2v1m0 9v1m0 7v1m0 19v1m0 6v1m0 20v1m0 58v1m0 5v1m0 20v1m0 10v1m0 17v1m0 52v1m0 3v1m0 41v1m0 10v1m0 7v1m0 3v1m0 1v1m0 29v1m0 2v1M68.5 30v1m0 7v1m0 2v1m0 5v1m0 48v1m0 22v1m0 15v1m0 2v1m0 3v1m0 38v1m0 6v1m0 6v1m0 8v1m0 5v1m0 7v1m0 11v1m0 10v2m0 13v1m0 5v1m0 11v1m0 39v1m0 30v1m0 32v2M69.5 12v1m0 3v1m0 6v1m0 22v1m0 12v3m0 13v1m0 31v1m0 28v1m0 16v1m0 37v1m0 5v1m0 2v1m0 16v1m0 18v1m0 40v1m0 9v1m0 2v1m0 4v1m0 21v1m0 23v2m0 4v1m0 3v1m0 4v1m0 3v1M70.5 1v1m0 13v1m0 22v1m0 9v1m0 38v1m0 3v1m0 18v1m0 2v1m0 13v1m0 1v1m0 112v1m0 3v1m0 9v1m0 2v1m0 1v1m0 27v1m0 34v1m0 51v1M71.5 7v1m0 50v1m0 18v1m0 64v1m0 20v1m0 10v1m0 11v1m0 10v2m0 8v1m0 12v2m0 27v1m0 44v1m0 4v1m0 24v2m0 15v2m0 7v1m0 33v1m0 2v1M72.5 5v1m0 16v1m0 6v1m0 4v1m0 22v1m0 66v1m0 9v1m0 19v1m0 13v1m0 6v1m0 8v1m0 10v1m0 26v1m0 3v1m0 16v1m0 10v1m0 14v1m0 7v2m0 23v1m0 14v1m0 18v1m0 3v1m0 3v1m0 11v1m0 26v1m0 4v1M73.5 14v1m0 12v1m0 31v1m0 26v1m0 31v1m0 9v1m0 7v1m0 16v1m0 1v1m0 9v1m0 15v1m0 14v1m0 8v1m0 5v1m0 24v1m0 10v1m0 10v1m0 9v1m0 11v1m0 32v1m0 7v1m0 3v2m0 7v1m0 20v1m0 2v1m0 12v1M74.5 4v1m0 62v1m0 58v1m0 14v1m0 4v1m0 10v1m0 54v1m0 9v2m0 15v1m0 37v1m0 22v1m0 7v2m0 17v1m0 4v1m0 11v2m0 19v1m0 10v1M75.5 25v1m0 30v1m0 30v1m0 19v1m0 3v1m0 21v1m0 38v1m0 5v1m0 3v1m0 10v1m0 54v1m0 4v1m0 107v1M76.5 21v1m0 3v1m0 5v2m0 11v1m0 10v1m0 4v1m0 2v1m0 20v1m0 17v1m0 29v1m0 29v1m0 4v2m0 2v1m0 4v1m0 3v1m0 6v1m0 6v1m0 2v1m0 1v1m0 9v1m0 5v1m0 9v1m0 2v1m0 8v1m0 6v1m0 11v1m0 50v1m0 13v1m0 36v1m0 18v1m0 5v1M77.5 6v2m0 20v1m0 5v1m0 19v1m0 27v1m0 13v2m0 16v1m0 2v1m0 46v2m0 45v1m0 18v1m0 10v2m0 9v1m0 33v1m0 10v1m0 9v1m0 3v1M78.5 19v1m0 50v1m0 30v1m0 20v2m0 32v1m0 10v1m0 4v1m0 1v1m0 2v1m0 2v1m0 59v1m0 23v1m0 3v1m0 50v1m0 38v1m0 21v1M79.5 10v1m0 19v2m0 11v1m0 8v1m0 18v2m0 5v1m0 4v1m0 8v1m0 25v2m0 4v1m0 13v1m0 5v1m0 3v1m0 77v1m0 91v1m0 24v1m0 2v1m0 12v1m0 2v1m0 17v1m0 5v1m0 2v1M80.5 21v1m0 10v2m0 5v1m0 2v1m0 4v1m0 40v1m0 33v2m0 2v1m0 19v2m0 5v1m0 1v1m0 8v2m0 3v1m0 13v2m0 1v2m0 14v1m0 11v1m0 3v1m0 1v1m0 1v1m0 22v1m0 2v1m0 17v1m0 4v1m0 2v1m0 13v1m0 2v1m0 2v1m0 3v1m0 10v2m0 2v1m0 1v1m0 1v1m0 10v2m0 10v1m0 3v1m0 1v1m0 2v2m0 3v1m0 6v1m0 20v1m0 1v1M81.5 0v1m0 69v1m0 5v1m0 21v1m0 9v1m0 4v1m0 65v1m0 33v1m0 17v1m0 51v1m0 10v1m0 8v1m0 3v1m0 4v2m0 1v1m0 2v1m0 8v1m0 5v1m0 1v1m0 3v1m0 1v1m0 3v2m0 5v1m0 1v1m0 3v1m0 2v1m0 3v1m0 4v4m0 10v1M82.5 4v1m0 17v1m0 3v1m0 68v1m0 2v1m0 21v1m0 5v1m0 6v1m0 6v2m0 4v2m0 10v1m0 8v1m0 6v1m0 2v1m0 2v1m0 23v1m0 20v1m0 8v1m0 27v1M83.5 111v1m0 10v1m0 9v1m0 37v1m0 11v1m0 43v1m0 5v1m0 7v1m0 35v1m0 6v1m0 1v1m0 1v1m0 22v1m0 6v1m0 1v1m0 23v1m0 31v1M84.5 33v1m0 12v1m0 3v1m0 18v1m0 9v1m0 6v1m0 11v1m0 9v1m0 3v1m0 13v1m0 13v1m0 17v1m0 9v1m0 3v1m0 5v1m0 16v1m0 20v1m0 9v1m0 30v1m0 68v1m0 4v1m0 38v1m0 5v1M85.5 12v1m0 10v1m0 20v1m0 19v1m0 10v1m0 35v1m0 69v1m0 61v1m0 5v1m0 1v1m0 41v1m0 22v1m0 9v1m0 31v1m0 19v1m0 11v1M86.5 5v2m0 45v2m0 7v1m0 19v1m0 39v1m0 27v1m0 3v1m0 14v1m0 40v1m0 1v1m0 42v1m0 7v1m0 14v1m0 4v1m0 5v1m0 16v1m0 15v1m0 11v2m0 3v1m0 13v1m0 1v1m0 4v1m0 24v1M87.5 4v2m0 49v1m0 7v1m0 11v1m0 5v1m0 4v1m0 43v1m0 9v1m0 28v1m0 4v1m0 29v1m0 8v1m0 3v1m0 20v1m0 26v1m0 4v1m0 25v2m0 3v1m0 44v1m0 8v1m0 9v1m0 19v1M88.5 18v1m0 11v1m0 10v1m0 16v1m0 11v1m0 7v1m0 11v1m0 31v1m0 7v1m0 4v1m0 22v1m0 5v1m0 62v1m0 4v1m0 6v1m0 14v1m0 3v1m0 3v1m0 1v1m0 5v1m0 5v1m0 12v1m0 24v1m0 4v1m0 1v1m0 18v1M89.5 24v1m0 1v1m0 39v1m0 3v1m0 45v1m0 10v1m0 44v1m0 44v2m0 63v1m0 10v1m0 1v1m0 6v1m0 2v1m0 7v1m0 18v1m0 2v1m0 34v2m0 17v1M90.5 3v1m0 8v1m0 4v1m0 45v1m0 15v1m0 34v1m0 14v1m0 8v1m0 11v1m0 10v1m0 4v1m0 8v1m0 9v1m0 9v1m0 30v1m0 14v1m0 6v1m0 45v1m0 3v1m0 6v1m0 2v1m0 1v1M91.5 11v1m0 19v1m0 10v1m0 50v1m0 5v1m0 9v1m0 54v1m0 5v1m0 7v1m0 7v1m0 4v1m0 117v1m0 36v1m0 4v1m0 13v1m0 13v1m0 8v1M92.5 8v1m0 17v1m0 31v1m0 28v1m0 41v1m0 1v1m0 3v1m0 2v1m0 11v1m0 45v1m0 2v1m0 21v2m0 24v1m0 60v1m0 10v1m0 21v1m0 15v1m0 25v1m0 7v2M93.5 7v1m0 18v1m0 57v1m0 10v1m0 43v1m0 14v2m0 30v1m0 4v1m0 7v1m0 12v1m0 21v1m0 6v1m0 11v1m0 74v1m0 9v1m0 20v1m0 27v1M94.5 25v1m0 78v1m0 66v1m0 34v1m0 11v2m0 2v1m0 27v1m0 47v1m0 11v1m0 25v1m0 1v1m0 42v1m0 1v1M95.5 39v2m0 26v1m0 19v1m0 11v1m0 10v2m0 41v1m0 18v1m0 2v1m0 8v1m0 11v2m0 32v1m0 35v1m0 7v1m0 8v1m0 15v1m0 17v1m0 48v1m0 6v2m0 14v1M96.5 26v1m0 26v2m0 41v1m0 67v1m0 27v1m0 17v1m0 25v1m0 6v1m0 50v1m0 22v1m0 16v1m0 8v2m0 26v1m0 8v1M97.5 27v1m0 1v1m0 31v1m0 14v1m0 17v1m0 4v1m0 8v1m0 38v1m0 1v1m0 8v1m0 16v1m0 1v1m0 19v1m0 25v1m0 72v1m0 71v1M98.5 17v1m0 51v1m0 7v1m0 14v1m0 69v1m0 3v1m0 3v1m0 21v1m0 6v1m0 31v1m0 5v1m0 16v1m0 65v2m0 8v1m0 21v2m0 9v1m0 29v1M99.5 13v1m0 8v1m0 11v2m0 2v1m0 7v1m0 1v1m0 41v2m0 69v1m0 3v1m0 49v1m0 8v1m0 15v1m0 17v1m0 36v1m0 26v1M100.5 23v1m0 24v1m0 12v1m0 25v1m0 8v1m0 18v1m0 35v1m0 15v1m0 17v1m0 1v1m0 2v1m0 8v1m0 5v1m0 10v1m0 18v1m0 12v1m0 24v1m0 27v1m0 9v1m0 41v1m0 6v1M101.5 25v1m0 15v1m0 21v1m0 11v1m0 1v1m0 7v1m0 9v1m0 1v1m0 3v1m0 3v1m0 25v1m0 26v1m0 10v2m0 67v1m0 13v1m0 4v1m0 11v1m0 6v1m0 38v1m0 41v1m0 9v2M102.5 49v2m0 12v1m0 22v1m0 7v1m0 2v1m0 4v1m0 34v1m0 23v1m0 4v1m0 22v1m0 3v1m0 38v1m0 1v1m0 8v1m0 6v1m0 9v1m0 9v1m0 52v1m0 39v1m0 25v1M103.5 7v2m0 11v1m0 4v1m0 16v1m0 5v1m0 10v1m0 1v1m0 35v1m0 9v1m0 11v1m0 28v1m0 9v1m0 2v1m0 28v2m0 9v1m0 15v1m0 4v1m0 4v1m0 31v1m0 20v1m0 20v1m0 5v1m0 6v1m0 9v2m0 5v2m0 55v1m0 2v1M104.5 15v1m0 34v1m0 7v1m0 104v1m0 8v1m0 5v1m0 49v1m0 2v1m0 7v1m0 23v1m0 8v1m0 17v1m0 24v1m0 7v1m0 39v2m0 25v1M105.5 22v1m0 9v1m0 15v1m0 14v1m0 4v1m0 1v1m0 3v1m0 7v1m0 94v1m0 10v1m0 15v1m0 6v1m0 1v1m0 1v1m0 3v1m0 9v1m0 15v1m0 16v1m0 22v1m0 2v2m0 6v1m0 33v1m0 17v1M106.5 8v1m0 1v2m0 91v1m0 7v1m0 13v1m0 4v1m0 1v1m0 3v1m0 15v1m0 6v1m0 10v2m0 5v2m0 7v1m0 4v1m0 1v2m0 2v1m0 2v1m0 5v1m0 6v1m0 7v1m0 2v1m0 4v1m0 1v1m0 1v1m0 4v1m0 5v1m0 2v1m0 4v2m0 2v1m0 1v1m0 7v1m0 3v1m0 1v2m0 7v1m0 1v2m0 2v1m0 8v1m0 4v1m0 1v2m0 5v1m0 7v1m0 1v2m0 9v1m0 32v1m0 1v1m0 9v1m0 1v1m0 6v2M108.5 67v1m0 33v1m0 14v1m0 10v1m0 36v1m0 1v1m0 4v1m0 18v1m0 1v1m0 8v1m0 36v1m0 35v1m0 14v1m0 13v1m0 11v1m0 29v1m0 14v1m0 29v1M110.5 17v1m0 21v1m0 35v1m0 41v1m0 15v1m0 13v1m0 41v1m0 1v1m0 58v1m0 29v1m0 16v2m0 24v1m0 5v1m0 4v1m0 35v1m0 3v1M112.5 4v1m0 10v1m0 14v1m0 3v1m0 18v2m0 9v1m0 17v1m0 14v2m0 17v1m0 24v1m0 11v1m0 16v1m0 7v1m0 21v1m0 117v1m0 4v1m0 53v2M114.5 18v1m0 3v1m0 16v1m0 15v2m0 8v1m0 26v1m0 5v1m0 22v1m0 2v1m0 23v1m0 15v1m0 29v1m0 6v1m0 5v1m0 46v1m0 3v1m0 14v1m0 1v1m0 4v1m0 3v1m0 18v1m0 5v1m0 4v3m0 31v2m0 5v1m0 1v2m0 13v1M116.5 33v1m0 14v1m0 3v1m0 8v1m0 9v1m0 4v1m0 3v1m0 14v1m0 2v1m0 8v1m0 19v1m0 6v2m0 5v1m0 174v1M118.5 16v1m0 23v1m0 68v1m0 10v1m0 39v1m0 12v1m0 15v1m0 71v2m0 10v1m0 8v1m0 13v1m0 11v2m0 21v1m0 41v1m0 6v1M120.5 0v1m0 18v1m0 44v1m0 27v1m0 4v1m0 54v1m0 4v1m0 19v1m0 32v1m0 28v1m0 35v1m0 31v1m0 18v1m0 2v1m0 11v1m0 4v1m0 20v1M125.5 13v1m0 14v1m0 20v1m0 26v1m0 10v1m0 24v1m0 6v2m0 60v1m0 25v1m0 2v1m0 40v1m0 23v1m0 12v1m0 15v1m0 43v1m0 20v1m0 10v1m0 2v1m0 5v1m0 1v1M130.5 12v1m0 48v1m0 19v1m0 9v1m0 50v1m0 26v1m0 49v1m0 22v1m0 9v1m0 9v1m0 9v1m0 14v1m0 44v1m0 12v1m0 20v1M135.5 21v1m0 22v1m0 24v1m0 8v1m0 11v1m0 19v1m0 26v1m0 55v1m0 22v1m0 25v1m0 4v1m0 9v1m0 12v1m0 1v1m0 20v1m0 8v1m0 4v1m0 11v2m0 2v1m0 2v1m0 18v1m0 9v2m0 17v1m0 5v1m0 1v1M140.5 11v1m0 8v1m0 14v1m0 11v1m0 11v1m0 34v1m0 5v1m0 17v1m0 44v1m0 35v1m0 10v1m0 6v1m0 60v2m0 4v1m0 38v1m0 28v2m0 28v1M145.5 8v1m0 40v1m0 2v1m0 4v1m0 9v1m0 20v1m0 11v1m0 2v1m0 35v1m0 26v1m0 2v1m0 21v1m0 1v1m0 75v2m0 19v1m0 14v1m0 16v1m0 55v1M150.5 24v1m0 4v1m0 35v1m0 46v1m0 33v1m0 89v1m0 1v1m0 20v1m0 8v1m0 3v1m0 5v1m0 9v1m0 13v1m0 5v1m0 25v2m0 10v2m0 9v1m0 3v1m0 13v1"/>
<path stroke="#482475" d="M0.5 66v1m0 20v1m0 4v1m0 46v1m0 45v1m0 58v1m0 10v1m0 10v1m0 16v1m0 53v1M1.5 56v1m0 50v1m0 51v1m0 10v1m0 41v1m0 29v1m0 12v1m0 22v1m0 15v1m0 20v1m0 1v1m0 20v1M2.5 41v1m0 9v1m0 5v1m0 27v1m0 27v1m0 1v1m0 2v1m0 4v1m0 15v1m0 97v1m0 17v1m0 2v1m0 12v1m0 37v1m0 6v1m0 14v1m0 44v1m0 15v1m0 1v1M3.5 3v1m0 8v1m0 8v1m0 29v1m0 4v1m0 5v1m0 9v1m0 12v1m0 16v1m0 7v1m0 2v1m0 49v1m0 10v1m0 12v1m0 15v1m0 25v1m0 18v1m0 3v1m0 39v1m0 23v1m0 20v1m0 5v1m0 19v1m0 25v1m0 3v1M4.5 8v1m0 36v1m0 28v1m0 7v2m0 31v1m0 3v1m0 2v1m0 14v1m0 9v1m0 45v2m0 29v1m0 58v1m0 17v1m0 28v1M5.5 72v1m0 1v1m0 14v1m0 11v1m0 4v1m0 5v1m0 11v1m0 81v1m0 13v1m0 10v1m0 19v1m0 14v1m0 12v1m0 7v1m0 14v1m0 16v1m0 17v1M6.5 11v1m0 1v1m0 58v1m0 47v2m0 1v1m0 80v2m0 4v1m0 74v1m0 9v1m0 33v1m0 35v1m0 25v1M7.5 62v1m0 18v1m0 11v1m0 23v1m0 79v1m0 20v1m0 39v1m0 22v1m0 28v1m0 38v1m0 13v1M8.5 9v1m0 3v1m0 9v1m0 8v1m0 4v1m0 75v1m0 48v1m0 15v1m0 2v1m0 5v2m0 15v1m0 7v1m0 92v1m0 4v1m0 20v1m0 52v2M9.5 38v1m0 50v1m0 20v1m0 19v1m0 44v1m0 1v1m0 12v1m0 2v2m0 1v1m0 12v1m0 11v1m0 26v1m0 10v1m0 4v1m0 37v1m0 36v1m0 22v1m0 26v1m0 1v1M10.5 4v1m0 38v1m0 12v1m0 4v1m0 42v1m0 4v1m0 32v2m0 10v1m0 38v1m0 7v1m0 49v1m0 10v1m0 13v1m0 1v2m0 44v1m0 37v1m0 23v1M11.5 4v1m0 11v1m0 33v1m0 11v1m0 64v1m0 42v1m0 7v1m0 4v1m0 5v1m0 29v1m0 18v1m0 27v1m0 6v1m0 1v1m0 17v1m0 5v1m0 7v1m0 64v1M12.5 16v1m0 12v1m0 2v1m0 17v1m0 1v1m0 2v1m0 36v1m0 4v1m0 15v1m0 38v1m0 8v1m0 12v1m0 114v1m0 1v2m0 6v1m0 6v1m0 24v1m0 8v1m0 44v1M13.5 8v1m0 25v1m0 57v1m0 22v1m0 57v1m0 38v1m0 24v1m0 16v1m0 13v1m0 2v1m0 16v1m0 83v1m0 8v1M14.5 6v1m0 28v1m0 13v1m0 1v3m0 46v1m0 9v1m0 4v1m0 26v1m0 4v1m0 32v1m0 2v1m0 7v1m0 14v1m0 25v1m0 2v1m0 17v1m0 19v1m0 36v1m0 8v1m0 1v1m0 20v2m0 10v1m0 10v1m0 9v1M15.5 14v1m0 10v1m0 5v2m0 118v1m0 23v1m0 23v1m0 15v1m0 20v2m0 40v1m0 14v1m0 8v1m0 4v1m0 43v1m0 30v1m0 4v1M16.5 4v1m0 26v1m0 37v1m0 34v1m0 5v1m0 23v1m0 1v1m0 13v1m0 33v1m0 36v1m0 22v1m0 9v1m0 5v1m0 22v1m0 1v1m0 4v1m0 14v1m0 28v1m0 41v3M17.5 14v1m0 18v1m0 30v1m0 1v1m0 42v2m0 34v1m0 20v1m0 24v1m0 6v1m0 18v1m0 1v1m0 44v1m0 6v1m0 21v1m0 55v1m0 4v1M18.5 32v1m0 17v1m0 53v1m0 3v1m0 49v1m0 9v1m0 58v1m0 9v1m0 56v1m0 31v1m0 8v1m0 21v1m0 5v1m0 17v2M19.5 1v1m0 26v1m0 4v1m0 24v1m0 5v2m0 25v1m0 10v1m0 12v1m0 4v1m0 9v1m0 5v1m0 2v1m0 14v1m0 1v1m0 15v1m0 1v1m0 2v1m0 18v1m0 13v1m0 2v1m0 1v1m0 2v2m0 6v1m0 2v1m0 12v1m0 74v1m0 9v1m0 4v1m0 9v1m0 17v1m0 1v1m0 4v2m0 4v1M20.5 2v1m0 1v1m0 6v1m0 8v1m0 31v1m0 5v1m0 6v1m0 9v1m0 4v1m0 2v1m0 4v1m0 20v1m0 32v1m0 5v1m0 5v1m0 21v1m0 21v1m0 7v1m0 2v1m0 22v1m0 4v1m0 3v1m0 59v1m0 8v1m0 8v1m0 19v1M21.5 8v1m0 13v1m0 31v1m0 33v1m0 6v1m0 56v1m0 15v1m0 6v1m0 1v1m0 11v1m0 45v1m0 40v1m0 3v1m0 13v1m0 3v1m0 2v1m0 17v1m0 29v1M22.5 10v1m0 45v1m0 2v1m0 32v1m0 10v1m0 9v1m0 49v1m0 64v1m0 4v1m0 6v1m0 12v1m0 8v1m0 48v1m0 18v1m0 1v1m0 50v1M23.5 44v1m0 35v1m0 9v1m0 1v1m0 26v1m0 20v1m0 16v1m0 62v1m0 23v1m0 3v1m0 4v2m0 10v1m0 1v1m0 12v1m0 5v1m0 3v1m0 70v1m0 17v1m0 8v1M24.5 17v1m0 5v1m0 35v1m0 27v2m0 57v2m0 30v1m0 10v1m0 10v1m0 125v1m0 38v1M25.5 1v1m0 20v1m0 125v1m0 3v1m0 37v1m0 36v1m0 53v1m0 12v1m0 5v1m0 3v2m0 1v1m0 44v1m0 1v1m0 10v1m0 29v1M26.5 0v1m0 10v1m0 30v1m0 11v1m0 10v1m0 13v1m0 37v1m0 4v1m0 4v1m0 39v1m0 25v1m0 10v1m0 46v1m0 46v1m0 32v1m0 5v1m0 12v1m0 11v1m0 1v1M27.5 1v1m0 63v2m0 26v1m0 4v1m0 28v1m0 15v1m0 68v1m0 6v1m0 30v1m0 64v1m0 26v1M28.5 11v1m0 16v1m0 9v1m0 12v1m0 15v1m0 62v2m0 4v1m0 74v1m0 34v1m0 76v1M29.5 28v1m0 24v1m0 32v1m0 13v1m0 1v2m0 7v2m0 17v1m0 17v1m0 12v1m0 63v1m0 8v1m0 18v1m0 14v1m0 74v1m0 10v1m0 21v1m0 1v1m0 14v1M30.5 16v1m0 71v1m0 11v1m0 17v1m0 10v1m0 35v1m0 32v1m0 4v1m0 40v1m0 10v1m0 6v1m0 3v1m0 1v1m0 22v1m0 14v1m0 50v1m0 5v1m0 22v2m0 1v1M31.5 34v1m0 28v1m0 8v1m0 33v1m0 17v1m0 2v1m0 30v1m0 10v1m0 5v1m0 12v1m0 78v1m0 7v1m0 19v1m0 21v2M32.5 24v1m0 15v1m0 13v1m0 1v1m0 6v1m0 83v1m0 24v1m0 3v1m0 1v1m0 30v1m0 11v1m0 10v1m0 3v1m0 24v1m0 21v1m0 17v1m0 20v1m0 5v2m0 38v1m0 14v1M33.5 10v1m0 36v1m0 3v1m0 61v1m0 85v1m0 31v1m0 21v1m0 62v1m0 11v1m0 13v1m0 27v1m0 11v1M34.5 17v1m0 3v1m0 10v2m0 3v1m0 20v1m0 19v1m0 27v2m0 30v1m0 12v1m0 14v1m0 10v1m0 5v1m0 25v1m0 10v1m0 1v1m0 15v1m0 2v1m0 30v1m0 42v1m0 8v1m0 44v2M35.5 14v1m0 4v1m0 4v1m0 8v1m0 6v2m0 2v1m0 6v1m0 24v1m0 18v1m0 1v1m0 5v1m0 17v1m0 2v1m0 20v1m0 18v1m0 26v1m0 39v1m0 1v1m0 29v1m0 1v1m0 14v1m0 3v1m0 51v1m0 7v1m0 34v1m0 2v2m0 8v1M36.5 14v1m0 27v1m0 8v1m0 45v1m0 39v1m0 16v1m0 2v1m0 1v1m0 46v1m0 3v1m0 12v1m0 29v1m0 13v1m0 14v1m0 40v1m0 55v1m0 10v1M37.5 4v1m0 90v1m0 21v1m0 20v1m0 25v1m0 26v1m0 2v1m0 1v1m0 34v1m0 11v1m0 17v1m0 9v1m0 18v1m0 17v1m0 1v1m0 11v1m0 17v1m0 29v1m0 15v1M38.5 33v1m0 20v1m0 17v1m0 7v2m0 13v1m0 10v1m0 25v1m0 56v1m0 57v1m0 12v1m0 21v1m0 8v1m0 28v1m0 8v1m0 6v1m0 25v2m0 7v1M39.5 93v1m0 1v1m0 29v1m0 16v1m0 43v1m0 5v1m0 45v1m0 13v1m0 20v1m0 32v1m0 29v1m0 43v1m0 5v1M40.5 9v1m0 5v2m0 11v1m0 28v1m0 29v1m0 30v1m0 13v1m0 1v1m0 18v1m0 19v1m0 7v1m0 5v1m0 16v1m0 14v1m0 23v1m0 33v1m0 97v1M41.5 0v2m0 13v1m0 16v1m0 14v1m0 14v1m0 13v1m0 51v1m0 7v1m0 9v1m0 23v1m0 18v1m0 6v1m0 3v1m0 14v1m0 7v1m0 32v1m0 2v1m0 14v1m0 6v1m0 24v1m0 15v1m0 9v1m0 2v1m0 17v1M42.5 10v1m0 25v1m0 99v1m0 7v1m0 6v1m0 7v1m0 3v1m0 2v1m0 75v1m0 7v1m0 2v2m0 25v1m0 10v1m0 8v1m0 39v1m0 24v1m0 7v1m0 4v1M43.5 4v2m0 14v1m0 3v2m0 28v1m0 9v1m0 24v1m0 23v1m0 24v1m0 10v1m0 48v1m0 7v1m0 22v1m0 3v1m0 14v1m0 3v1m0 61v1m0 7v1m0 1v1m0 3v1M44.5 9v1m0 10v1m0 19v1m0 18v1m0 14v1m0 40v1m0 80v1m0 57v1m0 2v1m0 16v1m0 16v1m0 29v1m0 6v1m0 20v1m0 14v1m0 5v1M45.5 6v1m0 6v2m0 31v1m0 6v1m0 17v1m0 3v1m0 38v1m0 7v1m0 20v1m0 66v1m0 18v1m0 88v1m0 7v1m0 21v1m0 33v1M46.5 30v1m0 6v1m0 11v1m0 25v1m0 4v1m0 29v1m0 31v1m0 14v1m0 1v1m0 5v1m0 20v1m0 42v1m0 23v1m0 85v1m0 18v1m0 17v1M47.5 0v1m0 4v1m0 28v1m0 25v1m0 30v1m0 48v1m0 113v1m0 10v1m0 32v1m0 3v1m0 4v1m0 23v1m0 10v1m0 26v1m0 7v1M48.5 2v1m0 4v2m0 27v1m0 36v1m0 82v1m0 4v1m0 19v1m0 5v1m0 5v2m0 2v1m0 24v1m0 19v1m0 4v1m0 12v1m0 55v1m0 28v1m0 47v1M49.5 18v1m0 37v1m0 6v1m0 24v1m0 27v1m0 31v1m0 35v1m0 32v2m0 7v1m0 65v1m0 16v1m0 7v1m0 15v1m0 7v1m0 19v1m0 10v1m0 12v1M50.5 17v1m0 4v1m0 128v1m0 13v1m0 15v1m0 2v1m0 93v1m0 21v2m0 7v1m0 7v1m0 19v1m0 27v1m0 17v2M51.5 17v1m0 49v1m0 52v1m0 3v1m0 52v1m0 76v1m0 30v1m0 101v1M52.5 13v1m0 2v1m0 35v2m0 4v1m0 30v1m0 37v1m0 24v1m0 23v1m0 19v1m0 2v1m0 1v1m0 11v1m0 22v1m0 32v1m0 11v2m0 6v1m0 53v1M53.5 62v1m0 60v1m0 3v1m0 8v1m0 14v1m0 31v1m0 54v2m0 39v1m0 17v1m0 22v1m0 1v1m0 28v1m0 5v1m0 25v1M54.5 1v1m0 5v1m0 2v2m0 5v1m0 5v1m0 27v1m0 9v1m0 29v1m0 4v1m0 5v1m0 5v1m0 13v1m0 10v1m0 22v1m0 2v1m0 4v1m0 4v1m0 4v1m0 2v1m0 1v1m0 1v1m0 7v2m0 14v1m0 4v1m0 7v1m0 7v1m0 4v1m0 2v1m0 32v1m0 29v1m0 32v1m0 17v1m0 3v1m0 10v1m0 20v1m0 6v1M55.5 10v1m0 19v1m0 26v1m0 16v1m0 18v1m0 134v1m0 51v1m0 39v2m0 12v1m0 50v1M56.5 11v1m0 16v1m0 44v1m0 31v1m0 23v1m0 56v1m0 1v1m0 20v1m0 31v1m0 11v1m0 52v1m0 26v2m0 23v1m0 6v1m0 21v1M57.5 30v1m0 27v1m0 36v1m0 39v1m0 3v2m0 26v1m0 17v1m0 48v1m0 16v1m0 27v1m0 18v1m0 6v1m0 18v1m0 6v1M58.5 31v1m0 5v1m0 14v2m0 31v1m0 28v1m0 18v1m0 76v1m0 58v1m0 24v1m0 12v1m0 11v1m0 3v1m0 5v1m0 26v1m0 26v1M59.5 0v1m0 36v1m0 47v2m0 7v1m0 17v1m0 37v1m0 1v1m0 8v1m0 1v1m0 8v1m0 20v1m0 3v1m0 17v1m0 1v1m0 7v2m0 11v1m0 6v1m0 1v1m0 39v1m0 39v1m0 49v1M60.5 1v1m0 28v1m0 40v1m0 36v1m0 2v1m0 40v1m0 11v1m0 18v1m0 24v1m0 55v1m0 7v1m0 1v1m0 11v1m0 25v1m0 10v1m0 34v1m0 2v1m0 14v1m0 1v1m0 2v1m0 11v1M61.5 77v1m0 94v1m0 2v1m0 67v1m0 3v1m0 28v1m0 5v1m0 50v1m0 2v1m0 8v1m0 6v1M62.5 11v1m0 6v1m0 17v1m0 5v1m0 12v1m0 13v1m0 12v1m0 17v1m0 32v1m0 16v1m0 8v1m0 3v1m0 4v1m0 17v1m0 11v1m0 31v1m0 15v1m0 5v1m0 3v1m0 37v1m0 2v1m0 13v1m0 2v1m0 6v1m0 16v1m0 10v1m0 29v1M63.5 18v1m0 5v1m0 8v1m0 23v1m0 15v1m0 31v1m0 28v1m0 6v1m0 3v1m0 11v1m0 4v1m0 3v1m0 14v1m0 10v1m0 6v1m0 2v1m0 74v1m0 8v1m0 6v1m0 88v1M64.5 29v1m0 13v1m0 13v1m0 12v1m0 20v1m0 22v1m0 4v1m0 12v1m0 14v1m0 20v1m0 59v1m0 19v1m0 26v1m0 6v1m0 51v1m0 6v2m0 4v1m0 18v1m0 19v1M65.5 7v1m0 34v1m0 60v1m0 36v1m0 2v1m0 24v1m0 93v1m0 12v1m0 12v1m0 1v1m0 23v1m0 14v1m0 5v1m0 17v1m0 2v1m0 8v1m0 12v1m0 8v1M66.5 39v1m0 4v1m0 67v1m0 1v1m0 5v1m0 61v1m0 4v1m0 11v1m0 31v1m0 1v1m0 11v1m0 32v2m0 1v1m0 21v1m0 13v1m0 2v2m0 67v1M67.5 20v1m0 8v1m0 18v1m0 8v1m0 14v1m0 12v1m0 29v1m0 5v1m0 24v1m0 8v1m0 36v1m0 22v1m0 4v1m0 1v1m0 9v1m0 5v1m0 15v1m0 7v1m0 34v1m0 21v1m0 5v1m0 8v1m0 15v1m0 16v1M68.5 16v1m0 6v1m0 19v1m0 4v1m0 7v1m0 43v2m0 1v1m0 35v1m0 16v1m0 8v1m0 31v1m0 35v1m0 3v1m0 38v1m0 34v1m0 13v1m0 29v1m0 7v1m0 13v1M69.5 8v1m0 20v1m0 10v1m0 4v1m0 19v1m0 15v1m0 122v1m0 25v2m0 12v1m0 1v1m0 1v1m0 22v1m0 22v1m0 32v1m0 29v1m0 7v1M70.5 21v1m0 18v1m0 26v1m0 2v1m0 1v1m0 66v1m0 26v1m0 8v1m0 55v1m0 3v1m0 4v1m0 11v1m0 13v1m0 1v1m0 16v1m0 8v1m0 5v1m0 16v1m0 16v1M71.5 51v1m0 2v1m0 9v1m0 28v1m0 6v2m0 83v1m0 3v1m0 36v1m0 1v1m0 39v1m0 3v1m0 37v1m0 1v1m0 8v1m0 33v1m0 9v1M72.5 6v1m0 1v1m0 32v1m0 8v1m0 17v1m0 37v1m0 26v1m0 10v1m0 11v1m0 10v1m0 9v1m0 20v1m0 6v1m0 9v1m0 54v1m0 9v1m0 12v1m0 5v1m0 1v1m0 17v1m0 6v1m0 18v1m0 8v1m0 9v1m0 17v1M73.5 3v1m0 2v1m0 33v2m0 23v1m0 6v1m0 47v1m0 19v1m0 27v1m0 31v1m0 44v2m0 10v1m0 14v1m0 15v2m0 1v1m0 3v1m0 1v1m0 16v2m0 11v1M74.5 6v1m0 9v1m0 148v1m0 21v1m0 31v1m0 7v1m0 18v2m0 6v1m0 64v1m0 8v1M75.5 2v1m0 26v1m0 25v1m0 8v1m0 31v1m0 35v1m0 34v1m0 34v1m0 32v1m0 5v1m0 14v1m0 24v1m0 30v1m0 60v1M76.5 70v1m0 2v1m0 50v1m0 16v1m0 88v1m0 20v1m0 9v1m0 16v1m0 2v1m0 10v1m0 39v1m0 4v2M77.5 24v1m0 1v1m0 44v1m0 4v1m0 121v1m0 17v1m0 32v1m0 54v1m0 28v1m0 16v1m0 22v1M78.5 39v1m0 14v1m0 24v1m0 91v1m0 19v1m0 15v1m0 31v1m0 31v1m0 40v1m0 39v1m0 1v1m0 22v2M79.5 34v1m0 10v1m0 1v1m0 3v1m0 5v1m0 8v1m0 18v1m0 26v1m0 12v1m0 6v2m0 17v1m0 68v2m0 25v1m0 37v1m0 2v1m0 2v1m0 12v1m0 4v2m0 40v2m0 10v1m0 2v1m0 12v1m0 10v1M80.5 2v1m0 17v1m0 54v1m0 54v1m0 7v2m0 32v1m0 5v1m0 6v1m0 4v1m0 3v1m0 9v1m0 2v1m0 16v1m0 52v1m0 8v1m0 19v1m0 5v1m0 3v1m0 1v2m0 2v1m0 11v1m0 7v1m0 9v1m0 3v1m0 5v1m0 2v2m0 1v2m0 8v1m0 7v2m0 1v1M81.5 239v1m0 42v1m0 1v1m0 16v1m0 14v1m0 52v1m0 15v1m0 1v1M82.5 27v1m0 16v1m0 32v1m0 52v1m0 13v1m0 51v1m0 46v1m0 7v1M83.5 169v1m0 16v1m0 1v1m0 15v1m0 31v1m0 5v1m0 37v1m0 28v1m0 27v1m0 21v1m0 4v1m0 29v1M84.5 10v1m0 4v1m0 23v1m0 31v1m0 23v1m0 1v1m0 63v1m0 24v1m0 2v1m0 43v1m0 18v3m0 1v1m0 7v1m0 49v1m0 2v1m0 15v1m0 9v1m0 9v1m0 17v1m0 11v1M85.5 29v1m0 1v1m0 6v1m0 8v1m0 7v1m0 20v1m0 75v1m0 66v1m0 16v1m0 38v1m0 1v1m0 3v1m0 1v1m0 36v1M86.5 17v1m0 17v1m0 8v1m0 13v1m0 46v1m0 16v1m0 14v1m0 7v1m0 27v2m0 24v1m0 7v1m0 47v1m0 22v1m0 8v1m0 54v1M87.5 12v1m0 85v3m0 118v1m0 53v1m0 16v1m0 58v1m0 17v1m0 19v1M88.5 5v1m0 10v1m0 16v1m0 4v1m0 47v1m0 99v1m0 16v1m0 24v1m0 1v1m0 2v1m0 6v1m0 34v1m0 3v1m0 59v1m0 1v1m0 50v1M89.5 36v1m0 23v1m0 46v1m0 13v1m0 1v1m0 12v1m0 20v1m0 26v1m0 38v1m0 56v1m0 16v1m0 45v1m0 12v1M90.5 34v1m0 25v1m0 1v1m0 33v1m0 51v1m0 4v1m0 5v1m0 72v1m0 9v1m0 68v1m0 13v1m0 13v1m0 3v1m0 29v1m0 10v1m0 5v1M91.5 2v1m0 17v1m0 41v1m0 19v1m0 2v1m0 31v1m0 20v1m0 18v1m0 16v1m0 8v1m0 13v1m0 67v1m0 21v1m0 24v1m0 25v1M92.5 17v1m0 107v1m0 14v1m0 43v1m0 64v2m0 2v1m0 18v1m0 8v1m0 9v1m0 54v1m0 4v1m0 32v1M93.5 31v1m0 38v1m0 60v1m0 3v1m0 37v1m0 16v1m0 24v1m0 91v1M94.5 11v1m0 14v2m0 8v1m0 4v1m0 16v1m0 29v1m0 53v1m0 8v1m0 6v1m0 39v1m0 6v1m0 10v1m0 27v1m0 1v1m0 7v1m0 7v1m0 42v1m0 14v1m0 2v1m0 44v1M95.5 11v1m0 8v1m0 23v1m0 3v1m0 9v1m0 14v1m0 177v1m0 35v1m0 25v1m0 5v1m0 26v1m0 44v1M96.5 18v1m0 37v1m0 29v1m0 28v1m0 5v1m0 35v1m0 27v1m0 18v1m0 110v1M97.5 13v1m0 34v1m0 36v2m0 32v1m0 3v1m0 8v1m0 17v1m0 1v1m0 16v1m0 6v1m0 15v1m0 9v1m0 5v1m0 1v1m0 2v1m0 37v1m0 78v1m0 28v1m0 17v1M98.5 65v1m0 106v1m0 13v1m0 55v1m0 21v1m0 10v1m0 70v1M99.5 1v1m0 35v1m0 45v1m0 5v1m0 43v1m0 26v1m0 85v1m0 5v1m0 39v1m0 33v1m0 42v1m0 2v1m0 11v1M100.5 27v1m0 35v1m0 52v1m0 20v1m0 2v1m0 23v1m0 1v1m0 17v1m0 17v1m0 7v1m0 12v1m0 2v1m0 20v1m0 4v1m0 27v1m0 38v1m0 31v1m0 14v1M101.5 24v1m0 31v1m0 29v1m0 7v1m0 14v1m0 18v1m0 22v1m0 1v1m0 2v1m0 36v1m0 54v1m0 25v1m0 3v1m0 10v1M102.5 22v1m0 23v1m0 18v1m0 37v1m0 20v1m0 48v1m0 9v1m0 18v1m0 12v1m0 25v1m0 6v1m0 8v1m0 38v1m0 63v1M103.5 13v1m0 33v1m0 19v1m0 23v1m0 36v1m0 30v1m0 4v1m0 70v1m0 11v1m0 8v1m0 29v1m0 13v1m0 20v1m0 1v1m0 22v1m0 28v1M104.5 5v1m0 15v1m0 17v1m0 36v1m0 3v1m0 43v1m0 25v2m0 217v2m0 17v1M105.5 12v1m0 18v1m0 4v1m0 8v1m0 3v1m0 59v1m0 25v1m0 28v1m0 10v1m0 71v1m0 28v1m0 25v1M106.5 13v1m0 8v1m0 11v1m0 59v1m0 5v1m0 16v1m0 17v1m0 28v1m0 4v1m0 6v1m0 22v1m0 11v1m0 2v1m0 4v1m0 19v2m0 23v1m0 50v3m0 5v1m0 5v1m0 11v1m0 2v1m0 11v1m0 23v1m0 8v1M108.5 13v1m0 26v1m0 63v1m0 13v1m0 27v1m0 115v1m0 43v1m0 58v1m0 2v1m0 1v2M110.5 32v1m0 12v1m0 23v1m0 50v1m0 103v1m0 38v1m0 3v1m0 16v1m0 11v1m0 70v1M112.5 52v1m0 50v1m0 40v1m0 9v1m0 1v1m0 45v1m0 56v1m0 25v1m0 21v1m0 18v1m0 32v1m0 3v2m0 8v1M114.5 26v1m0 40v1m0 87v1m0 44v1m0 81v1m0 6v1m0 12v1M116.5 23v1m0 45v1m0 29v1m0 19v1m0 3v1m0 31v1m0 12v1m0 90v1m0 44v1m0 32v1m0 5v1m0 9v1m0 19v1M118.5 21v1m0 67v1m0 9v1m0 2v1m0 18v1m0 2v1m0 9v1m0 48v1m0 34v1m0 4v1m0 4v1m0 6v1m0 21v1m0 11v1m0 17v1m0 4v1M120.5 45v1m0 121v1m0 2v1m0 46v1m0 12v1m0 22v1m0 15v1m0 41v1m0 68v1m0 6v1M125.5 35v1m0 115v1m0 17v1m0 8v1m0 49v1m0 88v1m0 61v1M130.5 1v1m0 45v1m0 53v1m0 53v1m0 48v1m0 29v1m0 11v1m0 16v1m0 24v1m0 9v1m0 1v1m0 10v1m0 32v1M135.5 27v1m0 58v1m0 4v1m0 23v1m0 3v1m0 11v1m0 53v1m0 142v1m0 14v1m0 5v1m0 8v1m0 25v1M140.5 4v1m0 19v1m0 20v1m0 45v1m0 101v1m0 64v1m0 62v1m0 32v1M145.5 10v1m0 11v1m0 42v1m0 66v1m0 26v1m0 2v1m0 58v1m0 58v1M150.5 58v1m0 23v1m0 28v1m0 3v1m0 27v1m0 10v1m0 45v1m0 7v1m0 11v1m0 78v1m0 90v1"/>
<path stroke="#482979" d="M0.5 6v1m0 26v1m0 9v1m0 29v1m0 59v1m0 11v1m0 15v1m0 13v1m0 75v1m0 83v1m0 48v2M1.5 2v1m0 1v1m0 5v1m0 25v1m0 49v1m0 8v1m0 127v1m0 1v1m0 34v1m0 80v1m0 18v1m0 3v1m0 5v1M2.5 39v1m0 52v1m0 3v1m0 166v1m0 97v1m0 17v2M3.5 65v1m0 4v1m0 3v1m0 7v1m0 15v1m0 39v1m0 19v1m0 16v2m0 20v1m0 28v1m0 4v1m0 3v1m0 5v1m0 7v1m0 10v1m0 18v1m0 3v1m0 5v1m0 29v1m0 4v1m0 9v1m0 4v1m0 46v1m0 8v1M4.5 23v1m0 23v1m0 37v1m0 72v1m0 19v1m0 38v1m0 43v1m0 2v1m0 26v1m0 41v2m0 53v1m0 2v1M5.5 18v1m0 7v1m0 14v1m0 76v1m0 14v1m0 23v1m0 28v1m0 26v2m0 3v1m0 9v1m0 72v1m0 30v1M6.5 14v1m0 49v1m0 74v1m0 14v1m0 44v1m0 69v1m0 55v1m0 21v1m0 46v1M7.5 10v1m0 30v1m0 6v2m0 36v1m0 3v1m0 82v1m0 20v1m0 27v1m0 39v1m0 117v1m0 4v2M8.5 19v1m0 28v1m0 6v1m0 25v1m0 62v1m0 5v1m0 23v1m0 16v1m0 19v1m0 35v1M9.5 0v1m0 1v1m0 22v1m0 23v2m0 6v1m0 79v1m0 2v1m0 66v1m0 50v1m0 30v1m0 16v1m0 22v1M10.5 25v1m0 7v1m0 8v1m0 25v1m0 30v1m0 22v1m0 127v1m0 63v1m0 37v1m0 8v1m0 15v1M11.5 86v1m0 32v1m0 10v1m0 72v1m0 2v1m0 4v1m0 68v1m0 20v1m0 3v1m0 16v1m0 47v1m0 3v1M12.5 0v1m0 85v1m0 4v1m0 23v1m0 32v1m0 13v1m0 1v1m0 48v1m0 62v1m0 10v1m0 2v1m0 21v1m0 8v1m0 16v1m0 38v1m0 13v1M13.5 4v2m0 5v1m0 21v1m0 42v1m0 37v1m0 1v1m0 6v1m0 68v1m0 7v1m0 4v1m0 49v1m0 100v1m0 19v1M14.5 39v1m0 14v1m0 123v1m0 13v1m0 6v1m0 28v1m0 13v1m0 5v1m0 9v1m0 34v1m0 5v1m0 17v1m0 7v1m0 18v1m0 7v1m0 25v1M15.5 3v1m0 120v1m0 43v1m0 2v1m0 13v1m0 40v1m0 20v1m0 5v1m0 44v1m0 16v1m0 12v1m0 10v1m0 6v1m0 21v1m0 2v1M16.5 0v1m0 6v1m0 62v1m0 99v1m0 158v1m0 23v1m0 10v1m0 3v1M17.5 57v1m0 16v1m0 27v1m0 1v1m0 38v1m0 20v2m0 1v1m0 19v1m0 34v1m0 10v1m0 19v1m0 4v1m0 47v1m0 16v1m0 19v1m0 23v1m0 4v1m0 3v1M18.5 88v2m0 2v1m0 10v1m0 24v1m0 48v1m0 92v1m0 27v2m0 6v1m0 25v1m0 7v1m0 8v1m0 17v1M19.5 43v1m0 25v1m0 5v1m0 4v1m0 56v1m0 2v1m0 7v1m0 22v1m0 20v1m0 6v1m0 1v1m0 2v2m0 5v1m0 5v1m0 19v1m0 9v1m0 41v1m0 11v1m0 72v1M20.5 53v1m0 8v1m0 15v1m0 34v1m0 3v1m0 5v1m0 81v1m0 5v1m0 28v1m0 2v1m0 13v1m0 16v1m0 10v1m0 69v1m0 9v1M21.5 84v1m0 23v1m0 6v1m0 53v1m0 23v1m0 75v1m0 13v1m0 3v1m0 8v1m0 17v1m0 13v1m0 19v1m0 8v1m0 6v1m0 20v1M22.5 3v1m0 9v1m0 43v1m0 71v1m0 30v1m0 8v1m0 27v1m0 10v1m0 36v1m0 1v1m0 34v1m0 34v1m0 10v1m0 35v1m0 21v1M23.5 34v1m0 1v1m0 37v1m0 45v1m0 5v1m0 2v1m0 38v1m0 1v1m0 33v1m0 4v1m0 3v1m0 3v1m0 18v1m0 12v1m0 54v1m0 10v1m0 14v1m0 49v1m0 5v1m0 3v1M24.5 28v1m0 46v1m0 34v1m0 50v1m0 19v1m0 44v1m0 32v1m0 54v1m0 51v1M25.5 13v1m0 18v1m0 2v1m0 33v1m0 66v1m0 16v1m0 8v1m0 42v1m0 47v1m0 22v1m0 41v1m0 4v1m0 19v1m0 19v1M26.5 7v1m0 14v1m0 14v1m0 61v1m0 5v1m0 33v1m0 17v1m0 7v1m0 50v1m0 1v1m0 46v1m0 5v1m0 5v1m0 9v1m0 24v1m0 54v1M27.5 28v1m0 5v1m0 49v1m0 20v1m0 27v1m0 131v1m0 67v1m0 47v1m0 1v1M28.5 61v1m0 94v1m0 4v1m0 5v1m0 39v1m0 57v1m0 3v1m0 64v1m0 31v1M29.5 4v1m0 76v1m0 3v1m0 10v1m0 13v1m0 14v1m0 10v1m0 5v1m0 31v2m0 45v1m0 63v1m0 24v1m0 48v1m0 13v1m0 3v1m0 12v1M30.5 28v1m0 3v1m0 38v1m0 14v2m0 81v1m0 16v1m0 15v1m0 14v1m0 3v1m0 13v1m0 9v1m0 43v1m0 32v1m0 1v1m0 18v1m0 44v1M31.5 23v1m0 30v1m0 52v1m0 7v1m0 87v1m0 7v1m0 11v1m0 120v1m0 26v1m0 6v1m0 7v1M32.5 0v1m0 70v1m0 2v1m0 55v1m0 93v1m0 6v1m0 70v1m0 22v1m0 24v1m0 34v1m0 8v1M33.5 21v1m0 2v1m0 1v1m0 21v1m0 72v1m0 33v1m0 22v1m0 19v1m0 22v1m0 21v1m0 8v1m0 18v1m0 1v1m0 13v1m0 46v1M34.5 8v1m0 33v1m0 29v1m0 28v1m0 31v1m0 26v2m0 13v1m0 8v1m0 11v1m0 20v1m0 118v1m0 16v1m0 7v1m0 24v1M35.5 60v1m0 12v1m0 12v1m0 54v1m0 11v1m0 13v1m0 123v1m0 43v1m0 15v1M36.5 13v1m0 21v1m0 7v1m0 37v1m0 30v1m0 21v1m0 4v1m0 9v1m0 41v1m0 32v1m0 12v1m0 24v1m0 15v1m0 1v1m0 104v1M37.5 54v1m0 13v1m0 71v1m0 21v1m0 4v1m0 11v1m0 12v1m0 114v1m0 12v1M38.5 7v1m0 13v1m0 15v1m0 2v1m0 42v1m0 2v1m0 15v1m0 27v1m0 18v1m0 11v1m0 9v1m0 39v1m0 1v1m0 9v1m0 8v1m0 34v1m0 33v1m0 31v1m0 34v1m0 4v1m0 4v1m0 6v1M39.5 9v1m0 6v1m0 44v1m0 95v1m0 229v1M40.5 8v1m0 10v1m0 18v1m0 25v1m0 30v1m0 3v1m0 12v1m0 52v1m0 72v1m0 40v1m0 3v1m0 60v1M41.5 36v1m0 5v2m0 15v1m0 7v1m0 1v1m0 17v1m0 18v1m0 14v1m0 3v1m0 31v1m0 28v1m0 40v1m0 26v1m0 23v1m0 23v1m0 8v1m0 24v1m0 12v1m0 41v1M42.5 15v1m0 85v1m0 35v1m0 32v1m0 35v1m0 33v1m0 45v1m0 69v1m0 1v1M43.5 11v1m0 4v1m0 23v1m0 15v1m0 1v1m0 25v1m0 2v1m0 28v1m0 4v1m0 65v1m0 8v1m0 15v1m0 5v1m0 4v1m0 3v1m0 9v1m0 7v1m0 29v1m0 26v1m0 42v1M44.5 106v1m0 19v1m0 4v1m0 9v1m0 28v1m0 4v1m0 95v1m0 37v1m0 1v1m0 14v1m0 8v1m0 42v2M45.5 4v1m0 20v1m0 11v1m0 67v1m0 36v1m0 78v2m0 26v1m0 3v1m0 20v1m0 71v1m0 15v1m0 5v1m0 23v2M46.5 2v1m0 35v1m0 85v2m0 15v1m0 11v1m0 29v1m0 56v1m0 5v1m0 16v1m0 58v2m0 27v1m0 1v1m0 20v1m0 10v1m0 7v1M47.5 19v1m0 33v1m0 75v1m0 34v1m0 52v1m0 18v1m0 30v1m0 8v1m0 9v1m0 66v1m0 5v1M48.5 1v1m0 51v1m0 36v1m0 85v1m0 1v1m0 91v1m0 6v1m0 47v1m0 8v1m0 16v1m0 24v1M49.5 4v1m0 5v1m0 37v1m0 3v1m0 1v1m0 19v1m0 100v1m0 4v1m0 2v1m0 6v1m0 29v1m0 28v1m0 26v1m0 23v1m0 4v2m0 14v1m0 56v1m0 11v1M50.5 78v1m0 25v1m0 1v1m0 41v1m0 10v1m0 40v1m0 20v1m0 16v1m0 33v1m0 13v1m0 7v1m0 32v1m0 12v1M51.5 2v1m0 3v1m0 25v1m0 49v1m0 105v1m0 119v1m0 4v1m0 13v1m0 17v1M52.5 3v1m0 21v1m0 44v1m0 69v1m0 48v1m0 20v1M53.5 43v1m0 93v1m0 44v1m0 27v1m0 131v1m0 33v1M54.5 2v1m0 6v1m0 2v1m0 3v1m0 5v1m0 7v1m0 3v1m0 1v1m0 1v1m0 10v1m0 25v1m0 6v1m0 10v1m0 40v1m0 9v2m0 30v1m0 16v1m0 6v1m0 19v1m0 8v2m0 20v1m0 8v1m0 8v1m0 3v1m0 1v1m0 18v1m0 11v1m0 6v1m0 9v1m0 59v1M55.5 16v1m0 41v1m0 138v1m0 134v2m0 31v1m0 8v1M56.5 30v1m0 5v1m0 56v1m0 25v1m0 124v1m0 78v1m0 61v1M57.5 2v1m0 38v1m0 1v1m0 2v1m0 4v1m0 117v1m0 6v1m0 43v1m0 3v1m0 33v1m0 27v1m0 10v1m0 6v1m0 15v1m0 1v1m0 27v1M58.5 5v1m0 78v1m0 6v1m0 17v1m0 1v1m0 39v1m0 23v1m0 6v1m0 14v1m0 35v1m0 12v1m0 2v1m0 48v1m0 4v1m0 36v1M59.5 11v1m0 15v1m0 12v1m0 41v1m0 6v1m0 46v1m0 8v1m0 3v1m0 12v1m0 18v1m0 48v1m0 2v1m0 8v1m0 25v1m0 26v1m0 26v1m0 6v1m0 4v1m0 12v1m0 23v1m0 12v1M60.5 20v1m0 51v1m0 5v1m0 4v1m0 5v2m0 3v1m0 17v1m0 49v1m0 72v1m0 70v1m0 3v1m0 53v1m0 26v1M61.5 45v1m0 70v1m0 17v1m0 31v1m0 7v1m0 51v1m0 29v1m0 59v1M62.5 16v1m0 14v1m0 2v1m0 79v1m0 32v1m0 5v1m0 94v1m0 52v1m0 35v1m0 15v1m0 2v1m0 10v1m0 17v1M63.5 4v1m0 42v1m0 174v1m0 3v1m0 44v1m0 72v1m0 16v1m0 10v1m0 5v1M64.5 65v1m0 19v1m0 14v1m0 88v1m0 12v1m0 54v1m0 7v1m0 2v1m0 11v1m0 15v1m0 2v1m0 80v1m0 9v1M65.5 4v1m0 12v1m0 8v1m0 37v1m0 14v1m0 3v1m0 8v2m0 45v1m0 23v1m0 23v1m0 7v1m0 5v1m0 6v1m0 77v1m0 13v2m0 1v1m0 7v1m0 29v1m0 15v1M66.5 38v1m0 18v1m0 1v1m0 35v1m0 112v1m0 16v1m0 15v1m0 102v1m0 45v1M67.5 8v1m0 130v1m0 22v1m0 50v1m0 12v1m0 38v1m0 74v1m0 4v1m0 35v1M68.5 14v1m0 19v1m0 45v1m0 3v2m0 3v1m0 30v1m0 87v1m0 92v1m0 70v1M69.5 11v1m0 20v1m0 8v2m0 48v2m0 42v1m0 20v1m0 127v1m0 7v1m0 3v1m0 26v1m0 25v1M70.5 24v1m0 16v1m0 32v1m0 33v1m0 2v1m0 52v1m0 29v1m0 8v1m0 2v1m0 19v1m0 47v1m0 8v1m0 17v1m0 46v1m0 24v1m0 5v1M71.5 91v1m0 18v1m0 21v1m0 26v1m0 109v1M72.5 9v1m0 11v1m0 60v1m0 121v1m0 1v1m0 2v1m0 19v1m0 26v1m0 128v1M73.5 19v1m0 54v1m0 5v1m0 12v1m0 32v1m0 6v1m0 5v1m0 8v1m0 3v1m0 32v1m0 24v1m0 18v1m0 21v1m0 17v1m0 14v1m0 62v2m0 3v1M74.5 32v1m0 22v1m0 13v1m0 1v1m0 77v1m0 20v1m0 13v1m0 72v1m0 53v1m0 9v1m0 2v1m0 8v1M75.5 86v1m0 52v1m0 7v1m0 39v1M76.5 24v1m0 23v1m0 85v1m0 60v1m0 36v1m0 79v1m0 10v1m0 61v1M77.5 78v1m0 46v1m0 63v1m0 142v1m0 3v1M78.5 52v1m0 42v1m0 193v1m0 2v1m0 20v1m0 65v1m0 2v1m0 6v1M79.5 11v1m0 16v1m0 4v1m0 4v1m0 76v2m0 14v1m0 3v1m0 19v1m0 12v1m0 12v1m0 13v1m0 44v1m0 4v1m0 3v1m0 75v1m0 3v1m0 27v1m0 12v1M80.5 49v1m0 17v1m0 8v1m0 51v1m0 2v1m0 11v1m0 7v1m0 4v1m0 23v1m0 22v1m0 17v1m0 1v1m0 1v1m0 38v2m0 7v1m0 2v1m0 19v1m0 4v2m0 4v2m0 12v1m0 8v1m0 2v1m0 2v2m0 5v1m0 4v1m0 15v1m0 9v1m0 13v1M81.5 43v1m0 45v1m0 181v1m0 6v1m0 19v1m0 30v1M82.5 13v1m0 54v1m0 13v1m0 42v1m0 71v1m0 7v1M83.5 133v1m0 7v1m0 41v1m0 14v1m0 6v1m0 60v1m0 99v1m0 3v1m0 17v1M84.5 61v2m0 84v1m0 32v1m0 65v1m0 46v1m0 2v1m0 6v1m0 17v1m0 1v1m0 10v1m0 10v1m0 4v1M85.5 28v1m0 142v1m0 18v1m0 154v1m0 27v1m0 1v1m0 4v1M86.5 11v1m0 7v1m0 106v1m0 60v1m0 46v1m0 37v1m0 3v1m0 15v1m0 64v1m0 35v1M87.5 153v1m0 7v1m0 17v1m0 11v1m0 141v1m0 25v1M88.5 88v1m0 129v1m0 24v1m0 67v1m0 45v2m0 5v1M89.5 31v1m0 11v1m0 74v1m0 40v1m0 6v1m0 182v1m0 18v1M90.5 37v1m0 18v2m0 85v1m0 18v1m0 17v1m0 91v1m0 8v1m0 3v1m0 3v1m0 2v1m0 39v1m0 28v2m0 13v1m0 5v1M91.5 33v1m0 35v1m0 21v1m0 13v1m0 53v1m0 72v1m0 8v1m0 16v1m0 52v1m0 29v1m0 30v1M92.5 44v1m0 8v1m0 50v1m0 89v1m0 2v1m0 84v1m0 6v1m0 49v1M93.5 3v1m0 32v1m0 49v1m0 28v1m0 25v1m0 228v1M94.5 19v1m0 92v1m0 24v1m0 1v1m0 13v1m0 57v1m0 57v1m0 4v1m0 8v1m0 4v1m0 18v1m0 27v1m0 10v1m0 1v1m0 16v1m0 13v1M95.5 47v1M96.5 66v1m0 77v1m0 4v1m0 72v1M97.5 0v1m0 22v1m0 32v1m0 17v1m0 3v1m0 17v1m0 33v1m0 8v1m0 11v1m0 13v1m0 14v1m0 14v1m0 111v1m0 10v1M98.5 31v1m0 340v1M99.5 21v1m0 6v1m0 7v1m0 87v1m0 48v1m0 11v1m0 2v1m0 16v1m0 87v1m0 11v1m0 58v1M100.5 43v1m0 28v1m0 21v1m0 98v1m0 34v1m0 22v1m0 52v1m0 50v1m0 13v1M101.5 9v1m0 71v1m0 2v1m0 121v1m0 106v1m0 76v2M102.5 55v1m0 36v1m0 47v1m0 146v1m0 93v1M103.5 64v1m0 17v2m0 48v2m0 23v1m0 56v1m0 57v1m0 9v1m0 15v1m0 49v1m0 12v1M104.5 101v1m0 11v1m0 46v1m0 9v1m0 6v1m0 28v1m0 50v1m0 13v1m0 57v1m0 56v1M105.5 93v1m0 49v1m0 32v1m0 4v1m0 20v1m0 25v1m0 30v1m0 14v1m0 12v1m0 3v1m0 14v1m0 8v1m0 63v1M106.5 7v1m0 49v1m0 22v1m0 4v1m0 16v1m0 24v1m0 12v1m0 16v1m0 10v1m0 14v1m0 4v1m0 21v1m0 11v1m0 19v1m0 20v1m0 3v1m0 23v1m0 13v1m0 22v1m0 19v1m0 18v1m0 9v1m0 3v1M108.5 196v1m0 86v1m0 24v1m0 10v1m0 34v1m0 31v1M110.5 35v1m0 66v1m0 9v1m0 40v1m0 47v1m0 29v1m0 32v1m0 76v1M112.5 10v1m0 65v1m0 47v1m0 20v1m0 9v1m0 45v1m0 18v1m0 78v1m0 42v1M114.5 7v1m0 1v1m0 18v1m0 93v1m0 70v1m0 65v1m0 53v1m0 52v1m0 22v1M116.5 1v1m0 49v1m0 37v1m0 24v1m0 30v1m0 25v1m0 14v2m0 18v1m0 22v1m0 37v1m0 27v1m0 38v1M118.5 60v1m0 35v1m0 20v1m0 5v1m0 16v1m0 35v1m0 16v1m0 22v1m0 32v1m0 90v1m0 34v1m0 12v1M120.5 5v1m0 31v1m0 145v1m0 67v1m0 20v1m0 85v1m0 16v1M125.5 14v1m0 27v1m0 75v1m0 61v1m0 41v1m0 26v1m0 109v1M130.5 25v1m0 4v1m0 49v1m0 39v1m0 58v1m0 8v1m0 116v1m0 49v1m0 1v1m0 5v1m0 17v1M135.5 5v1m0 3v1m0 45v1m0 18v1m0 131v1m0 73v1m0 100v1m0 1v1M140.5 81v1m0 16v2m0 56v1m0 59v1m0 25v1m0 45v1m0 71v1m0 6v1m0 19v1M145.5 85v1m0 92v1m0 19v1m0 183v1M150.5 130v1m0 53v1m0 16v1m0 81v1m0 8v1m0 57v1m0 5v1m0 1v1"/>
<path stroke="#472f7d" d="M0.5 57v1m0 20v1m0 55v1m0 63v1m0 5v1m0 67v1m0 13v1m0 3v1m0 8v1m0 4v1m0 16v1m0 16v1m0 7v1m0 36v1M1.5 173v2m0 36v1m0 87v1m0 83v1M2.5 0v1m0 65v1m0 78v2m0 43v1m0 28v1m0 7v1m0 26v1m0 71v1m0 54v1M3.5 103v1m0 28v1m0 39v1m0 13v1m0 56v1m0 24v1m0 12v1m0 67v1M4.5 116v1m0 16v1m0 40v1m0 58v1m0 15v1m0 47v1m0 53v1m0 5v1m0 29v1M5.5 13v1m0 32v1m0 17v1m0 38v1m0 18v1m0 175v1m0 37v1m0 51v1m0 4v1M6.5 12v1m0 46v1m0 25v1m0 103v1m0 29v1m0 51v1m0 59v1M7.5 7v1m0 10v1m0 6v1m0 281v1m0 18v1m0 8v1m0 24v1m0 6v1M8.5 157v1m0 9v1m0 94v1m0 104v1M9.5 8v1m0 34v1m0 10v1m0 43v1m0 36v1m0 14v1m0 66v1m0 8v1m0 1v1M10.5 32v1m0 21v1m0 4v1m0 53v1m0 76v1m0 177v1m0 5v1M11.5 21v1m0 10v1m0 12v1m0 101v1m0 17v1m0 22v1m0 13v1m0 100v1m0 15v1m0 1v1m0 16v1m0 4v1m0 40v1M12.5 42v1m0 33v1m0 88v1m0 4v1m0 18v1m0 4v1m0 25v1m0 1v1m0 5v1m0 8v1m0 64v1m0 24v1m0 27v1m0 38v1M13.5 83v1m0 16v1m0 31v1m0 78v1m0 24v1M14.5 3v1m0 20v1m0 2v1m0 45v1m0 2v1m0 1v1m0 29v1m0 64v1m0 37v1m0 27v1m0 41v1m0 31v1m0 20v1m0 36v1M15.5 45v2m0 99v1m0 58v1m0 27v1m0 85v1m0 22v1m0 26v1M16.5 71v1m0 8v1m0 20v1m0 58v1m0 22v1m0 3v1m0 52v1m0 55v1M17.5 1v1m0 25v1m0 17v1m0 19v1m0 126v1M18.5 1v1m0 17v1m0 49v1m0 134v1m0 60v1m0 35v1m0 34v1m0 2v1m0 26v1m0 9v1m0 10v1M19.5 45v1m0 52v1m0 9v1m0 32v1m0 4v1m0 93v1m0 12v1m0 13v1m0 6v1m0 5v1m0 5v1m0 39v1m0 32v1M20.5 30v1m0 36v1m0 29v1m0 4v1m0 22v2m0 2v1m0 126v1m0 11v1m0 1v1M21.5 11v1m0 47v2m0 1v1m0 74v1m0 72v1m0 121v1M22.5 16v1m0 5v1m0 4v1m0 125v1m0 96v1m0 30v1m0 11v1m0 24v1m0 47v1m0 14v1M23.5 3v1m0 27v1m0 3v1m0 6v1m0 19v1m0 37v1m0 10v1m0 41v1m0 69v1m0 102v1m0 8v1m0 15v1m0 18v1M24.5 48v2m0 12v1m0 93v1m0 77v1m0 59v1m0 64v1M25.5 7v1m0 7v1m0 4v1m0 7v1m0 38v1m0 7v1m0 4v1m0 31v1m0 45v1m0 14v1m0 6v1m0 1v2m0 1v1m0 20v1m0 4v1m0 5v1m0 25v1m0 20v1m0 34v1m0 61v1m0 25v1m0 5v1M26.5 19v1m0 4v1m0 39v1m0 58v1m0 65v1m0 38v1m0 60v1m0 5v1m0 5v1m0 13v1m0 61v1M27.5 4v1m0 32v1m0 157v1m0 45v1m0 50v1m0 42v1M28.5 66v1m0 108v1m0 119v1m0 80v1M29.5 13v1m0 11v1m0 1v1m0 4v1m0 8v1m0 117v1m0 29v1m0 13v1m0 28v1m0 7v1m0 3v1m0 46v1m0 31v1m0 64v1M30.5 1v1m0 19v1m0 40v1m0 6v1m0 11v1m0 10v1m0 33v1m0 33v1m0 19v1m0 8v1m0 6v1m0 25v1m0 56v1m0 47v1m0 38v1M31.5 44v1m0 7v1m0 9v1m0 88v1m0 1v1m0 26v1m0 19v1m0 23v1M32.5 93v1m0 68v1m0 11v1m0 42v1m0 9v1m0 108v1m0 3v1M33.5 63v1m0 81v2m0 40v1m0 2v1m0 98v1m0 88v1M34.5 18v1m0 103v1m0 79v1m0 119v1m0 26v1M35.5 15v1m0 26v1m0 46v1m0 1v1m0 38v1m0 32v1m0 17v2m0 20v1m0 1v1m0 30v2m0 57v1m0 53v1M36.5 6v1m0 136v1m0 2v2m0 2v1m0 19v1m0 38v1m0 12v1m0 11v1m0 70v1m0 10v1m0 14v1m0 9v1M37.5 109v1m0 43v1m0 104v1m0 16v1m0 63v1m0 49v1M38.5 1v1m0 57v1m0 100v1m0 43v1m0 48v1m0 73v1m0 48v1m0 3v1M39.5 80v1m0 67v1m0 79v1m0 41v1m0 12v1m0 17v1m0 8v1m0 77v1M40.5 93v1m0 6v1m0 9v1m0 55v1m0 171v1m0 37v1m0 6v1M41.5 39v1m0 35v1m0 26v1m0 4v1m0 5v1m0 23v1m0 52v1m0 88v1m0 4v1m0 6v1m0 34v1m0 7v1m0 23v1m0 10v1M42.5 143v1m0 55v1m0 62v1m0 18v1m0 2v1m0 77v1m0 17v1m0 8v1M43.5 14v1m0 73v1m0 47v1m0 4v1m0 32v1m0 20v1m0 9v1m0 56v1m0 98v1M44.5 36v1m0 48v1m0 49v1m0 8v1m0 61v1m0 21v1m0 109v1m0 2v1m0 9v1M45.5 48v1m0 3v1m0 27v1m0 15v1m0 59v1m0 4v1m0 126v1m0 53v1m0 6v1m0 25v1M46.5 57v1m0 40v1m0 21v1m0 28v1m0 13v1m0 63v1M47.5 30v1m0 4v1m0 16v1m0 208v1m0 1v1m0 42v1m0 66v1m0 11v1M48.5 43v1m0 8v1m0 5v1m0 153v1m0 19v1m0 36v1m0 3v1m0 44v1m0 45v1m0 14v1m0 6v1M49.5 100v1m0 1v1m0 88v1m0 72v1m0 38v1m0 23v1m0 63v1M50.5 23v1m0 315v1m0 13v1M51.5 342v1m0 31v1M52.5 84v1m0 140v1m0 32v1M53.5 29v1m0 75v1m0 20v1m0 115v1m0 10v1m0 34v1m0 14v1m0 25v1M54.5 18v2m0 5v1m0 1v1m0 26v2m0 25v1m0 12v1m0 8v1m0 9v1m0 9v1m0 15v1m0 8v1m0 18v1m0 29v1m0 1v1m0 57v1m0 57v1m0 26v1M55.5 15v1m0 3v1m0 2v1m0 9v1m0 27v1m0 45v1m0 45v1m0 28v1m0 49v1m0 25v1M56.5 40v1m0 82v1m0 101v1m0 34v1m0 21v1m0 21v1m0 62v1M57.5 79v1m0 32v1m0 9v1m0 13v1m0 37v1m0 132v1m0 39v1M58.5 7v1m0 68v1m0 72v1m0 69v1m0 79v1m0 41v1M59.5 41v1m0 2v1m0 232v1m0 18v1m0 49v1m0 39v1M60.5 18v1m0 22v1m0 55v1m0 28v1m0 13v1m0 188v1M61.5 59v1m0 144v1m0 17v1m0 135v1M62.5 39v2m0 327v1m0 5v1M63.5 27v1m0 2v1m0 18v1m0 4v1m0 32v1m0 16v1m0 22v1m0 39v1m0 4v1m0 56v1m0 6v1m0 18v2m0 88v1M64.5 3v1m0 10v1m0 7v1m0 60v1m0 47v1m0 17v1m0 19v1m0 8v1m0 7v1m0 34v1m0 11v1m0 125v1m0 14v1M65.5 62v2m0 115v1m0 109v1m0 35v1m0 6v1m0 53v1m0 6v1m0 1v1M66.5 16v1m0 19v1m0 16v1m0 54v1m0 43v1m0 5v1m0 71v1m0 58v1m0 71v1M67.5 4v1m0 18v1m0 104v1m0 6v1m0 75v1m0 4v1m0 13v1m0 44v1M68.5 7v1m0 98v1m0 36v1m0 4v1m0 89v1m0 14v1m0 33v2M69.5 30v1m0 17v1m0 41v1m0 61v1m0 12v1m0 33v1m0 2v1m0 83v1m0 13v1m0 30v1M70.5 35v1m0 10v1m0 7v1m0 34v1m0 8v1m0 27v1m0 91v1m0 2v1m0 27v1m0 31v2m0 48v1m0 11v1M71.5 72v1m0 115v1m0 5v1m0 55v1m0 10v1m0 1v1m0 22v1m0 45v1m0 5v1M72.5 12v1m0 83v1m0 10v1m0 34v1m0 23v1m0 47v1m0 59v2m0 10v1m0 11v1m0 21v1M73.5 20v1m0 52v1m0 41v1m0 3v1m0 44v1m0 26v1m0 90v1m0 4v1m0 15v1m0 72v1m0 15v1M74.5 9v1m0 28v1m0 62v1m0 2v1m0 78v1m0 6v1m0 19v2m0 22v1m0 96v1m0 2v1m0 2v1m0 23v1m0 32v1M75.5 67v1m0 4v1m0 134v1m0 30v1m0 150v1M76.5 59v1m0 18v1m0 72v1m0 90v1m0 10v1m0 36v1m0 10v1m0 18v1m0 34v1M77.5 162v1m0 17v1m0 9v1M78.5 21v1m0 23v1m0 113v1m0 60v1m0 11v1m0 34v1m0 76v1M79.5 26v1m0 31v1m0 11v1m0 31v1m0 7v1m0 26v1m0 31v1m0 13v1m0 136v1M80.5 71v1m0 60v2m0 6v1m0 3v2m0 25v1m0 2v1m0 17v1m0 22v2m0 50v1m0 25v1m0 6v1m0 10v1m0 2v1m0 5v1m0 3v1m0 13v1m0 14v1m0 1v1m0 3v2m0 2v1m0 6v1m0 1v1m0 2v1m0 7v1m0 1v1M81.5 74v1m0 99v1M82.5 5v1m0 42v1M83.5 139v1m0 98v1M84.5 0v1m0 159v1m0 40v1m0 46v1M85.5 241v1m0 52v1m0 55v1M86.5 36v1m0 43v1m0 22v1m0 267v1M87.5 34v1m0 338v1M88.5 2v1m0 68v1m0 130v1m0 43v1m0 54v1m0 20v1M89.5 120v1M90.5 212v1m0 43v1m0 74v1m0 24v1m0 8v1M92.5 214v1M94.5 2v1m0 48v1m0 137v1m0 20v1m0 48v1m0 104v1M95.5 189v1M96.5 178v1m0 1v1M97.5 91v2m0 33v1m0 29v1m0 92v1m0 15v1m0 94v1M98.5 194v1m0 127v1m0 2v1m0 53v1m0 14v1M99.5 158v1m0 126v1M100.5 53v1m0 54v1m0 130v1m0 63v1M101.5 132v1m0 31v1m0 24v1m0 22v1M102.5 25v1m0 192v1m0 57v1M103.5 1v1m0 33v1m0 170v1m0 18v1M104.5 34v1m0 221v1m0 2v1m0 14v1M106.5 17v1m0 10v1m0 166v1m0 5v1m0 72v1M108.5 38v1m0 13v1m0 287v1m0 21v1M110.5 134v1m0 97v1m0 58v1m0 15v1m0 9v1m0 70v1M112.5 36v1m0 50v1m0 85v1m0 48v1m0 11v1m0 15v1m0 120v1m0 15v1M114.5 3v1m0 248v1m0 77v1m0 29v1M116.5 88v1m0 5v1m0 22v1m0 163v1m0 9v1m0 20v1M118.5 17v1m0 373v1M120.5 6v1m0 64v1m0 22v1m0 204v1m0 43v1m0 4v1m0 32v1M125.5 31v1m0 1v1m0 55v1m0 33v1m0 3v1m0 49v1m0 23v1m0 21v1m0 32v1m0 84v1M130.5 0v1m0 98v1m0 40v1m0 5v1m0 40v1m0 72v1m0 17v1m0 92v1M135.5 96v1m0 5v1m0 69v1m0 14v1m0 24v1m0 58v1m0 58v1M140.5 246v1m0 130v1M145.5 42v1m0 23v1m0 123v1m0 50v1m0 56v1m0 16v1m0 11v1m0 25v1m0 10v1m0 23v1M150.5 126v1m0 21v1m0 3v1m0 87v1m0 50v1"/>
<path stroke="#463480" d="M0.5 38v1m0 118v1m0 113v1m0 88v1M1.5 70v1m0 37v1m0 110v1m0 37v1m0 33v1m0 6v1m0 19v1m0 17v2M2.5 62v1m0 24v1m0 100v1m0 93v1M3.5 35v1m0 48v1m0 166v1m0 4v1m0 4v1m0 40v1m0 63v1m0 24v1M4.5 21v1m0 163v1m0 52v1m0 43v1m0 10v1m0 64v1M5.5 20v1m0 18v1m0 11v1m0 8v1m0 85v1m0 28v1m0 26v1m0 26v1m0 31v1M6.5 4v1m0 71v1m0 51v1m0 123v1m0 139v1M7.5 17v1m0 93v1m0 13v1m0 21v1m0 32v1m0 24v1m0 37v1m0 1v1m0 73v1m0 32v1M8.5 87v1m0 26v1m0 31v1M9.5 7v1m0 48v1m0 111v1m0 7v1m0 93v1m0 117v1m0 4v1M10.5 14v1m0 81v1m0 199v1m0 68v1M11.5 35v1m0 20v1m0 26v1m0 15v1m0 44v1m0 62v1m0 177v1m0 1v1m0 3v1M12.5 23v1m0 43v1m0 3v1m0 12v1m0 24v1m0 35v1m0 49v1m0 11v1m0 78v1m0 35v1m0 12v1m0 1v1M13.5 186v1m0 87v1m0 27v1m0 40v1M14.5 29v2m0 1v1m0 17v1m0 28v1m0 21v1m0 33v1m0 109v1m0 49v1M15.5 43v1m0 97v1m0 67v1m0 30v1m0 19v1m0 33v1m0 30v1m0 55v1M16.5 22v1m0 223v1m0 35v1M17.5 97v1m0 137v1m0 9v1M18.5 162v1m0 69v1m0 51v1m0 24v1M19.5 5v1m0 81v1m0 8v1m0 4v1m0 98v1m0 26v1m0 44v1m0 45v1m0 1v1m0 9v2m0 51v1M20.5 23v1m0 222v1m0 107v1M21.5 33v1m0 30v2m0 45v1M22.5 25v1m0 15v1m0 24v1m0 69v1m0 42v1m0 104v1m0 13v1m0 7v1m0 40v1M23.5 13v1m0 11v1m0 14v1m0 47v1m0 25v1m0 24v1m0 35v1m0 18v1m0 19v1m0 13v1m0 50v1m0 3v1m0 1v1m0 3v1m0 68v1M24.5 16v1m0 61v1m0 190v1M25.5 45v1m0 46v1m0 147v1m0 7v1m0 33v1m0 10v1m0 56v1m0 31v1M26.5 26v1m0 133v1m0 19v1m0 119v1m0 19v1M27.5 96v1m0 141v1m0 13v1m0 47v1m0 6v1m0 24v1m0 5v1M28.5 237v1m0 106v1M29.5 152v2m0 66v1m0 62v1m0 35v1m0 20v1m0 44v1m0 6v1M30.5 14v1m0 48v1m0 2v1m0 60v1m0 16v1m0 6v2m0 84v1m0 13v1m0 19v1m0 9v1m0 1v1m0 3v1m0 59v1m0 6v1m0 21v1m0 4v1m0 13v1M31.5 16v1m0 81v1m0 9v1m0 69v1m0 40v1m0 18v1m0 96v1M32.5 35v1m0 153v1m0 61v1m0 74v1m0 10v1m0 21v1m0 11v1m0 5v1M33.5 314v1M34.5 59v1m0 7v1m0 73v1m0 43v1m0 59v1m0 46v1m0 51v1M35.5 10v1m0 6v1m0 16v1m0 58v1m0 41v1m0 11v1m0 6v1m0 49v1m0 7v1m0 134v1M36.5 65v1m0 1v1m0 3v1m0 70v1m0 19v1m0 30v1m0 71v1m0 7v1m0 14v1m0 2v1M37.5 104v1m0 66v1m0 79v1m0 30v1M38.5 100v1m0 4v1m0 50v1m0 12v1m0 59v1M39.5 68v1m0 192v1m0 6v1m0 42v1M40.5 71v1m0 16v1m0 109v1m0 83v1M41.5 8v1m0 42v1m0 111v1m0 13v1m0 4v1m0 9v1m0 20v1m0 4v1m0 11v1m0 26v1m0 96v1M42.5 219v1M43.5 9v1m0 58v1m0 26v1m0 66v1m0 95v1m0 121v1M44.5 190v1m0 22v1m0 41v1m0 32v1M46.5 104v1m0 39v1M47.5 228v1m0 18v1m0 31v1m0 100v1M48.5 27v1m0 46v1m0 3v1m0 171v1m0 8v1M49.5 82v1m0 22v1m0 26v1m0 6v1m0 46v1m0 11v1m0 138v1m0 20v1m0 17v1M50.5 34v1m0 21v1m0 56v1m0 178v1m0 21v1M51.5 271v1M52.5 260v1M53.5 145v1m0 59v1M54.5 4v2m0 2v1m0 11v1m0 5v1m0 1v1m0 68v1m0 6v1m0 52v1m0 26v1m0 114v1m0 16v1m0 11v1M55.5 24v1m0 1v1m0 37v1m0 272v1M56.5 259v1m0 18v1m0 31v1M57.5 0v1m0 12v1m0 12v2m0 142v1m0 82v1m0 48v2m0 4v1m0 21v1M58.5 131v1m0 64v1m0 24v1m0 156v1M59.5 10v1m0 34v2m0 10v1m0 10v1m0 14v1m0 41v1m0 15v1m0 6v1m0 132v1M61.5 43v1m0 236v1m0 94v1M62.5 9v1m0 51v1m0 2v1m0 91v1m0 133v1m0 56v1M63.5 12v1m0 28v1m0 1v1m0 1v1m0 23v1m0 9v1m0 6v1m0 15v2m0 15v1m0 105v1m0 17v1m0 3v1m0 56v1M64.5 21v1m0 224v1m0 116v1m0 20v1M65.5 70v1m0 1v1m0 79v1M66.5 83v1M67.5 47v1m0 2v1m0 36v1m0 62v1m0 17v1m0 31v1m0 42v1m0 51v1m0 9v1m0 2v1M68.5 70v1m0 56v1m0 4v1m0 19v1m0 19v1m0 108v1m0 52v1M69.5 38v1m0 149v1m0 14v1m0 33v1m0 108v1M70.5 86v1m0 50v1m0 23v1m0 10v1m0 17v1m0 23v1m0 61v1m0 7v1m0 25v1m0 45v1m0 25v1M71.5 32v1m0 4v1m0 191v1m0 34v1M72.5 26v1m0 3v1m0 1v1m0 14v1m0 40v1m0 2v1m0 16v1m0 1v1m0 4v1m0 11v1m0 41v1m0 2v1m0 27v1m0 106v1m0 54v1m0 8v1M73.5 58v1m0 138v1m0 57v1m0 17v1m0 37v1m0 12v1m0 17v1M74.5 140v1m0 34v1m0 13v1m0 1v1m0 70v1m0 38v1m0 89v1M76.5 57v1m0 50v1m0 182v1M77.5 32v1M78.5 305v1M79.5 69v1m0 198v1m0 39v1m0 3v1M80.5 127v1m0 32v1m0 12v1m0 23v1m0 83v1m0 1v1m0 13v1m0 7v1m0 25v1m0 41v1M82.5 3v1m0 84v1m0 26v1m0 2v1m0 118v1m0 10v1M83.5 191v1m0 89v1m0 75v1M84.5 29v1m0 219v2m0 22v1m0 54v1m0 50v1M85.5 41v1M86.5 130v1m0 85v1m0 79v1M87.5 53v1M88.5 109v1M90.5 1v1m0 250v1M91.5 119v1m0 52v1m0 7v1m0 17v1m0 28v1m0 79v1m0 8v1m0 22v1M93.5 197v1M94.5 73v1m0 57v1m0 67v1m0 17v1m0 69v1m0 63v1M95.5 392v1M96.5 111v1M97.5 191v1m0 82v1m0 97v1M100.5 195v1m0 195v1M101.5 192v1M102.5 225v1M103.5 6v1m0 3v1m0 134v1m0 164v1m0 61v1M104.5 198v1M105.5 13v1m0 76v1m0 77v1m0 99v1M106.5 39v1m0 15v1m0 119v1m0 41v1m0 27v1m0 25v1m0 39v1M108.5 147v1m0 76v1M110.5 144v1m0 53v1m0 90v1m0 93v1m0 5v1M112.5 44v1m0 23v1m0 171v1m0 8v1m0 86v1m0 43v1M114.5 17v1m0 162v1m0 63v1m0 36v1m0 108v1M116.5 143v1m0 121v1M118.5 321v1m0 13v1m0 15v1m0 37v1M120.5 80v1m0 141v1m0 79v1m0 37v1m0 6v1M125.5 95v1m0 110v1M130.5 156v1m0 11v1M135.5 40v1m0 20v1m0 56v1m0 14v1m0 151v1M140.5 90v1m0 52v1m0 199v1M145.5 86v1m0 143v1m0 50v1M150.5 50v1m0 29v1m0 61v1m0 19v1m0 4v1m0 23v1"/>
<path stroke="#443983" d="M0.5 34v1m0 1v2m0 10v1m0 154v1m0 29v1m0 94v1m0 12v1M1.5 195v1m0 60v1m0 93v1M2.5 86v1m0 54v1m0 141v1m0 57v1M3.5 204v1m0 62v1M4.5 14v1m0 95v1m0 18v1m0 32v1m0 25v1m0 54v1m0 42v1m0 107v1M5.5 4v1m0 50v1m0 131v1m0 19v1M6.5 195v1m0 199v1M7.5 19v1m0 60v1m0 95v1m0 34v1m0 1v1m0 20v1m0 35v1M8.5 327v1M9.5 51v1m0 28v1m0 134v2m0 60v1m0 42v1m0 71v1M10.5 116v1M11.5 19v1m0 52v1m0 34v1m0 33v1m0 142v1m0 31v1m0 13v1m0 37v1M12.5 20v1m0 57v1m0 60v1m0 10v1m0 37v1m0 3v1m0 80v1m0 27v1M13.5 130v1M14.5 0v1m0 98v1m0 16v1m0 21v1m0 45v1m0 118v1m0 81v1m0 5v1M15.5 5v1m0 36v1m0 17v1m0 106v1m0 39v1m0 119v1M16.5 82v1m0 88v1m0 78v1m0 7v1m0 87v1M17.5 100v1m0 20v1M18.5 167v1m0 153v1M19.5 2v1m0 33v1m0 57v1m0 38v1m0 30v1m0 93v1m0 49v1m0 5v1m0 26v1M20.5 168v1m0 41v1m0 22v1m0 57v1m0 52v1M21.5 36v1M22.5 180v1m0 60v1m0 25v1m0 19v1m0 74v1M23.5 192v1m0 10v1m0 55v1m0 8v1m0 80v1M24.5 118v1m0 3v1M25.5 78v1m0 6v1m0 7v1m0 32v1m0 24v1m0 64v1m0 141v2m0 12v1m0 5v1m0 6v1M26.5 48v1m0 20v1m0 154v1m0 103v1m0 59v1M27.5 242v1M28.5 135v1m0 1v1m0 58v1M29.5 16v1m0 4v1m0 38v1m0 7v1m0 93v1m0 30v1m0 23v1m0 36v1m0 24v1m0 42v1M30.5 174v1m0 36v1m0 159v1M31.5 210v1M32.5 142v1m0 107v1m0 34v1m0 107v1M33.5 64v1m0 77v1m0 1v1M34.5 80v2m0 132v1m0 36v1M35.5 11v1m0 17v1m0 62v1m0 26v1m0 64v1m0 74v1m0 26v1M36.5 144v1m0 7v1m0 111v1m0 6v1m0 73v1M37.5 127v1m0 9v1m0 88v1m0 39v1m0 37v1M38.5 172v2m0 100v1m0 94v1M39.5 171v1M40.5 62v1M41.5 23v1m0 4v1m0 16v1m0 54v1m0 109v1m0 30v1M42.5 65v1m0 319v1M43.5 53v1m0 170v1m0 46v1m0 17v1M44.5 19v1m0 34v1m0 105v1M45.5 133v1M48.5 6v1m0 44v1m0 51v1m0 137v1M49.5 31v1m0 231v1m0 44v1M50.5 138v1m0 131v1M51.5 301v1m0 19v1M52.5 350v1M53.5 216v1M54.5 15v1m0 321v1m0 54v1M55.5 20v1m0 91v1M57.5 38v1m0 27v1m0 62v1m0 45v1m0 85v1m0 26v1m0 92v1m0 6v1M58.5 191v1M59.5 4v1m0 65v1m0 161v1m0 24v1m0 81v1M62.5 15v1m0 29v1m0 21v1m0 6v1m0 23v1m0 16v1m0 234v1m0 39v1M63.5 174v1m0 52v1m0 20v1m0 26v1M64.5 52v1m0 52v1m0 3v1M65.5 114v1m0 13v1m0 30v1m0 9v1m0 89v2m0 66v1m0 15v1M66.5 265v1M67.5 66v1m0 9v1m0 13v1m0 142v1m0 76v1M69.5 100v1m0 85v1M70.5 9v1m0 12v1m0 111v1m0 36v1m0 26v1m0 54v1m0 57v1M72.5 11v1m0 31v1m0 141v1m0 137v1m0 41v1m0 28v1M73.5 45v1m0 140v1m0 141v1M74.5 178v1m0 199v1m0 5v1M75.5 176v1m0 159v1M76.5 58v1M77.5 88v1m0 110v1M78.5 393v1M79.5 20v1M80.5 45v1m0 223v1m0 2v1m0 53v1m0 30v1M82.5 392v1M83.5 96v1M84.5 36v1m0 243v1m0 74v1m0 36v1m0 1v1M86.5 33v1M92.5 119v1m0 274v1M94.5 165v1m0 75v1m0 26v1m0 88v1M95.5 107v1M97.5 358v1M101.5 204v1m0 58v1M103.5 136v1m0 31v1M105.5 11v1m0 27v1m0 351v1M106.5 5v1m0 50v1m0 22v1m0 125v1m0 45v1m0 55v1M108.5 167v1m0 76v1M110.5 36v1M112.5 267v1m0 57v1M114.5 186v1m0 59v1m0 141v1m0 2v1M116.5 360v1M118.5 144v1M120.5 133v1m0 122v1M125.5 86v1m0 127v1m0 172v1M130.5 367v1M135.5 184v1m0 52v1M140.5 125v1m0 106v1m0 156v1M145.5 217v1M150.5 128v1m0 47v1m0 128v1m0 82v1"/>
<path stroke="#433e85" d="M0.5 102v1m0 271v1M1.5 8v1m0 69v1m0 208v1M2.5 13v1m0 32v1m0 189v1m0 49v1m0 43v1M3.5 49v1m0 58v1m0 51v1m0 73v1m0 9v1m0 1v1m0 11v1m0 3v1m0 3v1m0 19v1M4.5 170v1m0 221v2M5.5 95v1m0 160v1m0 2v1m0 4v1m0 40v1M6.5 232v1m0 71v2m0 72v1M7.5 283v1m0 69v1M8.5 94v1M9.5 18v1m0 218v1m0 156v1M10.5 22v1m0 118v1m0 2v1m0 235v1M11.5 33v1m0 278v1m0 5v1m0 32v1m0 36v1M12.5 248v1m0 23v1m0 119v1M13.5 135v1M14.5 81v1m0 6v1m0 76v1m0 157v1M15.5 18v1m0 74v1m0 6v1m0 65v1m0 209v1M16.5 173v1m0 217v1M17.5 22v1m0 97v1m0 266v1M18.5 76v1m0 315v1M19.5 168v1m0 121v1m0 33v1m0 13v2m0 36v1m0 15v1M20.5 38v1m0 111v1m0 29v1m0 49v1m0 83v1m0 28v1m0 3v1M21.5 28v1m0 39v1m0 165v1m0 148v1M22.5 124v1M25.5 47v1m0 55v1m0 91v1m0 2v1m0 14v1m0 92v1m0 9v1m0 7v1m0 61v1m0 5v1M26.5 106v1M27.5 154v1m0 45v1M29.5 93v1m0 78v1m0 17v1m0 74v1M30.5 5v1m0 51v1m0 222v1m0 4v1M31.5 12v1m0 142v1M32.5 86v1m0 14v1m0 66v1m0 165v1m0 27v1M33.5 139v1m0 1v1M34.5 155v1m0 6v1m0 71v1m0 107v1M35.5 87v1m0 267v1m0 5v1m0 32v1M36.5 79v1m0 71v1m0 27v1m0 83v1m0 8v1m0 53v1M38.5 358v1m0 32v1M39.5 382v1M40.5 46v1m0 346v1M41.5 109v1m0 84v1m0 74v1m0 1v1m0 26v1M44.5 145v1m0 25v1m0 113v1M45.5 256v1M46.5 382v1m0 9v1M47.5 39v1m0 161v1M48.5 314v1m0 39v1M49.5 80v1m0 61v1M50.5 105v1m0 267v1M55.5 7v1M56.5 82v1m0 3v1m0 228v1M57.5 113v1m0 51v1m0 11v1m0 150v1M58.5 36v1M59.5 43v1m0 11v1m0 135v1m0 42v1m0 84v1m0 33v1M60.5 29v1M62.5 178v1M63.5 0v1M64.5 33v1m0 120v1m0 74v1m0 44v1M65.5 35v1m0 276v1m0 79v1M66.5 69v1m0 266v1M67.5 27v1m0 21v1m0 315v1M68.5 9v1m0 166v1m0 139v1M70.5 95v1M71.5 371v1M72.5 93v1m0 11v1m0 122v1m0 5v1M73.5 95v1m0 70v1m0 55v1m0 58v1m0 69v1m0 31v1M74.5 208v1m0 33v1M78.5 115v1M83.5 355v1M85.5 207v1m0 183v1M90.5 210v1M91.5 128v1M92.5 393v1m0 1v1M98.5 395v1M101.5 99v1m0 249v1M103.5 265v1m0 88v1M106.5 106v1M110.5 386v1M114.5 161v1M116.5 57v1M118.5 266v1m0 43v1M120.5 39v1M135.5 183v1M140.5 38v1M145.5 24v1m0 74v1m0 208v1M150.5 45v1m0 337v1"/>
<path stroke="#414487" d="M3.5 170v1m0 93v1m0 46v1M4.5 169v1m0 3v1m0 143v1m0 41v1M5.5 167v1M6.5 3v1m0 4v1m0 384v1M7.5 15v1m0 30v1m0 297v1M8.5 98v1m0 237v1M9.5 382v1m0 12v1M11.5 41v1m0 48v1m0 124v1m0 75v1m0 23v1m0 59v1M12.5 157v1m0 88v1m0 38v1M13.5 131v1m0 4v1m0 82v1M14.5 195v1m0 41v1M15.5 153v1m0 80v1m0 156v1M16.5 83v1m0 88v1m0 2v2m0 37v1m0 178v1M17.5 0v1m0 42v1M18.5 73v1M19.5 277v1m0 93v1M20.5 81v1m0 48v1m0 159v1m0 57v1m0 37v1M21.5 61v1m0 27v1m0 124v1m0 15v1M22.5 4v1m0 188v1m0 201v1M23.5 16v1m0 148v1m0 71v1M24.5 34v1m0 11v1M25.5 141v1m0 117v1m0 131v1m0 2v1M26.5 59v1m0 25v1M29.5 155v1m0 8v1m0 11v1m0 85v1m0 40v1m0 83v1M30.5 3v1m0 98v1m0 33v1m0 12v1m0 108v1m0 86v1m0 47v1M31.5 258v1m0 92v1M32.5 346v1M33.5 391v1M34.5 140v1m0 107v1m0 94v1m0 41v1M36.5 266v1M38.5 23v1m0 23v1m0 130v1m0 71v1m0 38v1M39.5 392v1m0 2v1M41.5 165v1M43.5 317v1m0 8v1m0 21v1m0 2v1M44.5 61v1M45.5 236v1m0 24v1M47.5 133v1M48.5 255v1M49.5 26v1m0 367v1M55.5 3v1m0 308v1M57.5 327v1m0 7v1M59.5 42v1m0 63v1M62.5 267v2m0 61v1M64.5 190v1m0 13v1m0 47v1M65.5 95v1m0 107v1m0 120v1M66.5 256v1M67.5 338v1M68.5 191v1m0 139v1M70.5 391v1M72.5 308v1m0 2v1m0 30v1M73.5 22v1m0 196v1m0 7v1m0 88v1M74.5 253v1m0 139v1M76.5 13v1m0 175v1M78.5 392v1M84.5 176v1M85.5 267v1m0 124v1M91.5 393v1M95.5 393v1M100.5 392v1M101.5 393v1M102.5 392v1M105.5 81v1M106.5 32v1m0 29v1m0 6v1M108.5 197v1m0 191v1M112.5 192v1m0 22v1M116.5 390v1M125.5 22v1m0 353v1M130.5 388v1M135.5 65v1m0 320v1M145.5 390v1M150.5 391v1"/>
<path stroke="#3f4889" d="M0.5 35v1m0 357v1M1.5 76v2m0 63v1M2.5 212v1M3.5 239v1m0 2v1m0 11v2M4.5 166v1M5.5 320v1m0 60v1M6.5 306v1m0 2v1M8.5 145v1m0 5v2M9.5 213v2m0 4v1M12.5 382v1m0 12v1M15.5 59v1m0 1v2m0 73v1m0 117v1M16.5 174v1M18.5 124v1M19.5 79v1m0 6v1m0 246v1m0 1v1M21.5 258v1m0 95v1M23.5 391v1M24.5 38v1m0 85v1M25.5 14v1m0 157v1m0 6v1m0 21v1M26.5 376v1M29.5 34v1m0 42v1m0 68v1m0 51v1m0 59v1m0 136v1M30.5 46v1m0 13v1m0 123v1m0 209v1M33.5 147v1m0 246v2M34.5 252v1m0 54v1m0 11v1M35.5 31v1m0 229v1M36.5 138v1m0 16v1m0 114v1m0 5v1m0 114v1m0 1v1M38.5 306v1m0 85v1M40.5 392v1M42.5 392v1M44.5 124v1M46.5 209v1M57.5 78v1m0 257v1M59.5 38v1m0 8v2m0 301v1m0 42v1M62.5 197v1m0 196v1M63.5 376v1M64.5 176v1m0 73v1M65.5 40v1m0 113v1m0 58v1m0 180v1M67.5 144v1m0 196v1M70.5 33v1M72.5 258v1m0 133v2m0 1v1M73.5 141v1M74.5 106v1m0 47v1m0 133v1m0 74v1m0 23v1m0 4v1m0 2v1M80.5 394v1M93.5 393v1M100.5 395v1M102.5 391v1M110.5 390v1M130.5 391v1M150.5 277v1m0 84v1"/>
<path stroke="#3d4d8a" d="M0.5 12v1m0 381v1M1.5 81v1m0 58v1m0 253v1M3.5 83v1m0 3v1M4.5 161v1m0 3v1m0 5v1M5.5 258v1m0 1v1M6.5 2v1m0 3v1m0 295v2M7.5 236v1M8.5 149v1M9.5 59v1M10.5 139v2M13.5 133v1M15.5 55v1m0 1v1m0 334v1M18.5 71v1M19.5 46v1m0 282v1m0 6v1m0 29v1m0 24v1M20.5 245v1m0 139v1m0 5v1M21.5 27v1m0 44v1M22.5 191v1M23.5 405v1M24.5 36v1M25.5 261v2m0 59v1M29.5 127v1M30.5 179v1m0 146v1M32.5 42v1m0 202v1M33.5 143v1M37.5 392v1M38.5 48v1m0 76v1M47.5 393v1M48.5 91v1M49.5 287v1M50.5 395v1M52.5 393v1M53.5 23v1M54.5 393v1M57.5 329v1m0 2v1M59.5 50v1m0 340v1M62.5 171v1m0 221v1M65.5 0v1M67.5 392v2M70.5 147v1M72.5 129v1m0 227v1M73.5 92v1M84.5 393v1M94.5 321v1m0 71v1M105.5 394v1M116.5 386v2M130.5 382v1m0 3v2m0 1v1M135.5 387v1M145.5 389v1"/>
<path stroke="#3b528b" d="M1.5 83v1M3.5 240v1m0 24v1M4.5 167v1m0 147v1m0 50v3M6.5 9v1M7.5 14v1M14.5 236v1m0 6v1m0 161v1M15.5 48v1m0 7v1M18.5 70v1m0 1v1m0 4v1M19.5 380v1M20.5 346v1m0 3v1M21.5 57v2m0 7v1m0 120v1M22.5 109v1m0 75v1m0 4v1m0 1v1m0 134v1m0 3v1m0 61v2M23.5 394v1M25.5 256v1m0 92v1M29.5 65v1m0 271v1M33.5 140v1m0 252v1M34.5 84v1M36.5 274v1M38.5 286v1M57.5 334v1M59.5 115v1m0 278v1M73.5 131v1m0 107v1M83.5 395v1M85.5 394v1M86.5 394v1M91.5 391v2m0 1v1M102.5 393v1M105.5 392v1M112.5 390v1M120.5 389v1M135.5 391v1"/>
<path stroke="#39568c" d="M0.5 13v1M1.5 80v1m0 58v1m0 56v1M2.5 211v1M3.5 250v1m0 2v1M4.5 164v1m0 154v1M5.5 262v1M6.5 10v1m0 290v1m0 8v1M8.5 92v1m0 3v1m0 51v1M9.5 53v1m0 4v1m0 161v1M10.5 393v1M12.5 393v1M15.5 53v1m0 4v1m0 225v1M16.5 181v1M18.5 74v2M19.5 340v1m0 52v1M21.5 76v1m0 127v1M22.5 184v1m0 2v1m0 7v1M24.5 40v1m0 6v1m0 2v2m0 353v1M25.5 257v1M29.5 200v1M36.5 145v1m0 246v1M37.5 245v1M39.5 393v1M50.5 392v2M55.5 13v1m0 377v1M59.5 388v1m0 6v1M60.5 395v1M69.5 392v1M74.5 303v1M75.5 392v1M76.5 392v1M77.5 376v1M79.5 209v2M80.5 392v1M84.5 395v1M116.5 389v1M120.5 386v1"/>
<path stroke="#375b8d" d="M4.5 311v1M5.5 263v1m0 130v1M6.5 307v2M7.5 405v1M8.5 147v1M9.5 64v1m0 153v1M12.5 364v1M14.5 240v1M16.5 394v1M20.5 7v1m0 341v1M21.5 70v1m0 2v1m0 3v2M22.5 181v1m0 6v2M24.5 41v1m0 2v2M28.5 393v1m0 11v1M29.5 394v1M30.5 318v1M38.5 388v1M43.5 394v1M44.5 392v1M51.5 392v1M53.5 391v1M57.5 260v1m0 72v1M59.5 49v1M65.5 50v1m0 3v1M70.5 392v1M77.5 374v1M79.5 393v1M82.5 394v1M85.5 393v1M96.5 392v1m0 2v1M101.5 394v1M102.5 394v1M104.5 394v1"/>
<path stroke="#355f8d" d="M0.5 11v1M1.5 79v1m0 2v1m0 312v1m0 9v1M2.5 207v1M3.5 245v1m0 11v1m0 5v1M4.5 163v1m0 4v1m0 149v1m0 44v1m0 1v1m0 39v1M6.5 5v1M8.5 91v1M9.5 55v1m0 156v1m0 192v1M11.5 317v1M14.5 241v1M16.5 392v1M17.5 249v1m0 143v1M21.5 71v1M22.5 194v1m0 197v1M24.5 37v1m0 1v1M25.5 260v1M33.5 245v1M51.5 393v1M67.5 394v1M68.5 392v1M75.5 221v1M77.5 375v1M78.5 216v1M85.5 395v1M94.5 394v1M95.5 394v1M96.5 393v1M99.5 392v1M101.5 395v1M105.5 395v1"/>
<path stroke="#32648e" d="M1.5 138v1M2.5 203v3m0 10v1M4.5 313v1m0 47v1M6.5 7v1M8.5 93v1m0 5v1M16.5 395v1M19.5 334v1M20.5 345v1M21.5 67v1M22.5 183v1M24.5 35v1m0 6v2m0 349v1M26.5 392v1M27.5 392v1M36.5 395v1M39.5 394v1M49.5 395v1M53.5 393v1M56.5 391v1M59.5 39v1M60.5 394v1M67.5 391v1M71.5 391v1M77.5 378v1M80.5 393v1M82.5 393v1m0 1v1M90.5 391v2M93.5 394v1M99.5 393v1M100.5 393v2M106.5 391v1"/>
<path stroke="#31688e" d="M2.5 214v1M3.5 86v1m0 318v1M4.5 160v1M5.5 405v1M8.5 405v1M11.5 179v1M14.5 238v1M15.5 54v1M19.5 394v1M21.5 69v1m0 4v2m0 4v1M22.5 182v1m0 3v1M25.5 232v1m0 22v1M35.5 395v1M36.5 394v1M40.5 395v1M42.5 393v1M46.5 395v1M73.5 226v1M74.5 231v1M75.5 394v1M77.5 219v1m0 9v1m0 147v1m0 1v1M78.5 395v1M79.5 213v1m0 181v1M96.5 394v1M105.5 393v1M114.5 395v1M118.5 392v1"/>
<path stroke="#2f6c8e" d="M1.5 84v1M2.5 215v1M8.5 97v1m0 296v1M9.5 65v1M10.5 394v1M11.5 394v1M13.5 394v1m0 10v1M19.5 395v1M21.5 79v1M22.5 196v1m0 208v1M25.5 303v1M28.5 391v1M38.5 393v2M40.5 394v1M48.5 394v1M54.5 394v1M59.5 392v1M66.5 393v1M75.5 393v1M97.5 392v1M102.5 395v1M116.5 394v1M125.5 395v1M130.5 395v1"/>
<path stroke="#2d708e" d="M0.5 395v1M1.5 143v1M2.5 206v1m0 2v1m0 195v1M4.5 314v1m0 1v1m0 43v1m0 1v1m0 32v1M5.5 257v1M6.5 311v1M9.5 69v1M10.5 392v1M15.5 393v2M16.5 248v1M18.5 251v1m0 142v1M20.5 405v1M21.5 63v1m0 341v1M27.5 393v1M29.5 247v1m0 1v1m0 155v1M31.5 246v1M34.5 246v1M40.5 405v1M44.5 393v1M45.5 394v1M50.5 394v1M52.5 395v1M61.5 393v1M63.5 394v1M64.5 236v1M66.5 392v1M67.5 395v1M69.5 234v1m0 156v1M74.5 405v1M79.5 394v1m0 10v1M80.5 395v1M87.5 394v1M88.5 394v1M94.5 405v1M95.5 395v1M112.5 393v1M116.5 395v1M140.5 392v2"/>
<path stroke="#2b748e" d="M2.5 201v1M6.5 405v1M7.5 393v1M8.5 395v1M21.5 395v1M24.5 394v1M34.5 394v2M43.5 393v1M45.5 405v1M47.5 394v1M56.5 393v1M58.5 394v1M62.5 395v1M66.5 405v1M67.5 405v1M69.5 393v1M76.5 393v1M78.5 405v1M90.5 393v2M99.5 391v1M120.5 393v2"/>
<path stroke="#2a788e" d="M1.5 85v1m0 56v1M2.5 208v1m0 195v1M8.5 95v1M13.5 393v1M14.5 394v1M18.5 393v1M21.5 393v1M25.5 405v1M41.5 394v1M43.5 392v1M44.5 405v1M49.5 243v1M50.5 243v1M51.5 243v1m0 151v1M55.5 237v1M56.5 237v1m0 154v1M64.5 395v1M70.5 230v1m0 3v1M74.5 225v1M75.5 223v1m0 6v2M78.5 228v1M80.5 226v1M88.5 393v1M94.5 395v1M97.5 394v1M99.5 395v1M110.5 393v1M116.5 393v1M135.5 392v1"/>
<path stroke="#287c8e" d="M0.5 404v1M2.5 210v1M4.5 312v1M9.5 67v1M10.5 395v1M11.5 395v1M13.5 404v1M18.5 395v1M26.5 405v1M28.5 404v1M31.5 393v1m0 11v1M37.5 393v2M38.5 395v1M55.5 395v1M64.5 392v1M70.5 405v1M75.5 405v1M80.5 405v1M104.5 395v1M106.5 392v1m0 1v1M118.5 394v1M125.5 393v1M150.5 394v1"/>
<path stroke="#27808e" d="M2.5 213v1M6.5 404v1M9.5 66v1M11.5 405v1M13.5 395v1M15.5 244v1m0 160v1M26.5 250v1m0 153v1M43.5 391v1M47.5 395v1M48.5 395v1M53.5 392v1M55.5 394v1M58.5 405v1M61.5 394v1M64.5 391v1M65.5 236v1M66.5 236v1M68.5 405v1M78.5 394v1M81.5 394v1M88.5 405v1M89.5 405v1M101.5 405v1M103.5 394v1M110.5 394v1"/>
<path stroke="#25848e" d="M2.5 202v1M3.5 404v1M5.5 395v1M9.5 68v1M20.5 393v1M28.5 392v1M42.5 395v1M43.5 395v1M45.5 395v1M46.5 405v1M53.5 405v1M54.5 395v1M57.5 394v1M68.5 395v1M70.5 393v1M71.5 392v1M89.5 395v1M91.5 395v1M108.5 394v2M120.5 392v1m0 2v1M130.5 393v1M140.5 395v1"/>
<path stroke="#23888e" d="M9.5 62v1M11.5 393v1M19.5 405v1M20.5 392v1M23.5 395v1M24.5 404v1M25.5 250v1m0 153v1M33.5 405v1M39.5 405v1M73.5 394v1M79.5 227v1M83.5 405v1M90.5 405v1M103.5 405v1M105.5 405v1M106.5 393v1m0 1v1M140.5 394v1"/>
<path stroke="#228c8d" d="M9.5 60v1m0 2v1M10.5 404v1M17.5 394v1M20.5 404v1M26.5 394v1M31.5 394v1M34.5 405v1M37.5 395v1M53.5 395v1M55.5 392v2M63.5 405v1M64.5 393v1M66.5 394v1M68.5 393v2M69.5 394v1M99.5 405v1M116.5 392v1M125.5 405v1M130.5 405v1M140.5 405v1M145.5 394v1M150.5 405v1"/>
<path stroke="#21918c" d="M17.5 405v1M18.5 405v1M20.5 394v1M26.5 249v1m0 143v1M27.5 405v1M28.5 394v1M30.5 405v1M35.5 245v2M44.5 395v1M55.5 405v1M66.5 395v1M70.5 395v1M72.5 405v1M93.5 405v1M108.5 405v1M110.5 392v1M112.5 394v1M114.5 394v1M130.5 392v1M135.5 395v1M145.5 392v1m0 12v1"/>
<path stroke="#1f948c" d="M0.5 405v1M7.5 394v2M10.5 405v1M11.5 392v1M12.5 405v1M15.5 395v1M16.5 405v1M17.5 395v1M18.5 404v1M21.5 394v1M24.5 395v1M26.5 395v1M27.5 395v1M41.5 405v1M42.5 394v1M52.5 394v1M71.5 393v1M73.5 405v1M84.5 405v1M89.5 394v1M100.5 405v1M103.5 395v1M114.5 393v1M145.5 393v1"/>
<path stroke="#1f988b" d="M4.5 404v1M9.5 61v1M21.5 392v1M27.5 394v1M28.5 249v1M32.5 246v2M41.5 395v1M71.5 395v1M76.5 405v1M85.5 405v1M88.5 395v1M90.5 395v1M125.5 394v1M150.5 392v1"/>
<path stroke="#1e9c89" d="M28.5 395v1M31.5 395v1M44.5 394v1M51.5 394v1M62.5 405v1M69.5 395v1M71.5 405v1M73.5 395v1M76.5 395v1M87.5 405v1M92.5 405v1M97.5 393v1m0 11v1M104.5 405v1M150.5 393v1"/>
<path stroke="#1fa188" d="M8.5 404v1M19.5 404v1M20.5 395v1M33.5 247v1M50.5 405v1M56.5 405v1M60.5 405v1M63.5 395v1M77.5 385v1M82.5 405v1M86.5 395v1M87.5 395v1M93.5 395v1M108.5 393v1M110.5 395v1M118.5 405v1M120.5 405v1M150.5 395v1"/>
<path stroke="#20a486" d="M21.5 404v1M38.5 405v1M49.5 405v1M54.5 405v1M56.5 394v1M57.5 405v1M58.5 395v1M70.5 394v1M81.5 405v1M108.5 392v1M112.5 392v1m0 2v1m0 9v1M135.5 394v1"/>
<path stroke="#22a884" d="M14.5 404v1M17.5 404v1M27.5 249v1M35.5 405v1M42.5 405v1M48.5 405v1M51.5 405v1M53.5 394v1M59.5 405v1M61.5 395v1M77.5 387v1M97.5 395v1M102.5 405v1M106.5 405v1M118.5 395v1M130.5 394v1M135.5 393v1"/>
<path stroke="#25ac82" d="M12.5 404v1M14.5 395v1M36.5 405v1M47.5 405v1M52.5 405v1M64.5 405v1M91.5 405v1M99.5 394v1M110.5 405v1M114.5 392v1M118.5 393v1M125.5 392v1M145.5 395v1"/>
<path stroke="#2ab07f" d="M9.5 404v1M32.5 405v1M33.5 246v1M43.5 405v1M56.5 395v1M57.5 395v1M61.5 405v1M64.5 394v1M65.5 405v1M71.5 394v1M81.5 395v1M86.5 405v1M114.5 405v1"/>
<path stroke="#2fb47c" d="M16.5 404v1M37.5 405v1M69.5 405v1M75.5 395v1M77.5 380v1M95.5 405v1M96.5 405v1M98.5 405v1M116.5 405v1M135.5 405v1"/>
<path stroke="#35b779" d="M11.5 404v1M76.5 394v1"/>
<path stroke="#3bbb75" d="M1.5 404v1M27.5 404v1"/>
<path stroke="#44bf70" d="M5.5 404v1M7.5 404v1M22.5 404v1M23.5 404v1M77.5 381v1m0 1v1"/>
<path stroke="#4cc26c" d="M77.5 382v1m0 3v1"/>
<path stroke="#54c568" d="M15.5 404v1M77.5 384v1"/>
<path stroke="#5ec962" d="M34.5 404v1M70.5 404v1"/>
<path stroke="#67cc5c" d="M48.5 404v1M83.5 404v1M103.5 404v1"/>
<path stroke="#70cf57" d="M36.5 404v1M37.5 404v1M65.5 404v1"/>
<path stroke="#7ad151" d="M30.5 247v2M60.5 404v1"/>
<path stroke="#90d743" d="M29.5 248v1M31.5 247v1M46.5 404v1M84.5 404v1M95.5 404v1M99.5 404v1"/>
<path stroke="#a5db36" d="M94.5 404v1"/>
<path stroke="#bddf26" d="M43.5 404v1"/>
<path stroke="#c8e020" d="M79.5 404v1"/>
<path stroke="#d2e21b" d="M63.5 404v1"/>
<path stroke="#fde725" d="M0.5 396v8M1.5 396v8M2.5 396v8M3.5 396v8M4.5 396v8M5.5 396v8M6.5 396v8M7.5 396v8M8.5 396v8M9.5 396v8M10.5 396v8M11.5 396v8M12.5 396v8M13.5 396v8M14.5 396v8M15.5 396v8M16.5 396v8M17.5 396v8M18.5 396v8M19.5 396v8M20.5 396v8M21.5 396v8M22.5 396v8M23.5 396v8M24.5 396v8M25.5 396v8M26.5 396v8M27.5 396v8M28.5 396v8M29.5 396v9M30.5 396v9M31.5 396v9M32.5 396v9M33.5 396v9M34.5 396v8M35.5 396v9M36.5 396v8M37.5 396v8M38.5 396v9M39.5 396v9M40.5 396v9M41.5 396v9M42.5 396v9M43.5 396v8M44.5 396v9M45.5 396v9M46.5 396v8M47.5 396v9M48.5 396v8M49.5 396v9M50.5 396v9M51.5 396v9M52.5 396v9M53.5 396v9M54.5 396v9M55.5 396v9M56.5 396v9M57.5 396v9M58.5 396v9M59.5 396v9M60.5 396v8M61.5 396v9M62.5 396v9M63.5 396v8M64.5 396v9M65.5 396v8M66.5 396v9M67.5 396v9M68.5 396v9M69.5 396v9M70.5 396v8M71.5 396v9M72.5 396v9M73.5 396v9M74.5 396v9M75.5 396v9M76.5 396v9M77.5 388v18M78.5 396v9M79.5 396v8M80.5 396v9M81.5 396v9M82.5 396v9M83.5 396v8M84.5 396v8M85.5 396v9M86.5 396v9M87.5 396v9M88.5 396v9M89.5 396v9M90.5 396v9M91.5 396v9M92.5 396v9M93.5 396v9M94.5 396v8M95.5 396v8M96.5 396v9M97.5 396v9M98.5 396v9M99.5 396v8M100.5 396v9M101.5 396v9M102.5 396v9M103.5 396v8M104.5 396v9M105.5 396v9M106.5 396v9M108.5 396v9M110.5 396v9M112.5 396v9M114.5 396v9M116.5 396v9M118.5 396v9M120.5 396v9M125.5 396v9M130.5 396v9M135.5 396v9M140.5 396v9M145.5 396v9M150.5 396v9"/>
</g></g>
<rect x="1016.5" y="85.5" width="36" height="737" fill="url(#vg)"/>
<g fill="none" stroke="#000" stroke-width="1" shape-rendering="crispEdges">
<rect x="98.5" y="85.5" width="864" height="737"/>
<rect x="1016.5" y="85.5" width="36" height="737"/>
</g>
<g stroke="#000" stroke-width="1" shape-rendering="crispEdges">
<line x1="93.14" y1="810.50" x2="98" y2="810.50"/>
<line x1="93.14" y1="689.50" x2="98" y2="689.50"/>
<line x1="93.14" y1="568.50" x2="98" y2="568.50"/>
<line x1="93.14" y1="448.50" x2="98" y2="448.50"/>
<line x1="93.14" y1="327.50" x2="98" y2="327.50"/>
<line x1="93.14" y1="206.50" x2="98" y2="206.50"/>
<line x1="93.14" y1="85.50" x2="98" y2="85.50"/>
<line x1="179.50" y1="823" x2="179.50" y2="827.86"/>
<line x1="287.50" y1="823" x2="287.50" y2="827.86"/>
<line x1="395.50" y1="823" x2="395.50" y2="827.86"/>
<line x1="503.50" y1="823" x2="503.50" y2="827.86"/>
<line x1="611.50" y1="823" x2="611.50" y2="827.86"/>
<line x1="719.50" y1="823" x2="719.50" y2="827.86"/>
<line x1="827.50" y1="823" x2="827.50" y2="827.86"/>
<line x1="935.50" y1="823" x2="935.50" y2="827.86"/>
<line x1="1053" y1="822.50" x2="1057.86" y2="822.50"/>
<line x1="1053" y1="699.50" x2="1057.86" y2="699.50"/>
<line x1="1053" y1="576.50" x2="1057.86" y2="576.50"/>
<line x1="1053" y1="454.50" x2="1057.86" y2="454.50"/>
<line x1="1053" y1="331.50" x2="1057.86" y2="331.50"/>
<line x1="1053" y1="208.50" x2="1057.86" y2="208.50"/>
<line x1="1053" y1="85.50" x2="1057.86" y2="85.50"/>
</g>
<g opacity="0.999">
<text x="78.08" y="818.51" font-size="22.7" transform="scale(0.9675,1)" xml:space="preserve">0</text>
<text x="50.19 64.23 78.15" y="697.53" font-size="22.7" transform="scale(0.9539,1)" xml:space="preserve">100</text>
<text x="50.01 64.18 78.07" y="576.59" font-size="22.7" transform="scale(0.9562,1)" xml:space="preserve">200</text>
<text x="51.53 65.41 79.32" y="455.55" font-size="22.7" transform="scale(0.9547,1)" xml:space="preserve">300</text>
<text x="50.20 63.92 77.65" y="334.50" font-size="22.7" transform="scale(0.9675,1)" xml:space="preserve">400</text>
<text x="51.55 65.62 79.61" y="214.12" font-size="22.7" transform="scale(0.9494,1)" xml:space="preserve">500</text>
<text x="48.96 62.53 76.10" y="92.53" font-size="22.7" transform="scale(0.9785,1)" xml:space="preserve">600</text>
<text x="184.90" y="847.85" font-size="22.7" transform="scale(0.9325,1)" xml:space="preserve">2</text>
<text x="289.95" y="847.91" font-size="22.7" transform="scale(0.9676,1)" xml:space="preserve">4</text>
<text x="387.76" y="847.55" font-size="22.7" transform="scale(1.0013,1)" xml:space="preserve">6</text>
<text x="507.47" y="847.59" font-size="22.7" transform="scale(0.9779,1)" xml:space="preserve">8</text>
<text x="631.64 645.78" y="848.10" font-size="22.7" transform="scale(0.9468,1)" xml:space="preserve">10</text>
<text x="760.49 774.61" y="847.86" font-size="22.7" transform="scale(0.9284,1)" xml:space="preserve">12</text>
<text x="859.09 873.22" y="847.91" font-size="22.7" transform="scale(0.9475,1)" xml:space="preserve">14</text>
<text x="956.42 970.32" y="847.59" font-size="22.7" transform="scale(0.9640,1)" xml:space="preserve">16</text>
<text x="1098.49" y="830.01" font-size="22.7" transform="scale(0.9675,1)" xml:space="preserve">0</text>
<text x="1163.81" y="707.59" font-size="22.7" transform="scale(0.9130,1)" xml:space="preserve">5</text>
<text x="1121.68 1135.82" y="585.10" font-size="22.7" transform="scale(0.9468,1)" xml:space="preserve">10</text>
<text x="1156.69 1171.17" y="461.94" font-size="22.7" transform="scale(0.9183,1)" xml:space="preserve">15</text>
<text x="1117.27 1131.53" y="338.64" font-size="22.7" transform="scale(0.9504,1)" xml:space="preserve">20</text>
<text x="1151.02 1165.63" y="215.60" font-size="22.7" transform="scale(0.9226,1)" xml:space="preserve">25</text>
<text x="1120.05 1134.03" y="92.56" font-size="22.7" transform="scale(0.9484,1)" xml:space="preserve">30</text>
<text x="118.50 127.11 147.33 147.33 174.84 198.08 217.13 235.34 250.19 269.74 276.93 276.93 304.78 324.94 347.36 347.36 378.00 387.40 406.15 424.79 442.85 458.80 477.55 496.33 515.35 515.35 542.53 563.92 583.54 602.67 621.89 621.89 650.13 669.63 688.33 707.71 726.19 737.62 756.47 775.22 786.65 805.93 805.93 834.39 853.64 872.49 882.46 901.95 920.80 931.17 950.27 950.27 950.27 987.37 1009.23" y="44.01" font-size="30.4" transform="scale(0.9244,1)" xml:space="preserve">IRF Uppsala SDR Ionosonde UP158 2025-12-13 10:20:00  UT</text>
<text x="244.32 262.38 280.41 288.00 303.54 319.76 336.71 346.34 354.22 372.03 390.86 404.67 425.91 436.87 455.39 473.96 492.15 501.86 520.33 520.33 547.15 559.26 576.93 598.47 598.47 618.67 636.73 653.44 672.97 672.97 697.27 716.39 737.86 761.80 783.56 802.06 820.27 829.98 848.46" y="77.01" font-size="30.4" transform="scale(0.9536,1)" xml:space="preserve">noise_floor=-119.30 (dB) peak SNR=95.36</text>
<text x="478.51 491.76 499.84 513.80 528.27 542.50 556.65 570.39 583.57 583.57 603.25 612.22 631.78 648.93 661.71" y="874.01" font-size="23.2" transform="scale(0.9218,1)" xml:space="preserve">Frequency (MHz)</text>
<text x="-0.41 14.82 21.52 30.51 38.57 51.49 65.99 65.99 79.68 87.10 101.68 115.45 129.36 129.36 149.37 158.83 171.93 193.27" y="0" font-size="23.2" transform="translate(38.17,549.90) rotate(-90) scale(0.9494,1)" xml:space="preserve">Virtual range (km)</text>
<text x="-1.48 14.61 32.65 32.65 57.15 67.47 82.47 100.06" y="0" font-size="23.2" transform="translate(1108.78,499.96) rotate(-90) scale(0.8555,1)" xml:space="preserve">SNR (dB)</text>
</g>
</svg>
</body></html>
